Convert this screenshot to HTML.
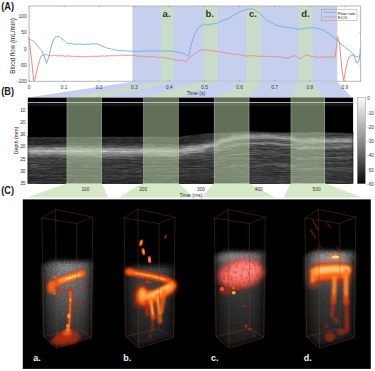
<!DOCTYPE html><html><head><meta charset="utf-8"><style>
html,body{margin:0;padding:0;background:#fff;width:375px;height:371px;overflow:hidden}
svg{display:block}
text{font-family:"Liberation Sans",sans-serif}
</style></head><body>
<svg width="375" height="371" viewBox="0 0 375 371">
<defs>
<filter id="hb" x="0" y="0" width="100%" height="100%"><feGaussianBlur stdDeviation="1.2 0.45"/></filter>
<filter id="b05" filterUnits="userSpaceOnUse" x="0" y="0" width="375" height="371"><feGaussianBlur stdDeviation="0.5"/></filter>
<filter id="b08" filterUnits="userSpaceOnUse" x="0" y="0" width="375" height="371"><feGaussianBlur stdDeviation="0.8"/></filter>
<filter id="b1" filterUnits="userSpaceOnUse" x="0" y="0" width="375" height="371"><feGaussianBlur stdDeviation="1.2"/></filter>
<filter id="b2" filterUnits="userSpaceOnUse" x="0" y="0" width="375" height="371"><feGaussianBlur stdDeviation="2"/></filter>
<filter id="b3" filterUnits="userSpaceOnUse" x="0" y="0" width="375" height="371"><feGaussianBlur stdDeviation="3"/></filter>
<filter id="b5" filterUnits="userSpaceOnUse" x="0" y="0" width="375" height="371"><feGaussianBlur stdDeviation="5"/></filter>
<linearGradient id="cbar" x1="0" y1="0" x2="0" y2="1"><stop offset="0" stop-color="#fafafa"/><stop offset="0.5" stop-color="#909090"/><stop offset="1" stop-color="#050505"/></linearGradient>
</defs>
<rect width="375" height="371" fill="#fff"/>

<rect x="132.4" y="6" width="204.9" height="75.3" fill="#c6d0ee"/>
<rect x="160.5" y="6" width="13.0" height="75.3" fill="#c9dcc9"/>
<rect x="203.5" y="6" width="14.099999999999994" height="75.3" fill="#c9dcc9"/>
<rect x="246.5" y="6" width="14.199999999999989" height="75.3" fill="#c9dcc9"/>
<rect x="298.5" y="6" width="14.300000000000011" height="75.3" fill="#c9dcc9"/>
<rect x="29" y="6" width="331.6" height="75.3" fill="none" stroke="#b8b8b8" stroke-width="1"/>
<line x1="29.0" y1="81.3" x2="29.0" y2="80.0" stroke="#777" stroke-width="0.5"/>
<line x1="29.0" y1="6" x2="29.0" y2="7.3" stroke="#777" stroke-width="0.5"/>
<line x1="64.1" y1="81.3" x2="64.1" y2="80.0" stroke="#777" stroke-width="0.5"/>
<line x1="64.1" y1="6" x2="64.1" y2="7.3" stroke="#777" stroke-width="0.5"/>
<line x1="99.2" y1="81.3" x2="99.2" y2="80.0" stroke="#777" stroke-width="0.5"/>
<line x1="99.2" y1="6" x2="99.2" y2="7.3" stroke="#777" stroke-width="0.5"/>
<line x1="134.3" y1="81.3" x2="134.3" y2="80.0" stroke="#777" stroke-width="0.5"/>
<line x1="134.3" y1="6" x2="134.3" y2="7.3" stroke="#777" stroke-width="0.5"/>
<line x1="169.4" y1="81.3" x2="169.4" y2="80.0" stroke="#777" stroke-width="0.5"/>
<line x1="169.4" y1="6" x2="169.4" y2="7.3" stroke="#777" stroke-width="0.5"/>
<line x1="204.5" y1="81.3" x2="204.5" y2="80.0" stroke="#777" stroke-width="0.5"/>
<line x1="204.5" y1="6" x2="204.5" y2="7.3" stroke="#777" stroke-width="0.5"/>
<line x1="239.6" y1="81.3" x2="239.6" y2="80.0" stroke="#777" stroke-width="0.5"/>
<line x1="239.6" y1="6" x2="239.6" y2="7.3" stroke="#777" stroke-width="0.5"/>
<line x1="274.7" y1="81.3" x2="274.7" y2="80.0" stroke="#777" stroke-width="0.5"/>
<line x1="274.7" y1="6" x2="274.7" y2="7.3" stroke="#777" stroke-width="0.5"/>
<line x1="309.8" y1="81.3" x2="309.8" y2="80.0" stroke="#777" stroke-width="0.5"/>
<line x1="309.8" y1="6" x2="309.8" y2="7.3" stroke="#777" stroke-width="0.5"/>
<line x1="344.9" y1="81.3" x2="344.9" y2="80.0" stroke="#777" stroke-width="0.5"/>
<line x1="344.9" y1="6" x2="344.9" y2="7.3" stroke="#777" stroke-width="0.5"/>
<line x1="29" y1="16" x2="30.3" y2="16" stroke="#777" stroke-width="0.5"/>
<line x1="360.6" y1="16" x2="359.3" y2="16" stroke="#777" stroke-width="0.5"/>
<text x="26.7" y="17.7" font-size="4.8" text-anchor="end" fill="#333">100</text>
<line x1="29" y1="32.4" x2="30.3" y2="32.4" stroke="#777" stroke-width="0.5"/>
<line x1="360.6" y1="32.4" x2="359.3" y2="32.4" stroke="#777" stroke-width="0.5"/>
<text x="26.7" y="34.1" font-size="4.8" text-anchor="end" fill="#333">50</text>
<line x1="29" y1="48.9" x2="30.3" y2="48.9" stroke="#777" stroke-width="0.5"/>
<line x1="360.6" y1="48.9" x2="359.3" y2="48.9" stroke="#777" stroke-width="0.5"/>
<text x="26.7" y="50.6" font-size="4.8" text-anchor="end" fill="#333">0</text>
<line x1="29" y1="65.4" x2="30.3" y2="65.4" stroke="#777" stroke-width="0.5"/>
<line x1="360.6" y1="65.4" x2="359.3" y2="65.4" stroke="#777" stroke-width="0.5"/>
<text x="26.7" y="67.10000000000001" font-size="4.8" text-anchor="end" fill="#333">-50</text>
<line x1="29" y1="81.3" x2="30.3" y2="81.3" stroke="#777" stroke-width="0.5"/>
<line x1="360.6" y1="81.3" x2="359.3" y2="81.3" stroke="#777" stroke-width="0.5"/>
<text x="26.7" y="83.0" font-size="4.8" text-anchor="end" fill="#333">-100</text>
<polyline points="28.9,37.5 29.8,44.6 30.6,52.0 31.5,59.2 32.4,67.5 33.2,76.0 34.1,81.2 35.2,78.2 36.1,73.7 37.1,69.8 38.0,65.7 38.8,63.0 39.6,60.4 40.4,57.9 41.2,55.9 42.3,55.5 43.3,55.3 44.4,54.8 45.2,54.5 46.0,54.6 46.8,54.8 47.6,54.9 48.4,55.4 49.2,55.6 50.0,55.8 50.8,55.4 51.6,55.8 52.4,55.5 53.3,55.6 54.1,55.8 54.9,55.4 55.7,55.4 56.5,56.0 57.3,55.6 58.1,55.7 59.0,55.9 59.8,56.0 60.6,55.5 61.4,55.8 62.2,55.9 63.0,55.9 63.8,55.8 64.7,56.1 65.5,56.3 66.3,56.0 67.1,56.1 67.9,55.8 68.7,56.0 69.5,56.3 70.3,55.9 71.2,56.5 72.0,56.5 72.8,56.0 73.6,56.6 74.4,56.2 75.2,56.6 76.0,56.6 76.9,56.3 77.7,56.6 78.5,56.6 79.3,56.7 80.1,56.4 80.9,56.7 81.7,56.9 82.6,56.7 83.4,56.7 84.2,56.4 85.0,56.7 85.8,56.6 86.6,56.8 87.4,56.7 88.2,56.6 89.1,56.3 89.9,56.6 90.7,56.6 91.5,56.2 92.3,56.7 93.1,56.5 93.9,56.1 94.7,56.7 95.5,56.1 96.4,56.2 97.2,56.4 98.0,56.3 98.8,56.3 99.6,56.3 100.4,56.1 101.2,56.0 102.0,55.9 102.8,55.8 103.7,56.2 104.5,56.2 105.3,56.0 106.1,56.1 106.9,55.8 107.7,55.7 108.5,55.8 109.3,56.1 110.2,55.5 111.0,55.8 111.8,55.6 112.6,55.9 113.4,55.6 114.2,55.6 115.0,55.6 115.8,55.7 116.6,55.8 117.5,55.5 118.3,55.8 119.1,55.2 119.9,55.3 120.7,55.2 121.5,55.2 122.3,55.6 123.1,55.5 123.9,55.1 124.8,55.1 125.6,55.2 126.4,55.4 127.2,55.4 128.0,55.4 128.8,55.3 129.6,55.1 130.4,55.3 131.2,55.2 132.0,55.5 132.8,55.6 133.6,55.4 134.4,55.5 135.2,55.9 136.0,55.4 136.8,56.0 137.7,56.2 138.5,56.2 139.3,55.9 140.1,56.1 140.9,56.2 141.7,56.3 142.5,56.6 143.3,56.4 144.1,56.2 144.9,56.6 145.7,56.4 146.5,56.6 147.3,56.7 148.1,56.3 148.9,56.9 149.7,56.8 150.5,56.8 151.3,56.9 152.1,56.9 152.9,56.7 153.7,57.0 154.5,56.7 155.3,57.1 156.2,57.3 157.0,57.2 157.8,57.3 158.6,57.7 159.4,57.7 160.2,57.2 161.0,57.7 161.8,57.7 162.6,57.3 163.4,57.6 164.2,57.6 165.0,57.5 165.8,58.0 166.6,58.4 167.5,58.1 168.3,58.7 169.1,58.7 169.9,58.4 170.7,59.1 171.6,59.1 172.4,59.4 173.2,59.4 174.0,59.6 174.8,59.5 175.7,59.9 176.5,60.2 177.3,60.3 178.1,60.1 178.9,60.5 179.8,60.5 180.6,60.3 181.4,60.4 182.2,60.6 183.0,60.8 183.9,61.0 184.7,61.3 185.5,61.6 186.3,60.8 187.2,59.9 188.0,59.3 188.8,58.3 189.7,57.6 190.5,57.1 191.3,56.1 192.2,55.1 193.0,54.9 193.9,54.3 194.7,53.5 195.6,53.1 196.4,52.7 197.3,52.3 198.2,51.5 199.0,50.9 199.9,50.6 200.7,50.5 201.6,49.6 202.4,49.9 203.3,49.8 204.1,49.9 205.0,49.9 205.8,50.2 206.6,50.1 207.5,50.1 208.3,50.2 209.1,50.4 210.0,50.7 210.8,50.5 211.7,50.5 212.5,50.9 213.3,51.0 214.2,51.3 215.0,50.9 215.9,51.2 216.7,51.3 217.5,51.2 218.3,52.0 219.1,51.6 219.9,51.6 220.8,52.0 221.6,52.0 222.4,52.4 223.2,52.3 224.0,52.3 224.8,52.4 225.6,53.0 226.4,52.8 227.3,53.3 228.1,53.2 228.9,53.7 229.7,53.4 230.5,53.4 231.3,53.6 232.1,54.1 232.9,54.1 233.7,54.0 234.5,53.9 235.3,54.4 236.1,54.8 236.9,54.6 237.8,54.3 238.6,54.4 239.4,54.6 240.2,54.8 241.0,54.8 241.8,54.9 242.6,55.5 243.4,55.7 244.2,55.4 245.0,56.0 245.8,55.7 246.6,56.0 247.4,56.1 248.2,56.1 249.0,55.5 249.9,55.7 250.7,56.0 251.5,56.2 252.3,55.7 253.1,55.8 253.9,56.2 254.7,55.8 255.5,56.0 256.3,56.0 257.1,56.2 257.9,56.4 258.7,55.9 259.6,56.4 260.4,56.4 261.2,56.5 262.0,56.3 262.8,56.6 263.6,56.2 264.4,56.3 265.2,56.2 266.0,56.6 266.8,56.4 267.6,56.3 268.4,56.3 269.3,56.7 270.1,56.6 270.9,56.7 271.7,56.5 272.5,56.6 273.3,56.4 274.1,56.8 274.9,56.4 275.7,56.7 276.5,57.0 277.3,56.9 278.1,56.6 279.0,56.7 279.8,57.1 280.6,57.0 281.4,57.2 282.2,57.2 283.0,57.0 283.8,57.7 284.6,57.9 285.4,58.0 286.2,58.4 287.0,58.6 287.8,58.3 288.6,58.3 289.4,57.2 290.2,57.0 291.0,56.2 291.9,56.1 292.9,56.4 293.8,56.1 294.8,55.9 295.7,55.9 296.5,56.7 297.3,57.1 298.1,57.2 299.0,57.8 299.8,58.8 300.6,58.7 301.6,58.2 302.5,57.3 303.5,56.8 304.4,55.9 305.4,55.2 306.2,55.2 307.0,55.1 307.8,55.3 308.6,55.4 309.4,56.1 310.2,55.8 311.0,55.9 311.8,56.7 312.6,56.4 313.4,57.0 314.2,56.6 315.0,57.1 315.8,56.9 316.6,57.3 317.4,57.2 318.2,57.2 319.1,57.3 319.9,57.4 320.7,57.0 321.5,57.2 322.3,57.1 323.1,56.8 323.9,57.3 324.7,57.2 325.6,57.3 326.4,56.9 327.2,57.1 328.0,57.1 328.8,57.3 329.6,56.8 330.4,57.0 331.2,57.1 332.1,56.8 332.9,57.1 333.7,57.3 334.5,57.0 335.3,57.2 336.4,46.9 337.5,36.4 338.4,39.2 339.4,42.3 340.2,51.2 341.1,60.6 341.9,69.7 342.8,75.3 343.7,80.8 344.6,75.8 345.5,70.2 346.3,66.9 347.2,63.7 348.0,60.1 349.5,56.8 350.3,56.0 351.2,55.3 352.0,55.1 352.8,55.4 353.6,55.8 354.4,55.7 355.2,56.3 356.0,56.3 356.8,56.7 357.7,56.7 358.5,56.2 359.4,56.6 360.2,56.3" fill="none" stroke="#f28686" stroke-width="1" stroke-linejoin="round"/>
<polyline points="28.9,38.3 29.8,39.1 30.6,39.6 31.5,40.3 32.4,40.9 33.3,41.1 34.1,41.6 35.0,42.7 35.8,43.3 36.6,44.3 37.4,45.8 38.2,46.4 39.1,47.7 39.9,48.4 40.7,49.5 41.5,50.2 42.3,51.5 43.4,54.5 44.5,57.0 45.5,60.3 46.6,63.4 47.5,60.3 48.5,58.2 49.7,53.2 50.9,48.1 52.0,44.0 53.2,40.8 54.4,38.6 55.5,36.9 56.4,36.7 57.2,36.3 58.4,36.7 59.6,36.6 60.5,37.6 61.3,38.1 62.1,39.2 63.0,39.9 63.8,40.0 64.7,40.8 65.5,41.6 66.4,42.8 67.2,43.2 68.2,43.5 69.3,43.4 70.3,43.7 71.2,43.7 72.2,43.8 73.1,44.0 74.1,44.1 75.0,44.4 75.8,44.2 76.7,44.3 77.5,44.2 78.3,44.2 79.2,44.0 80.0,43.6 80.8,44.2 81.7,44.4 82.5,44.4 83.3,44.3 84.2,44.5 85.0,44.3 85.8,44.7 86.6,44.4 87.4,44.2 88.2,44.0 89.0,44.5 89.8,44.5 90.7,43.8 91.5,44.2 92.3,43.9 93.1,43.7 93.9,43.7 94.7,44.0 95.6,44.2 96.5,43.8 97.3,44.4 98.2,44.2 99.1,44.9 100.0,44.8 100.8,45.6 101.7,46.0 102.5,46.1 103.3,46.8 104.1,46.8 104.9,47.0 105.8,47.8 106.6,47.8 107.4,48.1 108.2,48.4 109.1,48.7 109.9,48.5 110.7,48.6 111.5,49.4 112.4,49.2 113.2,49.8 114.0,49.9 114.8,49.7 115.7,49.9 116.5,50.1 117.3,50.4 118.1,50.4 119.0,50.5 119.8,50.6 120.7,50.9 121.5,50.6 122.3,50.6 123.2,50.9 124.0,50.6 124.8,50.7 125.7,51.2 126.5,51.0 127.4,51.1 128.2,50.8 129.0,51.1 129.9,51.3 130.7,50.9 131.6,51.4 132.4,51.5 133.2,51.1 134.1,51.5 134.9,51.3 135.8,51.4 136.6,51.2 137.4,51.4 138.3,51.4 139.1,50.9 139.9,50.9 140.8,51.3 141.6,51.5 142.5,51.0 143.3,51.1 144.1,51.2 145.0,51.0 145.8,51.0 146.6,50.9 147.5,51.0 148.3,51.1 149.2,50.9 150.0,50.9 150.8,51.2 151.7,50.7 152.5,51.0 153.3,51.1 154.2,50.8 155.0,50.8 155.8,51.2 156.7,50.8 157.5,50.7 158.3,50.9 159.2,51.1 160.0,50.7 160.8,50.8 161.7,50.8 162.5,51.2 163.3,50.9 164.2,51.2 165.0,50.7 165.9,50.8 166.7,51.1 167.6,51.3 168.4,51.1 169.3,51.0 170.2,50.9 171.0,51.3 171.9,51.1 172.7,51.6 173.6,51.6 174.5,51.3 175.3,51.5 176.2,52.1 177.0,52.1 177.9,52.4 178.8,52.2 179.6,52.2 180.5,52.5 181.3,53.0 182.2,52.7 183.0,53.2 183.8,53.6 184.6,54.0 185.4,54.4 186.3,55.2 187.1,55.1 187.9,55.4 188.7,56.4 189.5,52.7 190.3,49.2 191.2,45.2 192.0,41.9 193.1,38.7 194.1,35.0 195.0,33.9 195.8,32.4 196.7,30.8 197.5,29.1 198.4,27.5 199.3,26.9 200.2,26.2 201.1,25.5 202.0,25.3 202.9,24.5 203.8,24.2 204.7,23.8 205.5,24.6 206.4,24.6 207.2,24.9 208.1,25.1 209.0,24.9 209.8,24.6 210.7,24.0 211.5,24.4 212.4,23.8 213.3,23.8 214.1,23.9 215.0,23.6 215.8,23.4 216.7,23.6 217.6,23.0 218.4,22.3 219.3,21.9 220.1,21.9 221.0,21.2 221.9,21.1 222.7,20.4 223.6,20.0 224.5,19.9 225.3,19.8 226.2,19.0 227.1,19.1 228.0,18.9 228.8,18.4 229.7,18.1 230.6,17.0 231.4,16.9 232.3,16.5 233.1,15.4 234.0,15.0 234.9,14.5 235.7,14.1 236.6,13.5 237.4,13.0 238.3,12.7 239.1,11.8 240.0,11.6 240.8,11.3 241.7,11.0 242.5,10.6 243.3,11.0 244.2,10.6 245.0,9.7 246.0,9.7 247.0,9.2 248.0,8.9 248.9,8.9 249.9,9.2 250.8,9.2 251.7,9.1 252.7,9.0 253.6,9.2 254.4,9.6 255.2,10.4 256.0,11.1 256.8,11.4 257.6,11.7 258.4,12.3 259.2,13.0 260.0,13.7 260.8,14.6 261.6,15.1 262.5,16.2 263.3,16.9 264.1,17.6 265.0,18.4 265.8,19.3 266.6,20.2 267.4,20.5 268.2,21.1 269.1,21.3 269.9,21.6 270.7,22.2 271.5,22.7 272.4,22.7 273.2,23.4 274.0,23.8 274.8,24.5 275.7,25.0 276.5,25.0 277.3,25.8 278.1,25.9 278.9,25.7 279.8,26.0 280.6,25.9 281.4,26.5 282.2,26.6 283.1,26.9 283.9,27.0 284.7,27.1 285.5,27.3 286.4,27.3 287.2,27.2 288.0,27.7 288.8,27.4 289.7,27.6 290.5,28.1 291.4,27.7 292.2,27.9 293.0,28.0 293.9,28.7 294.7,28.3 295.5,28.3 296.4,29.0 297.2,28.6 298.1,29.2 298.9,29.2 299.7,29.2 300.6,29.2 301.4,28.8 302.2,28.8 303.1,28.2 303.9,28.6 304.7,28.3 305.5,28.3 306.4,27.8 307.2,28.1 308.0,28.1 308.9,27.4 309.7,27.5 310.6,27.7 311.5,27.9 312.4,27.6 313.2,27.6 314.1,27.7 315.0,28.0 315.8,28.3 316.6,28.2 317.4,28.4 318.2,28.7 319.0,28.8 319.9,29.1 320.7,29.1 321.5,29.6 322.3,30.1 323.1,29.9 323.9,30.4 324.7,30.2 325.5,31.1 326.3,31.8 327.1,32.3 328.0,32.8 328.8,33.4 329.6,34.1 330.4,35.0 331.2,35.1 332.1,35.8 332.9,36.9 333.7,37.7 334.5,38.1 335.4,38.8 336.2,39.7 337.0,40.0 337.9,40.9 338.8,41.8 339.7,43.0 340.6,43.5 341.5,44.1 342.3,45.1 343.2,46.0 344.1,46.3 344.9,47.2 345.7,47.6 346.5,48.6 347.3,49.0 348.2,49.5 349.0,50.1 349.8,50.6 350.6,51.5 351.4,52.1 352.4,53.0 353.5,54.2 355.0,58.4 356.5,62.8 357.8,63.0 359.0,60.8 359.8,55.0 360.3,49.5" fill="none" stroke="#70b0e4" stroke-width="1" stroke-linejoin="round"/>
<rect x="337.3" y="9.4" width="19.5" height="11" fill="#fff"/>
<rect x="321.6" y="9.2" width="35.4" height="11.4" fill="none" stroke="#9a9a9a" stroke-width="0.5"/>
<line x1="323.4" y1="12.4" x2="336.8" y2="12.4" stroke="#70b0e4" stroke-width="0.8"/>
<line x1="323.4" y1="17" x2="336.8" y2="17" stroke="#f28686" stroke-width="0.8"/>
<text x="337.8" y="14.6" font-size="4.3" fill="#222">Flow rate</text>
<text x="337.8" y="19.4" font-size="4.3" fill="#222">ECG</text>
<text x="162.6" y="17" font-size="9.5" font-weight="bold" fill="#333">a.</text>
<text x="205.4" y="17" font-size="9.5" font-weight="bold" fill="#333">b.</text>
<text x="248.9" y="17" font-size="9.5" font-weight="bold" fill="#333">c.</text>
<text x="301.3" y="17" font-size="9.5" font-weight="bold" fill="#333">d.</text>
<text transform="translate(15.2,46) rotate(-90)" font-size="6.3" text-anchor="middle" fill="#222">Blood flow (mL/min)</text>
<text x="1.2" y="9.7" font-size="10" font-weight="bold" textLength="12.8" lengthAdjust="spacingAndGlyphs" fill="#1a1a1a">(A)</text>
<polygon points="132.4,81.8 337.3,81.8 352,97.6 27.8,97.6" fill="#c6d0ee"/>
<polygon points="160.5,81.8 173.5,81.8 101.9,97.6 66.7,97.6" fill="#c9dcc9"/>
<polygon points="203.5,81.8 217.6,81.8 178.7,97.6 143.2,97.6" fill="#c9dcc9"/>
<polygon points="246.5,81.8 260.7,81.8 249.3,97.6 213.9,97.6" fill="#c9dcc9"/>
<polygon points="298.5,81.8 312.8,81.8 325.0,97.6 290.7,97.6" fill="#c9dcc9"/>
<text x="29.0" y="88.7" font-size="4.8" text-anchor="middle" fill="#333">0</text>
<text x="64.1" y="88.7" font-size="4.8" text-anchor="middle" fill="#333">0.1</text>
<text x="99.2" y="88.7" font-size="4.8" text-anchor="middle" fill="#333">0.2</text>
<text x="134.3" y="88.7" font-size="4.8" text-anchor="middle" fill="#333">0.3</text>
<text x="169.4" y="88.7" font-size="4.8" text-anchor="middle" fill="#333">0.4</text>
<text x="204.5" y="88.7" font-size="4.8" text-anchor="middle" fill="#333">0.5</text>
<text x="239.6" y="88.7" font-size="4.8" text-anchor="middle" fill="#333">0.6</text>
<text x="274.7" y="88.7" font-size="4.8" text-anchor="middle" fill="#333">0.7</text>
<text x="309.8" y="88.7" font-size="4.8" text-anchor="middle" fill="#333">0.8</text>
<text x="344.9" y="88.7" font-size="4.8" text-anchor="middle" fill="#333">0.9</text>
<text x="196" y="95.2" font-size="5" text-anchor="middle" fill="#333">Time (s)</text>
<text x="1.2" y="95.1" font-size="10" font-weight="bold" textLength="12.8" lengthAdjust="spacingAndGlyphs" fill="#1a1a1a">(B)</text>
<rect x="27.8" y="97.6" width="325.3" height="85.70000000000002" fill="#000"/>
<rect x="27.8" y="102.0" width="325.3" height="1.1" fill="#a8a8a8"/>
<rect x="27.8" y="104.6" width="325.3" height="0.8" fill="#303030"/>
<g filter="url(#hb)">
<path d="M231.7 131h5.1v1h-5.1zM266.2 131h1.5v1h-1.5zM267.8 131h6.5v1h-6.5zM305.4 131h5.2v1h-5.2zM310.6 131h1.5v1h-1.5zM312.1 131h6.6v1h-6.6zM318.7 131h4.6v1h-4.6zM323.3 131h4.8v1h-4.8zM212.5 132h6.5v1h-6.5zM347.4 132h5.3v1h-5.3zM202.0 133h2.3v1h-2.3zM189.1 134h3.4v1h-3.4zM27.8 136h0.7v1h-0.7zM28.5 136h5.1v1h-5.1zM33.7 136h3.4v1h-3.4zM37.1 136h2.7v1h-2.7zM39.8 136h3.9v1h-3.9zM43.7 136h5.7v1h-5.7zM49.4 136h4.3v1h-4.3zM53.7 136h2.7v1h-2.7zM56.4 136h4.8v1h-4.8zM61.2 136h4.9v1h-4.9zM75.8 136h3.9v1h-3.9zM79.7 136h4.7v1h-4.7zM88.8 136h4.0v1h-4.0z" fill="rgb(0,0,0)"/>
<path d="M236.9 131h3.8v1h-3.8zM259.6 131h6.6v1h-6.6zM219.1 132h3.8v1h-3.8zM341.8 132h5.6v1h-5.6zM352.7 132h0.4v1h-0.4zM192.6 134h4.9v1h-4.9zM184.6 135h1.9v1h-1.9zM66.1 136h4.0v1h-4.0zM70.1 136h5.7v1h-5.7zM84.4 136h4.4v1h-4.4zM92.7 136h1.8v1h-1.8zM94.5 136h6.7v1h-6.7zM101.2 136h2.8v1h-2.8zM104.0 136h5.0v1h-5.0zM109.0 136h3.8v1h-3.8zM112.9 136h3.7v1h-3.7zM116.5 136h4.0v1h-4.0zM120.5 136h4.3v1h-4.3zM124.8 136h6.0v1h-6.0zM130.8 136h3.1v1h-3.1zM133.9 136h3.4v1h-3.4zM137.3 136h4.3v1h-4.3zM141.6 136h4.7v1h-4.7zM146.4 136h6.7v1h-6.7zM153.0 136h3.4v1h-3.4zM162.9 136h6.9v1h-6.9zM174.9 136h3.2v1h-3.2z" fill="rgb(8,8,8)"/>
<path d="M240.7 131h4.3v1h-4.3zM255.4 131h4.2v1h-4.2zM222.9 132h3.0v1h-3.0zM335.1 132h6.7v1h-6.7zM156.4 136h6.5v1h-6.5zM169.8 136h5.1v1h-5.1zM178.1 136h4.7v1h-4.7z" fill="rgb(16,16,16)"/>
<path d="M225.9 132h2.6v1h-2.6zM228.5 132h5.2v1h-5.2zM329.7 132h5.4v1h-5.4zM186.5 135h2.9v1h-2.9z" fill="rgb(24,24,24)"/>
<path d="M245.0 131h4.7v1h-4.7zM249.7 131h2.2v1h-2.2zM251.9 131h3.5v1h-3.5zM281.3 132h5.4v1h-5.4zM288.9 132h5.9v1h-5.9zM300.8 132h6.9v1h-6.9zM324.6 132h5.1v1h-5.1zM204.3 133h6.2v1h-6.2zM197.5 134h5.8v1h-5.8zM189.4 135h4.5v1h-4.5zM27.8 137h4.0v1h-4.0zM51.4 137h3.4v1h-3.4zM74.2 137h1.7v1h-1.7zM166.6 137h5.5v1h-5.5zM27.8 139h0.4v1h-0.4zM28.2 139h3.5v1h-3.5zM71.7 139h6.9v1h-6.9zM87.8 139h2.8v1h-2.8zM90.6 139h5.1v1h-5.1zM97.3 139h2.2v1h-2.2zM99.4 139h5.4v1h-5.4zM124.0 139h2.2v1h-2.2zM153.7 139h6.0v1h-6.0zM159.7 139h6.0v1h-6.0zM165.7 139h3.9v1h-3.9zM175.4 139h5.9v1h-5.9zM181.3 139h4.0v1h-4.0zM191.2 139h2.6v1h-2.6zM27.8 140h4.2v1h-4.2zM40.7 140h1.9v1h-1.9zM42.7 140h3.0v1h-3.0zM67.8 140h6.0v1h-6.0zM77.1 140h5.3v1h-5.3zM82.4 140h3.1v1h-3.1zM85.5 140h5.8v1h-5.8zM91.3 140h4.8v1h-4.8zM102.5 140h5.4v1h-5.4zM40.9 141h4.2v1h-4.2zM54.9 141h2.3v1h-2.3zM57.2 141h3.0v1h-3.0zM139.7 141h3.1v1h-3.1zM142.8 141h2.8v1h-2.8zM151.9 141h2.0v1h-2.0zM154.0 141h6.7v1h-6.7zM160.7 141h5.9v1h-5.9zM48.1 142h1.6v1h-1.6zM49.7 142h4.7v1h-4.7zM54.4 142h1.6v1h-1.6zM56.0 142h3.3v1h-3.3zM59.3 142h4.9v1h-4.9zM64.3 142h5.7v1h-5.7zM79.3 142h2.7v1h-2.7zM82.0 142h4.0v1h-4.0zM122.8 142h3.7v1h-3.7zM134.2 142h5.2v1h-5.2zM178.4 142h3.7v1h-3.7zM152.5 143h2.3v1h-2.3zM133.1 174h5.6v1h-5.6zM158.0 174h4.8v1h-4.8zM173.3 174h2.9v1h-2.9zM47.3 177h5.8v1h-5.8zM78.1 177h5.7v1h-5.7zM87.0 177h3.9v1h-3.9zM37.5 178h2.1v1h-2.1zM208.5 179h1.6v1h-1.6zM216.6 179h6.7v1h-6.7zM31.2 180h6.2v1h-6.2zM195.9 180h3.1v1h-3.1zM189.8 181h5.7v1h-5.7zM216.1 181h6.1v1h-6.1zM103.6 182h2.2v1h-2.2zM194.4 182h5.1v1h-5.1zM41.3 183h5.7v1h-5.7zM62.5 183h5.6v1h-5.6zM74.1 183h7.0v1h-7.0zM89.4 183h2.0v1h-2.0zM126.6 183h6.8v1h-6.8zM133.4 183h4.7v1h-4.7zM172.8 183h6.7v1h-6.7zM179.4 183h5.5v1h-5.5zM186.6 183h4.5v1h-4.5z" fill="rgb(32,32,32)"/>
<path d="M233.6 132h3.7v1h-3.7zM271.9 132h3.6v1h-3.6zM275.5 132h1.6v1h-1.6zM277.1 132h4.2v1h-4.2zM286.7 132h2.1v1h-2.1zM210.6 133h2.3v1h-2.3zM193.9 135h3.4v1h-3.4zM197.3 135h2.8v1h-2.8zM203.4 135h3.6v1h-3.6zM213.2 135h2.5v1h-2.5zM189.0 136h5.3v1h-5.3zM196.5 136h3.0v1h-3.0zM37.5 137h4.3v1h-4.3zM67.1 137h5.7v1h-5.7zM78.6 137h4.7v1h-4.7zM83.3 137h6.2v1h-6.2zM89.5 137h5.2v1h-5.2zM134.1 137h4.7v1h-4.7zM153.2 137h6.5v1h-6.5zM159.7 137h6.9v1h-6.9zM172.1 137h6.1v1h-6.1zM190.0 137h4.5v1h-4.5zM194.5 137h6.6v1h-6.6zM215.8 137h3.6v1h-3.6zM68.9 138h3.0v1h-3.0zM71.9 138h3.1v1h-3.1zM78.5 138h6.6v1h-6.6zM108.4 138h4.9v1h-4.9zM113.2 138h1.7v1h-1.7zM121.9 138h5.1v1h-5.1zM149.4 138h5.2v1h-5.2zM173.9 138h3.1v1h-3.1zM186.1 138h3.3v1h-3.3zM203.1 138h2.1v1h-2.1zM35.6 139h6.1v1h-6.1zM45.7 139h4.6v1h-4.6zM62.2 139h1.5v1h-1.5zM69.2 139h2.6v1h-2.6zM78.6 139h1.6v1h-1.6zM80.2 139h5.8v1h-5.8zM95.7 139h1.6v1h-1.6zM104.9 139h5.4v1h-5.4zM110.3 139h6.8v1h-6.8zM117.1 139h6.9v1h-6.9zM126.2 139h6.4v1h-6.4zM132.6 139h3.5v1h-3.5zM136.1 139h5.5v1h-5.5zM147.8 139h2.4v1h-2.4zM150.2 139h3.5v1h-3.5zM188.3 139h3.0v1h-3.0zM193.8 139h2.8v1h-2.8zM196.5 139h5.6v1h-5.6zM32.0 140h4.9v1h-4.9zM36.9 140h3.9v1h-3.9zM45.7 140h2.2v1h-2.2zM47.9 140h2.8v1h-2.8zM57.0 140h4.6v1h-4.6zM63.7 140h4.1v1h-4.1zM73.8 140h3.3v1h-3.3zM96.1 140h3.7v1h-3.7zM99.8 140h2.7v1h-2.7zM126.4 140h3.1v1h-3.1zM135.2 140h3.9v1h-3.9zM179.2 140h4.7v1h-4.7zM27.8 141h1.0v1h-1.0zM33.9 141h3.1v1h-3.1zM37.0 141h1.8v1h-1.8zM48.6 141h2.8v1h-2.8zM63.2 141h6.0v1h-6.0zM77.4 141h3.1v1h-3.1zM83.7 141h5.4v1h-5.4zM94.2 141h6.2v1h-6.2zM100.4 141h4.4v1h-4.4zM104.9 141h4.4v1h-4.4zM111.2 141h4.1v1h-4.1zM121.1 141h6.7v1h-6.7zM133.9 141h1.9v1h-1.9zM135.7 141h4.0v1h-4.0zM145.6 141h6.4v1h-6.4zM175.8 141h5.1v1h-5.1zM180.9 141h2.6v1h-2.6zM187.3 141h6.2v1h-6.2zM197.4 141h2.2v1h-2.2zM32.1 142h3.8v1h-3.8zM42.8 142h5.3v1h-5.3zM70.0 142h3.1v1h-3.1zM73.1 142h6.3v1h-6.3zM86.0 142h3.8v1h-3.8zM89.9 142h6.4v1h-6.4zM102.0 142h4.9v1h-4.9zM126.5 142h2.8v1h-2.8zM143.8 142h5.0v1h-5.0zM152.7 142h4.4v1h-4.4zM161.5 142h4.2v1h-4.2zM165.7 142h6.5v1h-6.5zM172.2 142h6.2v1h-6.2zM182.1 142h6.5v1h-6.5zM34.7 143h6.5v1h-6.5zM41.3 143h5.3v1h-5.3zM53.3 143h5.7v1h-5.7zM120.5 143h2.1v1h-2.1zM141.4 143h4.9v1h-4.9zM154.8 143h5.5v1h-5.5zM160.3 143h3.9v1h-3.9zM166.1 143h6.1v1h-6.1zM175.5 143h6.8v1h-6.8zM182.2 143h4.3v1h-4.3zM28.5 144h3.9v1h-3.9zM36.1 144h6.3v1h-6.3zM45.0 144h4.8v1h-4.8zM88.3 144h4.2v1h-4.2zM103.1 144h2.3v1h-2.3zM233.8 156h5.0v1h-5.0zM244.8 156h2.9v1h-2.9zM280.1 156h1.8v1h-1.8zM281.2 158h2.3v1h-2.3zM126.9 163h4.6v1h-4.6zM134.0 163h4.2v1h-4.2zM190.5 163h6.6v1h-6.6zM67.7 164h4.2v1h-4.2zM71.8 164h6.8v1h-6.8zM139.8 164h5.6v1h-5.6zM158.2 164h3.8v1h-3.8zM171.4 164h6.7v1h-6.7zM126.6 166h2.3v1h-2.3zM60.3 167h4.0v1h-4.0zM154.1 167h2.1v1h-2.1zM156.2 167h5.8v1h-5.8zM176.3 167h2.6v1h-2.6zM185.4 167h1.8v1h-1.8zM191.7 167h5.0v1h-5.0zM75.3 168h1.6v1h-1.6zM76.9 168h2.9v1h-2.9zM79.8 168h6.8v1h-6.8zM88.2 168h3.9v1h-3.9zM92.1 168h5.6v1h-5.6zM119.6 168h4.9v1h-4.9zM208.6 168h5.8v1h-5.8zM27.8 170h3.1v1h-3.1zM37.6 170h3.8v1h-3.8zM27.8 171h3.9v1h-3.9zM110.3 171h2.0v1h-2.0zM78.5 172h2.3v1h-2.3zM114.7 172h1.6v1h-1.6zM175.5 172h1.7v1h-1.7zM275.4 172h5.6v1h-5.6zM285.4 172h5.2v1h-5.2zM290.6 172h3.4v1h-3.4zM27.8 173h2.5v1h-2.5zM41.9 173h6.0v1h-6.0zM60.7 173h4.7v1h-4.7zM68.2 173h1.9v1h-1.9zM92.0 173h4.9v1h-4.9zM96.9 173h4.1v1h-4.1zM127.0 173h3.0v1h-3.0zM150.9 173h6.1v1h-6.1zM191.1 173h2.5v1h-2.5zM53.8 174h6.3v1h-6.3zM60.1 174h4.4v1h-4.4zM71.4 174h5.7v1h-5.7zM116.3 174h6.4v1h-6.4zM146.4 174h4.6v1h-4.6zM162.7 174h3.5v1h-3.5zM166.2 174h3.3v1h-3.3zM169.5 174h1.7v1h-1.7zM268.9 174h6.9v1h-6.9zM294.5 174h3.6v1h-3.6zM217.5 175h6.8v1h-6.8zM33.6 176h1.5v1h-1.5zM62.6 176h3.4v1h-3.4zM334.5 176h2.1v1h-2.1zM30.7 177h4.3v1h-4.3zM41.9 177h5.4v1h-5.4zM62.1 177h6.5v1h-6.5zM71.4 177h4.7v1h-4.7zM83.9 177h3.1v1h-3.1zM106.7 177h3.2v1h-3.2zM132.2 177h3.1v1h-3.1zM141.7 177h4.5v1h-4.5zM153.8 177h3.8v1h-3.8zM157.6 177h5.4v1h-5.4zM173.0 177h4.6v1h-4.6zM183.6 177h1.6v1h-1.6zM27.8 178h5.1v1h-5.1zM32.9 178h4.6v1h-4.6zM39.6 178h7.0v1h-7.0zM124.6 178h6.3v1h-6.3zM130.9 178h3.6v1h-3.6zM134.5 178h4.2v1h-4.2zM138.7 178h5.8v1h-5.8zM144.5 178h4.9v1h-4.9zM210.6 178h3.8v1h-3.8zM69.4 179h5.0v1h-5.0zM120.1 179h6.9v1h-6.9zM129.6 179h3.8v1h-3.8zM144.0 179h5.2v1h-5.2zM149.2 179h2.0v1h-2.0zM159.1 179h3.1v1h-3.1zM171.8 179h6.8v1h-6.8zM178.5 179h5.6v1h-5.6zM203.9 179h1.8v1h-1.8zM205.7 179h2.8v1h-2.8zM210.1 179h6.5v1h-6.5zM329.8 179h6.0v1h-6.0zM350.6 179h2.5v1h-2.5zM27.8 180h3.4v1h-3.4zM45.8 180h3.1v1h-3.1zM48.9 180h6.7v1h-6.7zM55.6 180h5.4v1h-5.4zM61.0 180h5.3v1h-5.3zM69.2 180h4.3v1h-4.3zM73.5 180h3.0v1h-3.0zM80.2 180h6.0v1h-6.0zM86.2 180h5.5v1h-5.5zM107.4 180h5.6v1h-5.6zM112.9 180h6.4v1h-6.4zM119.3 180h6.6v1h-6.6zM125.9 180h1.7v1h-1.7zM147.2 180h3.6v1h-3.6zM162.4 180h3.8v1h-3.8zM166.2 180h5.5v1h-5.5zM173.7 180h4.2v1h-4.2zM177.9 180h4.0v1h-4.0zM184.5 180h6.2v1h-6.2zM190.7 180h5.2v1h-5.2zM344.0 180h1.8v1h-1.8zM345.8 180h2.3v1h-2.3zM69.1 181h5.0v1h-5.0zM111.3 181h6.5v1h-6.5zM121.1 181h2.9v1h-2.9zM130.5 181h1.7v1h-1.7zM134.1 181h5.2v1h-5.2zM148.4 181h5.6v1h-5.6zM160.8 181h5.2v1h-5.2zM166.0 181h5.9v1h-5.9zM177.6 181h5.1v1h-5.1zM182.8 181h7.0v1h-7.0zM205.4 181h6.2v1h-6.2zM211.6 181h4.5v1h-4.5zM222.2 181h5.1v1h-5.1zM242.4 181h4.6v1h-4.6zM68.4 182h3.0v1h-3.0zM85.2 182h4.0v1h-4.0zM99.0 182h4.6v1h-4.6zM105.8 182h5.4v1h-5.4zM116.1 182h6.1v1h-6.1zM129.8 182h6.9v1h-6.9zM147.6 182h5.4v1h-5.4zM156.1 182h3.9v1h-3.9zM163.4 182h5.9v1h-5.9zM199.4 182h2.9v1h-2.9zM202.3 182h6.9v1h-6.9zM219.7 182h2.1v1h-2.1zM224.9 182h2.8v1h-2.8zM227.7 182h2.9v1h-2.9zM230.6 182h3.2v1h-3.2zM59.3 183h3.2v1h-3.2zM68.1 183h6.1v1h-6.1zM81.1 183h1.5v1h-1.5zM82.6 183h6.7v1h-6.7zM91.4 183h4.0v1h-4.0zM95.4 183h6.6v1h-6.6zM102.0 183h3.7v1h-3.7zM120.5 183h6.1v1h-6.1zM141.8 183h4.1v1h-4.1zM151.8 183h6.0v1h-6.0zM163.9 183h3.0v1h-3.0zM166.9 183h5.9v1h-5.9zM185.0 183h1.7v1h-1.7zM198.4 183h5.5v1h-5.5zM204.0 183h4.6v1h-4.6zM208.5 183h6.9v1h-6.9zM246.1 183h5.4v1h-5.4zM251.5 183h1.6v1h-1.6zM256.1 183h4.8v1h-4.8zM337.0 183h3.4v1h-3.4zM340.4 183h4.7v1h-4.7zM351.4 183h1.7v1h-1.7z" fill="rgb(40,40,40)"/>
<path d="M237.3 132h4.8v1h-4.8zM242.1 132h4.7v1h-4.7zM260.2 132h5.7v1h-5.7zM265.9 132h2.4v1h-2.4zM268.3 132h3.6v1h-3.6zM294.7 132h6.1v1h-6.1zM307.7 132h2.1v1h-2.1zM309.8 132h5.6v1h-5.6zM315.4 132h5.2v1h-5.2zM320.6 132h1.9v1h-1.9zM322.6 132h2.0v1h-2.0zM212.9 133h1.8v1h-1.8zM214.7 133h6.6v1h-6.6zM346.3 133h5.1v1h-5.1zM214.8 134h1.6v1h-1.6zM216.4 134h4.0v1h-4.0zM206.9 135h6.3v1h-6.3zM215.7 135h2.2v1h-2.2zM306.5 135h3.9v1h-3.9zM317.5 135h6.4v1h-6.4zM330.2 135h7.0v1h-7.0zM341.8 135h1.9v1h-1.9zM182.8 136h6.2v1h-6.2zM194.3 136h2.2v1h-2.2zM199.5 136h4.1v1h-4.1zM203.6 136h6.3v1h-6.3zM209.9 136h5.6v1h-5.6zM215.4 136h3.1v1h-3.1zM218.6 136h6.0v1h-6.0zM310.4 136h1.7v1h-1.7zM31.8 137h5.7v1h-5.7zM41.8 137h4.8v1h-4.8zM46.6 137h4.9v1h-4.9zM54.9 137h6.6v1h-6.6zM61.5 137h5.6v1h-5.6zM72.7 137h1.5v1h-1.5zM75.9 137h2.6v1h-2.6zM94.7 137h6.7v1h-6.7zM101.4 137h4.2v1h-4.2zM105.6 137h1.9v1h-1.9zM109.6 137h7.0v1h-7.0zM119.3 137h5.9v1h-5.9zM138.7 137h5.1v1h-5.1zM178.1 137h5.9v1h-5.9zM184.0 137h6.0v1h-6.0zM211.5 137h2.4v1h-2.4zM213.9 137h1.9v1h-1.9zM27.8 138h3.5v1h-3.5zM31.3 138h4.6v1h-4.6zM35.9 138h3.0v1h-3.0zM42.9 138h4.5v1h-4.5zM47.5 138h2.5v1h-2.5zM50.0 138h4.4v1h-4.4zM60.6 138h6.5v1h-6.5zM75.0 138h3.5v1h-3.5zM85.1 138h5.5v1h-5.5zM90.6 138h2.6v1h-2.6zM93.2 138h3.4v1h-3.4zM127.0 138h3.9v1h-3.9zM130.9 138h5.2v1h-5.2zM136.1 138h2.4v1h-2.4zM138.6 138h5.2v1h-5.2zM143.7 138h5.7v1h-5.7zM154.6 138h3.6v1h-3.6zM158.1 138h3.2v1h-3.2zM161.3 138h4.0v1h-4.0zM182.6 138h3.5v1h-3.5zM189.4 138h3.2v1h-3.2zM192.7 138h5.9v1h-5.9zM198.5 138h4.6v1h-4.6zM205.2 138h6.2v1h-6.2zM31.7 139h4.0v1h-4.0zM41.7 139h4.0v1h-4.0zM50.3 139h4.9v1h-4.9zM59.3 139h3.0v1h-3.0zM63.8 139h5.4v1h-5.4zM86.0 139h1.8v1h-1.8zM141.6 139h6.2v1h-6.2zM169.7 139h5.7v1h-5.7zM185.2 139h3.0v1h-3.0zM202.1 139h2.9v1h-2.9zM50.7 140h6.3v1h-6.3zM107.9 140h5.4v1h-5.4zM118.0 140h5.2v1h-5.2zM129.5 140h5.7v1h-5.7zM149.4 140h5.9v1h-5.9zM155.4 140h2.7v1h-2.7zM158.1 140h2.5v1h-2.5zM168.5 140h6.3v1h-6.3zM174.7 140h4.5v1h-4.5zM186.0 140h3.5v1h-3.5zM28.8 141h5.1v1h-5.1zM38.8 141h2.1v1h-2.1zM45.1 141h3.6v1h-3.6zM51.5 141h3.4v1h-3.4zM74.2 141h3.2v1h-3.2zM89.1 141h5.1v1h-5.1zM109.2 141h2.0v1h-2.0zM115.3 141h5.8v1h-5.8zM127.8 141h3.4v1h-3.4zM131.1 141h2.7v1h-2.7zM166.5 141h2.9v1h-2.9zM169.5 141h6.4v1h-6.4zM183.5 141h3.7v1h-3.7zM193.5 141h3.9v1h-3.9zM27.8 142h4.3v1h-4.3zM96.2 142h5.7v1h-5.7zM106.9 142h4.7v1h-4.7zM111.5 142h1.9v1h-1.9zM113.4 142h5.9v1h-5.9zM119.3 142h3.5v1h-3.5zM129.3 142h4.9v1h-4.9zM139.4 142h4.4v1h-4.4zM148.8 142h3.9v1h-3.9zM157.1 142h4.4v1h-4.4zM190.5 142h6.6v1h-6.6zM197.1 142h1.8v1h-1.8zM27.8 143h3.4v1h-3.4zM31.2 143h3.5v1h-3.5zM46.6 143h6.8v1h-6.8zM61.5 143h4.2v1h-4.2zM90.4 143h5.9v1h-5.9zM114.6 143h5.9v1h-5.9zM128.4 143h5.4v1h-5.4zM133.9 143h3.1v1h-3.1zM136.9 143h4.5v1h-4.5zM146.3 143h1.6v1h-1.6zM147.9 143h4.7v1h-4.7zM164.2 143h1.9v1h-1.9zM172.2 143h3.3v1h-3.3zM186.5 143h3.4v1h-3.4zM27.8 144h0.7v1h-0.7zM32.3 144h3.8v1h-3.8zM78.7 144h5.7v1h-5.7zM92.4 144h6.6v1h-6.6zM99.0 144h4.1v1h-4.1zM116.2 144h2.0v1h-2.0zM118.2 144h1.6v1h-1.6zM130.2 144h2.1v1h-2.1zM173.3 144h7.0v1h-7.0zM258.5 149h5.9v1h-5.9zM267.9 149h5.2v1h-5.2zM247.9 151h2.0v1h-2.0zM299.0 151h2.5v1h-2.5zM314.7 151h1.9v1h-1.9zM325.8 151h2.7v1h-2.7zM337.5 151h2.9v1h-2.9zM344.9 151h1.6v1h-1.6zM312.2 154h6.2v1h-6.2zM215.0 155h6.8v1h-6.8zM330.5 155h5.2v1h-5.2zM254.4 156h5.2v1h-5.2zM296.2 156h6.7v1h-6.7zM304.7 156h6.6v1h-6.6zM326.6 156h3.3v1h-3.3zM256.1 158h6.0v1h-6.0zM268.1 158h2.5v1h-2.5zM283.5 158h6.6v1h-6.6zM63.0 159h3.8v1h-3.8zM349.1 159h4.0v1h-4.0zM110.7 160h3.5v1h-3.5zM125.4 160h5.7v1h-5.7zM131.1 160h2.0v1h-2.0zM135.3 160h6.4v1h-6.4zM160.6 160h3.4v1h-3.4zM170.2 160h2.1v1h-2.1zM179.4 160h5.4v1h-5.4zM184.8 160h3.3v1h-3.3zM188.1 160h4.6v1h-4.6zM207.1 160h3.3v1h-3.3zM218.8 160h2.1v1h-2.1zM226.8 160h5.9v1h-5.9zM236.3 160h5.5v1h-5.5zM241.8 160h2.5v1h-2.5zM251.0 160h4.5v1h-4.5zM260.6 160h2.5v1h-2.5zM273.3 160h4.0v1h-4.0zM324.9 160h3.0v1h-3.0zM341.9 160h4.3v1h-4.3zM350.4 160h2.7v1h-2.7zM182.9 161h4.0v1h-4.0zM186.9 161h5.3v1h-5.3zM192.2 161h4.8v1h-4.8zM234.1 161h3.4v1h-3.4zM243.7 161h6.5v1h-6.5zM261.4 161h5.2v1h-5.2zM266.6 161h2.7v1h-2.7zM272.0 161h4.2v1h-4.2zM300.7 161h7.0v1h-7.0zM311.3 161h1.9v1h-1.9zM322.8 161h3.7v1h-3.7zM330.4 161h5.6v1h-5.6zM343.7 161h5.2v1h-5.2zM78.1 162h5.6v1h-5.6zM83.7 162h3.4v1h-3.4zM97.1 162h7.0v1h-7.0zM110.7 162h3.2v1h-3.2zM113.9 162h1.5v1h-1.5zM124.9 162h6.5v1h-6.5zM139.2 162h2.7v1h-2.7zM144.6 162h5.3v1h-5.3zM174.4 162h2.8v1h-2.8zM192.6 162h3.7v1h-3.7zM198.4 162h5.5v1h-5.5zM203.9 162h3.4v1h-3.4zM216.0 162h6.0v1h-6.0zM224.1 162h5.7v1h-5.7zM234.0 162h6.5v1h-6.5zM282.7 162h2.8v1h-2.8zM285.5 162h6.9v1h-6.9zM292.4 162h4.8v1h-4.8zM29.6 163h6.7v1h-6.7zM101.3 163h5.6v1h-5.6zM110.7 163h3.6v1h-3.6zM119.2 163h3.7v1h-3.7zM131.5 163h2.5v1h-2.5zM173.0 163h3.5v1h-3.5zM176.5 163h3.0v1h-3.0zM185.6 163h3.0v1h-3.0zM188.6 163h1.9v1h-1.9zM197.1 163h5.0v1h-5.0zM230.3 163h1.7v1h-1.7zM241.2 163h5.8v1h-5.8zM56.0 164h4.8v1h-4.8zM102.3 164h5.9v1h-5.9zM108.2 164h5.2v1h-5.2zM145.4 164h7.0v1h-7.0zM162.0 164h5.7v1h-5.7zM167.7 164h3.7v1h-3.7zM178.1 164h5.0v1h-5.0zM183.1 164h3.7v1h-3.7zM190.7 164h6.6v1h-6.6zM208.6 164h6.8v1h-6.8zM226.8 164h2.7v1h-2.7zM320.9 164h6.9v1h-6.9zM327.8 164h3.9v1h-3.9zM335.7 164h5.5v1h-5.5zM350.1 164h2.1v1h-2.1zM73.6 165h6.6v1h-6.6zM97.4 165h2.1v1h-2.1zM99.6 165h6.6v1h-6.6zM106.1 165h2.9v1h-2.9zM147.6 165h4.3v1h-4.3zM161.5 165h2.1v1h-2.1zM180.7 165h1.5v1h-1.5zM188.9 165h2.1v1h-2.1zM191.0 165h6.0v1h-6.0zM217.8 165h3.2v1h-3.2zM348.7 165h4.4v1h-4.4zM131.9 166h4.6v1h-4.6zM136.5 166h1.9v1h-1.9zM205.5 166h5.5v1h-5.5zM214.7 166h5.9v1h-5.9zM271.7 166h5.1v1h-5.1zM334.6 166h7.0v1h-7.0zM41.9 167h2.2v1h-2.2zM52.6 167h6.1v1h-6.1zM64.3 167h5.7v1h-5.7zM70.0 167h5.9v1h-5.9zM75.9 167h3.1v1h-3.1zM80.7 167h2.1v1h-2.1zM134.8 167h3.9v1h-3.9zM144.9 167h5.0v1h-5.0zM168.3 167h1.7v1h-1.7zM182.4 167h3.1v1h-3.1zM187.2 167h4.5v1h-4.5zM198.5 167h4.3v1h-4.3zM202.8 167h4.9v1h-4.9zM207.7 167h2.0v1h-2.0zM209.7 167h4.1v1h-4.1zM213.8 167h2.9v1h-2.9zM236.9 167h5.9v1h-5.9zM50.7 168h2.5v1h-2.5zM53.2 168h5.1v1h-5.1zM58.2 168h5.1v1h-5.1zM63.3 168h5.9v1h-5.9zM69.2 168h6.1v1h-6.1zM111.7 168h3.5v1h-3.5zM115.2 168h4.4v1h-4.4zM124.4 168h2.2v1h-2.2zM126.7 168h1.8v1h-1.8zM143.5 168h6.8v1h-6.8zM150.3 168h6.3v1h-6.3zM160.1 168h5.0v1h-5.0zM214.4 168h5.5v1h-5.5zM219.9 168h1.7v1h-1.7zM230.0 168h1.8v1h-1.8zM240.1 168h4.5v1h-4.5zM250.1 168h1.6v1h-1.6zM251.7 168h4.0v1h-4.0zM278.0 168h2.8v1h-2.8zM280.8 168h4.2v1h-4.2zM45.0 169h6.9v1h-6.9zM51.9 169h5.4v1h-5.4zM86.8 169h3.5v1h-3.5zM126.0 169h2.5v1h-2.5zM164.7 169h6.6v1h-6.6zM194.4 169h2.6v1h-2.6zM202.9 169h4.1v1h-4.1zM47.5 170h4.1v1h-4.1zM51.6 170h5.1v1h-5.1zM58.5 170h4.7v1h-4.7zM96.4 170h6.1v1h-6.1zM115.2 170h6.1v1h-6.1zM147.7 170h4.2v1h-4.2zM186.2 170h3.2v1h-3.2zM189.4 170h3.2v1h-3.2zM199.3 170h1.8v1h-1.8zM201.2 170h4.9v1h-4.9zM224.8 170h5.8v1h-5.8zM268.2 170h6.3v1h-6.3zM287.1 170h3.2v1h-3.2zM292.1 170h4.8v1h-4.8zM34.2 171h6.3v1h-6.3zM40.5 171h2.8v1h-2.8zM50.1 171h2.1v1h-2.1zM67.0 171h2.6v1h-2.6zM69.6 171h6.7v1h-6.7zM83.1 171h2.9v1h-2.9zM86.0 171h5.8v1h-5.8zM98.5 171h5.8v1h-5.8zM128.5 171h6.9v1h-6.9zM142.3 171h3.6v1h-3.6zM189.3 171h1.5v1h-1.5zM190.8 171h6.0v1h-6.0zM208.4 171h1.7v1h-1.7zM210.1 171h6.9v1h-6.9zM40.4 172h3.6v1h-3.6zM43.9 172h5.3v1h-5.3zM63.5 172h1.9v1h-1.9zM68.3 172h3.0v1h-3.0zM71.3 172h2.8v1h-2.8zM80.8 172h2.0v1h-2.0zM116.3 172h6.2v1h-6.2zM146.4 172h1.7v1h-1.7zM148.1 172h5.5v1h-5.5zM153.6 172h5.1v1h-5.1zM162.5 172h2.9v1h-2.9zM165.3 172h3.3v1h-3.3zM180.6 172h5.0v1h-5.0zM185.7 172h6.7v1h-6.7zM201.5 172h4.2v1h-4.2zM219.8 172h3.6v1h-3.6zM223.4 172h6.7v1h-6.7zM250.6 172h6.4v1h-6.4zM257.0 172h5.6v1h-5.6zM272.0 172h3.4v1h-3.4zM281.1 172h4.3v1h-4.3zM294.1 172h2.3v1h-2.3zM296.4 172h3.4v1h-3.4zM299.9 172h5.2v1h-5.2zM308.4 172h6.6v1h-6.6zM314.9 172h6.1v1h-6.1zM327.6 172h4.0v1h-4.0zM331.6 172h6.7v1h-6.7zM338.3 172h2.8v1h-2.8zM30.3 173h6.2v1h-6.2zM36.5 173h5.4v1h-5.4zM47.9 173h5.7v1h-5.7zM53.6 173h4.9v1h-4.9zM65.5 173h2.7v1h-2.7zM70.0 173h2.1v1h-2.1zM72.1 173h6.5v1h-6.5zM78.6 173h4.4v1h-4.4zM83.0 173h3.1v1h-3.1zM86.1 173h5.9v1h-5.9zM105.2 173h2.2v1h-2.2zM107.4 173h2.4v1h-2.4zM109.8 173h6.8v1h-6.8zM116.6 173h1.7v1h-1.7zM129.9 173h3.6v1h-3.6zM136.2 173h5.5v1h-5.5zM145.3 173h5.6v1h-5.6zM157.0 173h6.1v1h-6.1zM167.7 173h2.6v1h-2.6zM174.2 173h2.9v1h-2.9zM177.1 173h3.9v1h-3.9zM181.0 173h3.9v1h-3.9zM193.6 173h6.4v1h-6.4zM228.7 173h3.0v1h-3.0zM255.1 173h1.6v1h-1.6zM256.7 173h2.5v1h-2.5zM273.7 173h5.2v1h-5.2zM349.1 173h2.8v1h-2.8zM43.9 174h2.3v1h-2.3zM77.1 174h3.2v1h-3.2zM84.2 174h2.8v1h-2.8zM89.2 174h4.7v1h-4.7zM111.8 174h4.5v1h-4.5zM128.4 174h4.7v1h-4.7zM138.7 174h2.4v1h-2.4zM141.1 174h5.3v1h-5.3zM151.1 174h6.9v1h-6.9zM171.2 174h2.1v1h-2.1zM176.2 174h6.7v1h-6.7zM213.9 174h3.6v1h-3.6zM217.5 174h2.7v1h-2.7zM220.2 174h3.7v1h-3.7zM223.8 174h2.9v1h-2.9zM234.6 174h6.4v1h-6.4zM260.7 174h4.3v1h-4.3zM265.0 174h1.9v1h-1.9zM275.8 174h3.3v1h-3.3zM279.1 174h7.0v1h-7.0zM292.9 174h1.6v1h-1.6zM298.1 174h4.4v1h-4.4zM311.1 174h3.7v1h-3.7zM314.7 174h2.9v1h-2.9zM317.6 174h6.6v1h-6.6zM333.1 174h5.7v1h-5.7zM344.7 174h5.4v1h-5.4zM350.1 174h3.0v1h-3.0zM48.4 175h2.2v1h-2.2zM97.1 175h6.0v1h-6.0zM142.3 175h4.7v1h-4.7zM150.4 175h4.7v1h-4.7zM195.0 175h2.6v1h-2.6zM204.1 175h2.8v1h-2.8zM208.8 175h5.3v1h-5.3zM239.7 175h4.6v1h-4.6zM251.5 175h6.5v1h-6.5zM264.3 175h7.0v1h-7.0zM273.9 175h3.5v1h-3.5zM292.9 175h3.7v1h-3.7zM299.4 175h6.6v1h-6.6zM317.5 175h1.9v1h-1.9zM321.7 175h4.5v1h-4.5zM339.7 175h3.1v1h-3.1zM347.2 175h3.5v1h-3.5zM350.6 175h2.5v1h-2.5zM27.8 176h5.8v1h-5.8zM35.1 176h5.0v1h-5.0zM44.2 176h5.9v1h-5.9zM53.0 176h4.2v1h-4.2zM75.3 176h3.4v1h-3.4zM107.0 176h3.2v1h-3.2zM110.2 176h3.0v1h-3.0zM182.7 176h1.9v1h-1.9zM184.5 176h6.2v1h-6.2zM190.7 176h6.0v1h-6.0zM207.3 176h3.5v1h-3.5zM217.0 176h5.6v1h-5.6zM351.3 176h1.8v1h-1.8zM27.8 177h2.9v1h-2.9zM35.0 177h1.7v1h-1.7zM53.2 177h4.0v1h-4.0zM68.6 177h2.8v1h-2.8zM90.9 177h3.1v1h-3.1zM98.6 177h6.2v1h-6.2zM104.8 177h1.9v1h-1.9zM110.0 177h5.2v1h-5.2zM115.1 177h5.8v1h-5.8zM126.9 177h5.3v1h-5.3zM146.2 177h6.0v1h-6.0zM177.6 177h4.0v1h-4.0zM190.4 177h1.6v1h-1.6zM191.9 177h1.5v1h-1.5zM197.8 177h2.2v1h-2.2zM200.1 177h3.9v1h-3.9zM204.0 177h2.5v1h-2.5zM206.5 177h6.4v1h-6.4zM217.6 177h6.5v1h-6.5zM224.2 177h1.9v1h-1.9zM226.1 177h1.8v1h-1.8zM227.9 177h5.3v1h-5.3zM233.2 177h2.9v1h-2.9zM248.2 177h1.6v1h-1.6zM257.1 177h3.4v1h-3.4zM283.6 177h4.9v1h-4.9zM334.5 177h5.2v1h-5.2zM339.6 177h5.4v1h-5.4zM55.3 178h4.9v1h-4.9zM87.1 178h5.9v1h-5.9zM114.5 178h4.0v1h-4.0zM153.8 178h2.0v1h-2.0zM155.8 178h3.6v1h-3.6zM174.5 178h4.7v1h-4.7zM179.2 178h6.4v1h-6.4zM185.6 178h2.4v1h-2.4zM191.1 178h6.4v1h-6.4zM341.6 178h2.6v1h-2.6zM344.2 178h4.1v1h-4.1zM30.3 179h6.3v1h-6.3zM42.7 179h5.9v1h-5.9zM50.5 179h3.3v1h-3.3zM53.8 179h3.3v1h-3.3zM57.1 179h6.3v1h-6.3zM85.4 179h5.2v1h-5.2zM101.7 179h4.2v1h-4.2zM105.9 179h6.3v1h-6.3zM112.2 179h2.1v1h-2.1zM136.4 179h2.9v1h-2.9zM139.3 179h1.7v1h-1.7zM155.2 179h3.9v1h-3.9zM162.1 179h2.3v1h-2.3zM164.4 179h4.0v1h-4.0zM188.8 179h6.5v1h-6.5zM195.3 179h4.4v1h-4.4zM199.7 179h4.2v1h-4.2zM223.3 179h5.5v1h-5.5zM230.5 179h4.7v1h-4.7zM235.3 179h5.4v1h-5.4zM262.6 179h5.5v1h-5.5zM277.7 179h4.5v1h-4.5zM299.0 179h3.4v1h-3.4zM327.0 179h2.8v1h-2.8zM335.8 179h4.2v1h-4.2zM340.0 179h6.9v1h-6.9zM37.4 180h5.5v1h-5.5zM42.9 180h2.9v1h-2.9zM66.3 180h2.9v1h-2.9zM76.4 180h3.8v1h-3.8zM91.7 180h3.1v1h-3.1zM94.8 180h4.3v1h-4.3zM99.1 180h4.4v1h-4.4zM103.5 180h3.9v1h-3.9zM127.6 180h6.5v1h-6.5zM134.1 180h4.2v1h-4.2zM150.8 180h3.5v1h-3.5zM182.0 180h2.6v1h-2.6zM199.0 180h6.8v1h-6.8zM205.8 180h1.9v1h-1.9zM207.7 180h4.1v1h-4.1zM211.8 180h3.4v1h-3.4zM226.5 180h3.7v1h-3.7zM240.8 180h4.2v1h-4.2zM292.2 180h5.9v1h-5.9zM320.6 180h2.7v1h-2.7zM342.5 180h1.5v1h-1.5zM38.8 181h2.6v1h-2.6zM41.4 181h5.6v1h-5.6zM88.1 181h6.8v1h-6.8zM106.5 181h4.7v1h-4.7zM117.8 181h3.4v1h-3.4zM127.4 181h3.1v1h-3.1zM172.0 181h5.7v1h-5.7zM195.4 181h4.2v1h-4.2zM199.6 181h5.8v1h-5.8zM230.2 181h6.6v1h-6.6zM236.8 181h5.5v1h-5.5zM303.2 181h1.6v1h-1.6zM35.5 182h2.3v1h-2.3zM44.3 182h6.5v1h-6.5zM50.8 182h2.6v1h-2.6zM53.4 182h5.4v1h-5.4zM64.2 182h4.2v1h-4.2zM79.3 182h6.0v1h-6.0zM89.2 182h5.1v1h-5.1zM111.2 182h4.9v1h-4.9zM122.2 182h4.3v1h-4.3zM126.6 182h3.2v1h-3.2zM136.6 182h4.8v1h-4.8zM141.5 182h3.0v1h-3.0zM144.4 182h3.2v1h-3.2zM153.0 182h3.1v1h-3.1zM176.2 182h3.9v1h-3.9zM180.1 182h6.1v1h-6.1zM186.2 182h2.0v1h-2.0zM188.2 182h6.2v1h-6.2zM209.3 182h6.3v1h-6.3zM215.5 182h4.2v1h-4.2zM233.8 182h6.3v1h-6.3zM325.1 182h5.4v1h-5.4zM347.0 182h6.1v1h-6.1zM36.1 183h1.6v1h-1.6zM37.7 183h3.6v1h-3.6zM47.1 183h3.3v1h-3.3zM50.3 183h4.8v1h-4.8zM55.1 183h4.2v1h-4.2zM105.7 183h5.2v1h-5.2zM110.8 183h4.7v1h-4.7zM115.5 183h4.9v1h-4.9zM138.1 183h3.7v1h-3.7zM145.9 183h5.8v1h-5.8zM157.8 183h6.1v1h-6.1zM191.1 183h2.8v1h-2.8zM194.0 183h4.4v1h-4.4zM215.5 183h3.9v1h-3.9zM219.3 183h2.6v1h-2.6zM221.9 183h4.8v1h-4.8zM226.7 183h2.3v1h-2.3zM229.0 183h6.1v1h-6.1zM241.3 183h4.8v1h-4.8zM261.0 183h6.9v1h-6.9zM267.8 183h7.0v1h-7.0zM274.8 183h4.6v1h-4.6zM302.6 183h4.9v1h-4.9zM307.5 183h3.1v1h-3.1zM323.7 183h4.6v1h-4.6zM331.6 183h5.5v1h-5.5zM345.1 183h6.3v1h-6.3z" fill="rgb(48,48,48)"/>
<path d="M246.8 132h3.4v1h-3.4zM250.1 132h2.1v1h-2.1zM252.3 132h3.7v1h-3.7zM221.3 133h6.9v1h-6.9zM228.2 133h2.2v1h-2.2zM306.2 133h3.5v1h-3.5zM309.6 133h5.1v1h-5.1zM321.7 133h5.7v1h-5.7zM344.2 133h2.1v1h-2.1zM351.4 133h1.7v1h-1.7zM203.3 134h6.1v1h-6.1zM209.4 134h5.3v1h-5.3zM299.5 134h2.4v1h-2.4zM314.9 134h5.3v1h-5.3zM333.6 134h6.7v1h-6.7zM200.1 135h3.2v1h-3.2zM217.9 135h4.4v1h-4.4zM224.8 135h4.6v1h-4.6zM293.9 135h3.4v1h-3.4zM297.3 135h6.1v1h-6.1zM310.5 135h4.4v1h-4.4zM314.8 135h2.7v1h-2.7zM324.0 135h6.2v1h-6.2zM337.2 135h1.6v1h-1.6zM338.8 135h3.1v1h-3.1zM297.7 136h7.0v1h-7.0zM312.0 136h4.7v1h-4.7zM316.8 136h2.0v1h-2.0zM107.5 137h2.0v1h-2.0zM116.6 137h2.7v1h-2.7zM125.2 137h5.8v1h-5.8zM131.0 137h3.1v1h-3.1zM143.8 137h5.0v1h-5.0zM148.8 137h4.4v1h-4.4zM201.2 137h6.3v1h-6.3zM207.5 137h4.1v1h-4.1zM38.9 138h4.0v1h-4.0zM54.4 138h6.2v1h-6.2zM67.2 138h1.7v1h-1.7zM96.6 138h6.4v1h-6.4zM103.1 138h5.3v1h-5.3zM114.9 138h4.7v1h-4.7zM119.6 138h2.3v1h-2.3zM165.3 138h1.8v1h-1.8zM167.1 138h6.8v1h-6.8zM177.0 138h5.7v1h-5.7zM211.3 138h6.6v1h-6.6zM55.2 139h4.1v1h-4.1zM205.1 139h6.5v1h-6.5zM113.3 140h4.7v1h-4.7zM123.2 140h3.3v1h-3.3zM139.1 140h4.3v1h-4.3zM143.4 140h6.0v1h-6.0zM160.5 140h6.0v1h-6.0zM166.6 140h1.9v1h-1.9zM183.9 140h2.0v1h-2.0zM189.5 140h6.4v1h-6.4zM195.9 140h3.9v1h-3.9zM199.7 140h5.0v1h-5.0zM60.2 141h3.0v1h-3.0zM69.2 141h4.9v1h-4.9zM80.5 141h3.2v1h-3.2zM199.7 141h2.6v1h-2.6zM35.9 142h6.9v1h-6.9zM188.6 142h2.0v1h-2.0zM199.0 142h3.6v1h-3.6zM59.0 143h2.5v1h-2.5zM81.0 143h3.2v1h-3.2zM84.2 143h1.8v1h-1.8zM96.3 143h2.0v1h-2.0zM101.9 143h7.0v1h-7.0zM108.8 143h2.4v1h-2.4zM122.7 143h5.8v1h-5.8zM42.5 144h2.6v1h-2.6zM49.8 144h2.7v1h-2.7zM52.5 144h6.4v1h-6.4zM59.0 144h2.5v1h-2.5zM61.4 144h6.0v1h-6.0zM67.4 144h1.7v1h-1.7zM69.1 144h5.2v1h-5.2zM74.3 144h4.4v1h-4.4zM84.4 144h3.8v1h-3.8zM105.4 144h2.4v1h-2.4zM122.7 144h1.8v1h-1.8zM124.5 144h5.7v1h-5.7zM132.3 144h3.6v1h-3.6zM153.1 144h6.5v1h-6.5zM159.7 144h6.4v1h-6.4zM120.3 145h5.2v1h-5.2zM125.5 145h4.1v1h-4.1zM157.4 145h5.7v1h-5.7zM163.0 145h6.3v1h-6.3zM169.3 145h6.1v1h-6.1zM243.6 146h3.4v1h-3.4zM258.7 146h1.6v1h-1.6zM263.9 146h3.3v1h-3.3zM271.3 146h1.6v1h-1.6zM273.0 146h6.3v1h-6.3zM244.0 148h4.5v1h-4.5zM248.6 148h3.6v1h-3.6zM248.4 149h4.1v1h-4.1zM264.4 149h3.5v1h-3.5zM280.1 149h6.5v1h-6.5zM290.8 149h1.6v1h-1.6zM315.2 150h3.2v1h-3.2zM223.6 151h6.0v1h-6.0zM321.1 151h4.8v1h-4.8zM328.5 151h2.2v1h-2.2zM330.7 151h6.8v1h-6.8zM348.4 151h4.7v1h-4.7zM284.6 152h4.8v1h-4.8zM302.7 152h2.1v1h-2.1zM215.8 153h1.8v1h-1.8zM220.6 153h3.0v1h-3.0zM223.6 153h2.4v1h-2.4zM226.0 153h6.1v1h-6.1zM232.1 153h5.4v1h-5.4zM283.5 153h3.8v1h-3.8zM306.6 153h6.9v1h-6.9zM220.0 154h3.4v1h-3.4zM223.4 154h6.7v1h-6.7zM291.3 154h5.1v1h-5.1zM303.1 154h6.4v1h-6.4zM309.5 154h2.7v1h-2.7zM331.2 154h6.5v1h-6.5zM348.8 154h3.5v1h-3.5zM238.3 155h6.2v1h-6.2zM244.6 155h6.5v1h-6.5zM251.0 155h4.6v1h-4.6zM255.6 155h5.8v1h-5.8zM261.4 155h7.0v1h-7.0zM292.4 155h5.7v1h-5.7zM298.1 155h3.7v1h-3.7zM308.5 155h5.9v1h-5.9zM314.4 155h6.8v1h-6.8zM339.8 155h6.5v1h-6.5zM230.2 156h3.7v1h-3.7zM238.8 156h5.9v1h-5.9zM259.6 156h3.8v1h-3.8zM269.3 156h2.5v1h-2.5zM281.8 156h6.6v1h-6.6zM318.2 156h3.5v1h-3.5zM333.4 156h2.8v1h-2.8zM138.8 157h5.4v1h-5.4zM161.2 157h5.2v1h-5.2zM229.3 157h3.5v1h-3.5zM248.8 157h2.4v1h-2.4zM254.2 157h5.9v1h-5.9zM260.1 157h4.3v1h-4.3zM275.9 157h2.4v1h-2.4zM278.3 157h5.8v1h-5.8zM34.2 158h6.4v1h-6.4zM49.0 158h6.5v1h-6.5zM146.8 158h2.7v1h-2.7zM152.7 158h4.9v1h-4.9zM206.4 158h3.9v1h-3.9zM262.1 158h4.4v1h-4.4zM266.4 158h1.7v1h-1.7zM270.6 158h4.7v1h-4.7zM275.3 158h5.9v1h-5.9zM290.1 158h5.0v1h-5.0zM27.8 159h2.7v1h-2.7zM30.5 159h2.8v1h-2.8zM66.7 159h6.0v1h-6.0zM78.6 159h6.1v1h-6.1zM105.8 159h6.4v1h-6.4zM121.1 159h2.2v1h-2.2zM123.4 159h6.0v1h-6.0zM187.6 159h1.8v1h-1.8zM189.4 159h3.9v1h-3.9zM193.3 159h1.6v1h-1.6zM198.7 159h4.8v1h-4.8zM272.7 159h5.8v1h-5.8zM290.3 159h3.4v1h-3.4zM332.9 159h5.7v1h-5.7zM46.8 160h3.3v1h-3.3zM68.8 160h4.3v1h-4.3zM154.1 160h6.5v1h-6.5zM164.0 160h6.3v1h-6.3zM175.2 160h4.2v1h-4.2zM192.8 160h2.2v1h-2.2zM194.9 160h6.6v1h-6.6zM210.4 160h5.7v1h-5.7zM232.7 160h3.6v1h-3.6zM263.1 160h2.3v1h-2.3zM280.4 160h3.6v1h-3.6zM283.9 160h4.2v1h-4.2zM288.1 160h5.6v1h-5.6zM293.8 160h6.4v1h-6.4zM309.9 160h6.9v1h-6.9zM316.9 160h1.7v1h-1.7zM327.9 160h2.9v1h-2.9zM330.8 160h1.9v1h-1.9zM35.1 161h2.7v1h-2.7zM44.6 161h1.8v1h-1.8zM52.0 161h2.1v1h-2.1zM114.0 161h3.1v1h-3.1zM126.8 161h5.1v1h-5.1zM131.8 161h5.1v1h-5.1zM162.7 161h6.0v1h-6.0zM173.1 161h2.9v1h-2.9zM200.7 161h1.6v1h-1.6zM202.3 161h4.0v1h-4.0zM226.4 161h2.8v1h-2.8zM229.2 161h5.0v1h-5.0zM276.2 161h6.8v1h-6.8zM283.0 161h6.6v1h-6.6zM317.8 161h4.9v1h-4.9zM336.0 161h2.3v1h-2.3zM338.4 161h5.3v1h-5.3zM348.8 161h3.8v1h-3.8zM49.7 162h4.7v1h-4.7zM73.6 162h2.6v1h-2.6zM76.2 162h1.9v1h-1.9zM87.1 162h6.6v1h-6.6zM115.4 162h2.5v1h-2.5zM121.3 162h3.5v1h-3.5zM137.0 162h2.1v1h-2.1zM156.1 162h2.0v1h-2.0zM165.9 162h4.7v1h-4.7zM180.6 162h3.3v1h-3.3zM183.9 162h3.4v1h-3.4zM207.3 162h3.7v1h-3.7zM229.8 162h4.2v1h-4.2zM257.1 162h3.2v1h-3.2zM260.3 162h5.0v1h-5.0zM265.3 162h4.7v1h-4.7zM278.9 162h3.8v1h-3.8zM297.2 162h2.0v1h-2.0zM36.3 163h5.1v1h-5.1zM41.4 163h3.2v1h-3.2zM52.0 163h1.8v1h-1.8zM59.6 163h5.3v1h-5.3zM73.2 163h1.9v1h-1.9zM82.1 163h3.4v1h-3.4zM97.3 163h4.1v1h-4.1zM107.0 163h3.7v1h-3.7zM114.3 163h1.9v1h-1.9zM116.3 163h2.9v1h-2.9zM122.9 163h4.1v1h-4.1zM138.2 163h2.3v1h-2.3zM145.1 163h3.2v1h-3.2zM148.3 163h6.4v1h-6.4zM154.7 163h6.6v1h-6.6zM209.1 163h5.5v1h-5.5zM220.4 163h3.5v1h-3.5zM223.9 163h6.5v1h-6.5zM237.0 163h4.2v1h-4.2zM246.9 163h3.8v1h-3.8zM289.8 163h6.9v1h-6.9zM319.6 163h5.5v1h-5.5zM344.4 163h6.3v1h-6.3zM27.8 164h1.4v1h-1.4zM38.6 164h4.4v1h-4.4zM43.0 164h6.3v1h-6.3zM49.3 164h6.7v1h-6.7zM60.8 164h6.9v1h-6.9zM78.6 164h2.6v1h-2.6zM81.2 164h4.4v1h-4.4zM85.6 164h5.5v1h-5.5zM91.2 164h5.1v1h-5.1zM96.3 164h6.0v1h-6.0zM113.4 164h4.9v1h-4.9zM118.3 164h5.6v1h-5.6zM134.2 164h5.6v1h-5.6zM152.4 164h5.7v1h-5.7zM186.8 164h3.9v1h-3.9zM197.3 164h5.3v1h-5.3zM202.6 164h4.4v1h-4.4zM207.0 164h1.6v1h-1.6zM215.4 164h6.7v1h-6.7zM222.1 164h4.7v1h-4.7zM229.5 164h5.9v1h-5.9zM235.4 164h6.6v1h-6.6zM249.2 164h5.4v1h-5.4zM304.0 164h6.3v1h-6.3zM310.2 164h5.9v1h-5.9zM333.4 164h2.3v1h-2.3zM348.0 164h2.2v1h-2.2zM37.1 165h6.4v1h-6.4zM49.8 165h3.9v1h-3.9zM53.7 165h6.5v1h-6.5zM60.2 165h6.4v1h-6.4zM70.5 165h3.1v1h-3.1zM87.1 165h7.0v1h-7.0zM109.0 165h3.1v1h-3.1zM112.1 165h2.4v1h-2.4zM128.6 165h3.4v1h-3.4zM137.4 165h2.1v1h-2.1zM139.5 165h5.4v1h-5.4zM151.9 165h1.5v1h-1.5zM153.4 165h5.4v1h-5.4zM158.8 165h2.7v1h-2.7zM176.1 165h4.7v1h-4.7zM197.0 165h4.8v1h-4.8zM209.9 165h2.2v1h-2.2zM223.2 165h3.6v1h-3.6zM226.8 165h3.7v1h-3.7zM311.6 165h1.5v1h-1.5zM318.3 165h4.7v1h-4.7zM323.0 165h3.5v1h-3.5zM333.1 165h6.3v1h-6.3zM342.9 165h5.8v1h-5.8zM45.1 166h5.1v1h-5.1zM55.3 166h3.5v1h-3.5zM72.4 166h6.6v1h-6.6zM92.6 166h2.8v1h-2.8zM101.4 166h5.8v1h-5.8zM107.2 166h4.3v1h-4.3zM122.2 166h4.4v1h-4.4zM162.8 166h5.5v1h-5.5zM177.3 166h5.5v1h-5.5zM187.1 166h5.0v1h-5.0zM220.6 166h4.8v1h-4.8zM267.1 166h4.6v1h-4.6zM302.7 166h6.0v1h-6.0zM323.5 166h5.2v1h-5.2zM328.7 166h6.0v1h-6.0zM341.6 166h3.8v1h-3.8zM345.4 166h3.4v1h-3.4zM27.8 167h4.2v1h-4.2zM36.7 167h5.2v1h-5.2zM44.0 167h3.8v1h-3.8zM47.9 167h4.7v1h-4.7zM79.0 167h1.7v1h-1.7zM89.9 167h4.6v1h-4.6zM94.5 167h5.2v1h-5.2zM127.4 167h4.5v1h-4.5zM131.9 167h2.9v1h-2.9zM138.8 167h3.5v1h-3.5zM142.3 167h2.6v1h-2.6zM149.9 167h4.2v1h-4.2zM162.1 167h6.2v1h-6.2zM170.0 167h6.4v1h-6.4zM179.0 167h3.4v1h-3.4zM196.7 167h1.8v1h-1.8zM216.8 167h5.3v1h-5.3zM256.1 167h6.9v1h-6.9zM263.0 167h5.8v1h-5.8zM273.6 167h5.1v1h-5.1zM278.7 167h1.8v1h-1.8zM297.3 167h6.6v1h-6.6zM33.4 168h2.8v1h-2.8zM86.6 168h1.5v1h-1.5zM97.7 168h5.4v1h-5.4zM103.1 168h4.4v1h-4.4zM107.5 168h4.2v1h-4.2zM128.5 168h1.9v1h-1.9zM130.4 168h3.9v1h-3.9zM141.4 168h2.1v1h-2.1zM168.3 168h5.5v1h-5.5zM184.1 168h3.8v1h-3.8zM225.4 168h4.7v1h-4.7zM234.0 168h3.6v1h-3.6zM237.6 168h2.4v1h-2.4zM262.5 168h5.5v1h-5.5zM270.6 168h3.1v1h-3.1zM273.7 168h4.4v1h-4.4zM27.8 169h3.1v1h-3.1zM30.9 169h4.9v1h-4.9zM60.3 169h2.8v1h-2.8zM68.0 169h2.9v1h-2.9zM70.9 169h4.5v1h-4.5zM92.6 169h2.3v1h-2.3zM96.7 169h4.7v1h-4.7zM101.4 169h4.3v1h-4.3zM119.4 169h6.6v1h-6.6zM128.5 169h5.1v1h-5.1zM133.6 169h4.4v1h-4.4zM152.8 169h5.2v1h-5.2zM177.7 169h6.5v1h-6.5zM189.5 169h4.9v1h-4.9zM201.3 169h1.7v1h-1.7zM208.5 169h1.5v1h-1.5zM210.0 169h4.9v1h-4.9zM220.8 169h5.9v1h-5.9zM226.7 169h5.9v1h-5.9zM250.7 169h4.4v1h-4.4zM261.6 169h5.0v1h-5.0zM266.6 169h6.4v1h-6.4zM279.5 169h4.3v1h-4.3zM345.2 169h3.1v1h-3.1zM30.9 170h6.7v1h-6.7zM41.4 170h6.1v1h-6.1zM56.7 170h1.8v1h-1.8zM63.2 170h4.9v1h-4.9zM68.1 170h4.2v1h-4.2zM72.3 170h5.5v1h-5.5zM77.8 170h5.4v1h-5.4zM102.5 170h1.7v1h-1.7zM106.9 170h3.9v1h-3.9zM110.7 170h2.1v1h-2.1zM141.1 170h6.7v1h-6.7zM156.9 170h3.3v1h-3.3zM160.2 170h6.9v1h-6.9zM169.5 170h4.7v1h-4.7zM174.2 170h6.7v1h-6.7zM192.6 170h6.8v1h-6.8zM206.1 170h5.6v1h-5.6zM211.7 170h2.1v1h-2.1zM213.8 170h4.6v1h-4.6zM236.1 170h5.2v1h-5.2zM243.5 170h3.9v1h-3.9zM247.5 170h4.5v1h-4.5zM264.4 170h1.9v1h-1.9zM277.1 170h5.2v1h-5.2zM290.3 170h1.8v1h-1.8zM314.5 170h4.4v1h-4.4zM353.0 170h0.1v1h-0.1zM43.4 171h6.7v1h-6.7zM52.2 171h4.6v1h-4.6zM63.3 171h2.1v1h-2.1zM76.3 171h6.8v1h-6.8zM91.8 171h6.7v1h-6.7zM104.2 171h6.0v1h-6.0zM151.7 171h3.3v1h-3.3zM155.0 171h1.8v1h-1.8zM156.8 171h6.9v1h-6.9zM203.4 171h5.0v1h-5.0zM244.1 171h5.5v1h-5.5zM256.8 171h1.6v1h-1.6zM267.0 171h4.3v1h-4.3zM271.3 171h2.8v1h-2.8zM307.9 171h3.3v1h-3.3zM311.2 171h5.4v1h-5.4zM316.6 171h1.6v1h-1.6zM318.2 171h5.1v1h-5.1zM329.6 171h5.4v1h-5.4zM335.0 171h2.5v1h-2.5zM342.1 171h6.4v1h-6.4zM27.8 172h2.8v1h-2.8zM33.4 172h6.9v1h-6.9zM57.4 172h6.2v1h-6.2zM74.1 172h4.4v1h-4.4zM82.8 172h2.6v1h-2.6zM85.4 172h5.0v1h-5.0zM90.3 172h5.2v1h-5.2zM95.6 172h3.7v1h-3.7zM99.2 172h5.4v1h-5.4zM104.6 172h4.0v1h-4.0zM108.7 172h2.0v1h-2.0zM110.7 172h4.0v1h-4.0zM122.5 172h3.1v1h-3.1zM125.6 172h1.6v1h-1.6zM127.2 172h4.8v1h-4.8zM132.0 172h2.3v1h-2.3zM140.1 172h6.3v1h-6.3zM168.6 172h5.0v1h-5.0zM173.6 172h1.8v1h-1.8zM177.1 172h3.5v1h-3.5zM192.3 172h6.5v1h-6.5zM198.9 172h2.6v1h-2.6zM205.7 172h4.9v1h-4.9zM216.5 172h3.3v1h-3.3zM233.2 172h4.5v1h-4.5zM247.4 172h3.1v1h-3.1zM267.3 172h4.8v1h-4.8zM305.1 172h3.3v1h-3.3zM341.1 172h6.0v1h-6.0zM58.6 173h2.2v1h-2.2zM101.0 173h4.2v1h-4.2zM118.2 173h2.3v1h-2.3zM120.5 173h6.5v1h-6.5zM133.6 173h2.7v1h-2.7zM163.1 173h4.6v1h-4.6zM204.5 173h3.4v1h-3.4zM211.2 173h6.9v1h-6.9zM218.1 173h2.5v1h-2.5zM231.7 173h3.8v1h-3.8zM241.9 173h6.1v1h-6.1zM259.2 173h3.0v1h-3.0zM262.2 173h5.7v1h-5.7zM278.9 173h5.5v1h-5.5zM289.0 173h2.6v1h-2.6zM291.6 173h4.2v1h-4.2zM295.8 173h4.9v1h-4.9zM303.9 173h5.2v1h-5.2zM336.6 173h6.4v1h-6.4zM343.0 173h6.1v1h-6.1zM351.9 173h1.2v1h-1.2zM38.7 174h5.2v1h-5.2zM46.1 174h6.0v1h-6.0zM52.1 174h1.7v1h-1.7zM64.5 174h6.9v1h-6.9zM80.2 174h4.0v1h-4.0zM87.0 174h2.2v1h-2.2zM93.8 174h2.0v1h-2.0zM95.8 174h6.7v1h-6.7zM102.5 174h6.7v1h-6.7zM109.2 174h2.6v1h-2.6zM122.7 174h5.7v1h-5.7zM188.6 174h4.6v1h-4.6zM193.3 174h3.5v1h-3.5zM196.8 174h3.7v1h-3.7zM229.4 174h5.2v1h-5.2zM251.5 174h3.6v1h-3.6zM266.9 174h2.0v1h-2.0zM286.1 174h6.8v1h-6.8zM302.5 174h4.1v1h-4.1zM306.6 174h4.4v1h-4.4zM338.8 174h6.0v1h-6.0zM34.5 175h4.5v1h-4.5zM62.7 175h2.9v1h-2.9zM80.2 175h5.6v1h-5.6zM103.0 175h5.9v1h-5.9zM108.9 175h3.1v1h-3.1zM118.2 175h6.3v1h-6.3zM128.9 175h3.3v1h-3.3zM132.2 175h4.6v1h-4.6zM190.9 175h4.1v1h-4.1zM197.5 175h6.5v1h-6.5zM214.1 175h3.4v1h-3.4zM226.3 175h4.6v1h-4.6zM230.9 175h4.0v1h-4.0zM234.9 175h4.8v1h-4.8zM244.3 175h4.9v1h-4.9zM249.2 175h2.3v1h-2.3zM258.0 175h6.3v1h-6.3zM281.4 175h6.2v1h-6.2zM306.0 175h4.6v1h-4.6zM310.5 175h5.1v1h-5.1zM315.7 175h1.8v1h-1.8zM319.4 175h2.4v1h-2.4zM332.9 175h6.8v1h-6.8zM50.1 176h2.9v1h-2.9zM57.3 176h5.4v1h-5.4zM66.0 176h2.4v1h-2.4zM68.4 176h7.0v1h-7.0zM86.6 176h5.5v1h-5.5zM95.2 176h4.2v1h-4.2zM126.1 176h4.6v1h-4.6zM135.2 176h3.4v1h-3.4zM147.2 176h4.2v1h-4.2zM151.4 176h4.3v1h-4.3zM155.7 176h5.9v1h-5.9zM165.7 176h3.1v1h-3.1zM168.8 176h1.9v1h-1.9zM170.7 176h6.4v1h-6.4zM177.1 176h5.6v1h-5.6zM196.7 176h6.2v1h-6.2zM203.0 176h4.4v1h-4.4zM222.6 176h2.6v1h-2.6zM225.1 176h3.6v1h-3.6zM267.8 176h2.2v1h-2.2zM270.0 176h3.1v1h-3.1zM273.2 176h6.5v1h-6.5zM299.7 176h3.9v1h-3.9zM310.5 176h5.3v1h-5.3zM324.9 176h3.4v1h-3.4zM331.3 176h3.2v1h-3.2zM336.6 176h4.4v1h-4.4zM341.0 176h2.7v1h-2.7zM347.9 176h3.4v1h-3.4zM36.7 177h5.2v1h-5.2zM57.2 177h4.9v1h-4.9zM76.0 177h2.1v1h-2.1zM94.0 177h4.7v1h-4.7zM121.0 177h6.0v1h-6.0zM135.3 177h4.4v1h-4.4zM139.7 177h2.1v1h-2.1zM152.2 177h1.7v1h-1.7zM163.0 177h6.4v1h-6.4zM169.4 177h3.5v1h-3.5zM181.6 177h2.0v1h-2.0zM185.2 177h5.1v1h-5.1zM193.4 177h4.4v1h-4.4zM213.0 177h2.3v1h-2.3zM215.2 177h2.4v1h-2.4zM236.1 177h6.9v1h-6.9zM249.8 177h5.0v1h-5.0zM260.5 177h2.9v1h-2.9zM273.5 177h6.9v1h-6.9zM280.4 177h3.2v1h-3.2zM305.1 177h6.6v1h-6.6zM311.7 177h4.3v1h-4.3zM321.4 177h2.8v1h-2.8zM328.7 177h5.8v1h-5.8zM351.3 177h1.8v1h-1.8zM67.0 178h5.9v1h-5.9zM75.5 178h6.2v1h-6.2zM149.4 178h4.4v1h-4.4zM159.3 178h4.4v1h-4.4zM163.8 178h4.1v1h-4.1zM167.9 178h4.6v1h-4.6zM172.5 178h2.0v1h-2.0zM188.1 178h3.1v1h-3.1zM197.5 178h6.2v1h-6.2zM203.8 178h6.8v1h-6.8zM233.5 178h5.5v1h-5.5zM244.0 178h6.2v1h-6.2zM265.6 178h2.2v1h-2.2zM273.4 178h6.5v1h-6.5zM291.7 178h5.2v1h-5.2zM296.9 178h1.7v1h-1.7zM307.2 178h1.6v1h-1.6zM322.9 178h5.0v1h-5.0zM327.9 178h6.0v1h-6.0zM335.6 178h6.0v1h-6.0zM348.4 178h3.0v1h-3.0zM27.8 179h2.5v1h-2.5zM36.7 179h6.1v1h-6.1zM48.6 179h1.9v1h-1.9zM74.3 179h4.5v1h-4.5zM80.3 179h5.1v1h-5.1zM90.7 179h4.3v1h-4.3zM98.3 179h3.5v1h-3.5zM114.3 179h5.8v1h-5.8zM127.0 179h2.6v1h-2.6zM133.4 179h3.0v1h-3.0zM141.0 179h3.0v1h-3.0zM151.3 179h3.9v1h-3.9zM168.5 179h3.3v1h-3.3zM184.1 179h4.7v1h-4.7zM228.8 179h1.7v1h-1.7zM240.7 179h6.0v1h-6.0zM246.7 179h6.2v1h-6.2zM256.2 179h6.4v1h-6.4zM274.0 179h3.6v1h-3.6zM286.1 179h5.0v1h-5.0zM296.8 179h2.2v1h-2.2zM317.6 179h2.6v1h-2.6zM346.9 179h3.7v1h-3.7zM138.3 180h6.7v1h-6.7zM145.0 180h2.1v1h-2.1zM154.3 180h3.5v1h-3.5zM157.9 180h4.5v1h-4.5zM171.7 180h2.0v1h-2.0zM215.2 180h5.9v1h-5.9zM222.6 180h2.2v1h-2.2zM245.0 180h4.0v1h-4.0zM251.5 180h5.3v1h-5.3zM271.3 180h5.6v1h-5.6zM283.6 180h5.5v1h-5.5zM289.1 180h3.1v1h-3.1zM298.1 180h5.3v1h-5.3zM303.4 180h4.3v1h-4.3zM334.0 180h4.1v1h-4.1zM348.1 180h5.0v1h-5.0zM27.8 181h6.0v1h-6.0zM47.0 181h4.4v1h-4.4zM51.3 181h6.4v1h-6.4zM57.7 181h6.0v1h-6.0zM63.7 181h5.3v1h-5.3zM74.1 181h2.1v1h-2.1zM76.2 181h3.9v1h-3.9zM80.1 181h2.6v1h-2.6zM82.7 181h2.9v1h-2.9zM85.6 181h2.6v1h-2.6zM94.9 181h6.4v1h-6.4zM101.3 181h5.2v1h-5.2zM124.0 181h3.4v1h-3.4zM132.2 181h1.9v1h-1.9zM139.3 181h5.3v1h-5.3zM144.6 181h3.8v1h-3.8zM154.0 181h6.8v1h-6.8zM227.3 181h2.8v1h-2.8zM259.4 181h6.3v1h-6.3zM265.7 181h4.2v1h-4.2zM272.8 181h1.8v1h-1.8zM295.3 181h3.6v1h-3.6zM311.3 181h6.0v1h-6.0zM330.2 181h2.4v1h-2.4zM348.8 181h4.3v1h-4.3zM27.8 182h2.8v1h-2.8zM37.9 182h6.4v1h-6.4zM73.4 182h5.9v1h-5.9zM94.3 182h4.7v1h-4.7zM160.1 182h3.4v1h-3.4zM169.4 182h6.9v1h-6.9zM221.8 182h3.1v1h-3.1zM280.9 182h2.2v1h-2.2zM283.1 182h4.3v1h-4.3zM287.5 182h6.8v1h-6.8zM299.8 182h4.8v1h-4.8zM304.6 182h6.1v1h-6.1zM317.3 182h6.2v1h-6.2zM330.5 182h3.2v1h-3.2zM344.1 182h2.8v1h-2.8zM27.8 183h4.3v1h-4.3zM235.1 183h2.2v1h-2.2zM237.3 183h4.1v1h-4.1zM253.1 183h3.0v1h-3.0zM281.5 183h2.1v1h-2.1zM288.3 183h5.2v1h-5.2zM300.5 183h2.1v1h-2.1zM310.6 183h6.1v1h-6.1zM328.3 183h3.3v1h-3.3z" fill="rgb(56,56,56)"/>
<path d="M256.0 132h4.2v1h-4.2zM238.7 133h6.1v1h-6.1zM290.9 133h6.9v1h-6.9zM297.9 133h2.6v1h-2.6zM300.5 133h5.7v1h-5.7zM314.8 133h3.9v1h-3.9zM332.9 133h2.7v1h-2.7zM335.6 133h3.6v1h-3.6zM339.1 133h5.1v1h-5.1zM227.9 134h3.0v1h-3.0zM294.8 134h4.7v1h-4.7zM308.2 134h6.7v1h-6.7zM320.1 134h4.7v1h-4.7zM340.3 134h6.9v1h-6.9zM347.1 134h4.8v1h-4.8zM222.3 135h2.6v1h-2.6zM303.4 135h3.2v1h-3.2zM343.7 135h2.0v1h-2.0zM345.7 135h4.8v1h-4.8zM350.5 135h2.6v1h-2.6zM304.7 136h5.7v1h-5.7zM325.5 136h5.1v1h-5.1zM211.6 139h6.4v1h-6.4zM61.6 140h2.2v1h-2.2zM209.5 140h5.9v1h-5.9zM202.2 141h5.0v1h-5.0zM207.2 141h1.6v1h-1.6zM65.6 143h5.0v1h-5.0zM70.6 143h6.9v1h-6.9zM77.6 143h3.5v1h-3.5zM86.0 143h4.4v1h-4.4zM98.3 143h3.6v1h-3.6zM111.2 143h3.4v1h-3.4zM195.3 143h6.8v1h-6.8zM107.8 144h6.3v1h-6.3zM114.1 144h2.1v1h-2.1zM119.8 144h2.9v1h-2.9zM135.9 144h7.0v1h-7.0zM180.3 144h5.2v1h-5.2zM185.5 144h4.1v1h-4.1zM69.9 145h2.2v1h-2.2zM129.6 145h3.5v1h-3.5zM137.5 145h4.2v1h-4.2zM141.7 145h5.0v1h-5.0zM175.4 145h3.4v1h-3.4zM178.8 145h1.8v1h-1.8zM253.8 145h5.6v1h-5.6zM259.4 145h2.9v1h-2.9zM240.6 146h3.0v1h-3.0zM247.0 146h1.7v1h-1.7zM260.3 146h3.6v1h-3.6zM267.2 146h4.1v1h-4.1zM240.6 147h2.3v1h-2.3zM230.9 148h6.3v1h-6.3zM237.2 148h6.8v1h-6.8zM261.0 148h2.2v1h-2.2zM263.2 148h4.2v1h-4.2zM244.5 149h3.9v1h-3.9zM286.6 149h4.1v1h-4.1zM292.4 149h5.8v1h-5.8zM334.2 149h2.2v1h-2.2zM339.3 149h4.4v1h-4.4zM231.6 150h1.9v1h-1.9zM233.6 150h6.3v1h-6.3zM239.9 150h3.3v1h-3.3zM262.7 150h4.4v1h-4.4zM271.9 150h5.7v1h-5.7zM280.3 150h6.1v1h-6.1zM286.5 150h4.3v1h-4.3zM306.5 150h2.9v1h-2.9zM318.4 150h4.5v1h-4.5zM322.9 150h3.8v1h-3.8zM326.7 150h3.8v1h-3.8zM330.5 150h2.6v1h-2.6zM333.1 150h3.2v1h-3.2zM339.9 150h5.9v1h-5.9zM345.9 150h3.1v1h-3.1zM218.8 151h4.8v1h-4.8zM236.0 151h3.8v1h-3.8zM239.7 151h3.0v1h-3.0zM242.7 151h5.2v1h-5.2zM276.0 151h5.6v1h-5.6zM287.6 151h3.1v1h-3.1zM290.7 151h5.3v1h-5.3zM296.0 151h3.0v1h-3.0zM301.6 151h5.0v1h-5.0zM316.6 151h4.5v1h-4.5zM340.4 151h4.4v1h-4.4zM346.5 151h1.9v1h-1.9zM218.2 152h4.1v1h-4.1zM231.5 152h3.9v1h-3.9zM237.3 152h6.1v1h-6.1zM256.8 152h4.2v1h-4.2zM289.4 152h5.6v1h-5.6zM308.9 152h4.8v1h-4.8zM313.7 152h4.4v1h-4.4zM319.7 152h6.4v1h-6.4zM338.7 152h2.1v1h-2.1zM345.8 152h1.8v1h-1.8zM214.0 153h1.8v1h-1.8zM217.6 153h2.9v1h-2.9zM252.7 153h3.5v1h-3.5zM260.2 153h2.9v1h-2.9zM269.8 153h4.8v1h-4.8zM274.7 153h3.9v1h-3.9zM278.6 153h4.9v1h-4.9zM287.3 153h6.2v1h-6.2zM293.5 153h6.9v1h-6.9zM318.7 153h5.2v1h-5.2zM348.4 153h1.7v1h-1.7zM208.2 154h2.4v1h-2.4zM215.0 154h5.0v1h-5.0zM261.1 154h6.0v1h-6.0zM341.3 154h3.2v1h-3.2zM352.4 154h0.7v1h-0.7zM208.1 155h4.8v1h-4.8zM212.9 155h2.1v1h-2.1zM236.4 155h1.9v1h-1.9zM268.3 155h2.1v1h-2.1zM270.5 155h5.6v1h-5.6zM321.2 155h3.1v1h-3.1zM335.6 155h4.2v1h-4.2zM196.5 156h2.6v1h-2.6zM211.2 156h5.9v1h-5.9zM223.8 156h6.3v1h-6.3zM247.7 156h6.7v1h-6.7zM288.5 156h3.6v1h-3.6zM311.3 156h3.2v1h-3.2zM329.9 156h3.5v1h-3.5zM342.0 156h2.9v1h-2.9zM36.1 157h2.5v1h-2.5zM48.9 157h3.4v1h-3.4zM131.9 157h6.9v1h-6.9zM156.6 157h4.5v1h-4.5zM166.4 157h2.5v1h-2.5zM212.2 157h5.6v1h-5.6zM251.2 157h3.1v1h-3.1zM272.4 157h3.5v1h-3.5zM284.2 157h6.8v1h-6.8zM27.8 158h3.0v1h-3.0zM30.8 158h3.4v1h-3.4zM43.1 158h5.9v1h-5.9zM55.5 158h3.0v1h-3.0zM89.2 158h6.6v1h-6.6zM143.3 158h2.0v1h-2.0zM149.4 158h3.3v1h-3.3zM162.9 158h3.3v1h-3.3zM198.8 158h4.5v1h-4.5zM212.7 158h4.8v1h-4.8zM226.4 158h4.6v1h-4.6zM317.8 158h6.2v1h-6.2zM39.7 159h4.5v1h-4.5zM44.2 159h6.7v1h-6.7zM50.9 159h5.7v1h-5.7zM101.2 159h4.7v1h-4.7zM112.2 159h5.3v1h-5.3zM117.5 159h3.6v1h-3.6zM135.7 159h4.1v1h-4.1zM139.9 159h6.9v1h-6.9zM159.7 159h1.7v1h-1.7zM174.3 159h2.3v1h-2.3zM176.6 159h5.3v1h-5.3zM184.6 159h3.1v1h-3.1zM194.9 159h3.8v1h-3.8zM222.3 159h1.9v1h-1.9zM224.2 159h3.3v1h-3.3zM236.8 159h2.4v1h-2.4zM241.7 159h1.7v1h-1.7zM245.1 159h2.7v1h-2.7zM264.3 159h3.7v1h-3.7zM268.0 159h2.1v1h-2.1zM270.1 159h2.6v1h-2.6zM278.5 159h1.6v1h-1.6zM280.1 159h4.8v1h-4.8zM284.8 159h5.5v1h-5.5zM293.6 159h2.8v1h-2.8zM31.2 160h5.5v1h-5.5zM36.8 160h3.3v1h-3.3zM57.5 160h3.2v1h-3.2zM73.1 160h4.6v1h-4.6zM77.7 160h1.6v1h-1.6zM85.3 160h6.6v1h-6.6zM98.0 160h5.1v1h-5.1zM103.1 160h4.0v1h-4.0zM114.2 160h5.0v1h-5.0zM119.3 160h6.2v1h-6.2zM133.1 160h2.2v1h-2.2zM141.7 160h6.1v1h-6.1zM147.8 160h6.3v1h-6.3zM172.3 160h2.9v1h-2.9zM201.5 160h5.6v1h-5.6zM216.1 160h2.7v1h-2.7zM220.9 160h5.9v1h-5.9zM244.4 160h6.6v1h-6.6zM255.5 160h5.0v1h-5.0zM265.4 160h3.5v1h-3.5zM268.9 160h2.2v1h-2.2zM271.0 160h2.3v1h-2.3zM277.3 160h3.0v1h-3.0zM300.2 160h5.4v1h-5.4zM305.6 160h4.4v1h-4.4zM318.5 160h2.7v1h-2.7zM321.3 160h3.7v1h-3.7zM332.7 160h6.1v1h-6.1zM338.8 160h3.1v1h-3.1zM346.2 160h4.2v1h-4.2zM37.8 161h6.8v1h-6.8zM46.4 161h2.6v1h-2.6zM54.1 161h5.4v1h-5.4zM59.5 161h6.8v1h-6.8zM77.0 161h2.3v1h-2.3zM79.3 161h5.8v1h-5.8zM100.6 161h6.7v1h-6.7zM121.3 161h5.4v1h-5.4zM142.7 161h5.0v1h-5.0zM147.8 161h3.6v1h-3.6zM154.4 161h2.8v1h-2.8zM157.2 161h5.5v1h-5.5zM168.7 161h4.4v1h-4.4zM176.0 161h7.0v1h-7.0zM197.0 161h3.8v1h-3.8zM206.3 161h6.8v1h-6.8zM237.5 161h1.7v1h-1.7zM239.2 161h4.5v1h-4.5zM269.3 161h2.7v1h-2.7zM289.6 161h4.5v1h-4.5zM294.0 161h6.6v1h-6.6zM307.7 161h3.6v1h-3.6zM313.2 161h4.7v1h-4.7zM326.4 161h4.0v1h-4.0zM54.4 162h1.8v1h-1.8zM56.2 162h4.0v1h-4.0zM60.2 162h5.2v1h-5.2zM65.5 162h2.5v1h-2.5zM68.0 162h5.6v1h-5.6zM93.7 162h3.4v1h-3.4zM104.0 162h6.7v1h-6.7zM117.9 162h3.4v1h-3.4zM149.9 162h6.2v1h-6.2zM158.1 162h5.6v1h-5.6zM163.7 162h2.1v1h-2.1zM170.5 162h3.9v1h-3.9zM187.3 162h5.3v1h-5.3zM196.3 162h2.1v1h-2.1zM222.0 162h2.1v1h-2.1zM240.5 162h2.2v1h-2.2zM242.7 162h5.3v1h-5.3zM248.0 162h5.4v1h-5.4zM275.0 162h3.9v1h-3.9zM299.2 162h5.4v1h-5.4zM304.6 162h5.5v1h-5.5zM310.1 162h3.5v1h-3.5zM322.6 162h3.0v1h-3.0zM333.3 162h6.4v1h-6.4zM339.6 162h6.5v1h-6.5zM351.2 162h1.9v1h-1.9zM27.8 163h1.8v1h-1.8zM44.6 163h3.0v1h-3.0zM47.6 163h4.4v1h-4.4zM53.8 163h5.7v1h-5.7zM64.9 163h2.2v1h-2.2zM75.0 163h2.8v1h-2.8zM77.9 163h4.3v1h-4.3zM85.5 163h4.9v1h-4.9zM90.5 163h6.8v1h-6.8zM140.5 163h4.6v1h-4.6zM161.3 163h6.1v1h-6.1zM167.4 163h5.6v1h-5.6zM179.5 163h6.1v1h-6.1zM202.2 163h1.7v1h-1.7zM203.9 163h5.2v1h-5.2zM214.5 163h5.8v1h-5.8zM232.0 163h5.0v1h-5.0zM250.8 163h5.3v1h-5.3zM256.0 163h2.5v1h-2.5zM268.7 163h6.1v1h-6.1zM315.4 163h4.2v1h-4.2zM331.0 163h5.3v1h-5.3zM350.7 163h2.4v1h-2.4zM123.9 164h3.5v1h-3.5zM242.0 164h5.1v1h-5.1zM254.6 164h4.9v1h-4.9zM299.7 164h4.3v1h-4.3zM318.4 164h2.5v1h-2.5zM341.3 164h6.7v1h-6.7zM352.2 164h0.9v1h-0.9zM43.5 165h6.3v1h-6.3zM94.0 165h3.4v1h-3.4zM114.5 165h6.5v1h-6.5zM120.9 165h1.6v1h-1.6zM132.0 165h2.4v1h-2.4zM169.5 165h2.3v1h-2.3zM182.2 165h6.6v1h-6.6zM201.8 165h4.9v1h-4.9zM262.3 165h6.2v1h-6.2zM296.6 165h3.6v1h-3.6zM326.5 165h6.6v1h-6.6zM339.3 165h3.6v1h-3.6zM65.6 166h3.4v1h-3.4zM79.0 166h5.5v1h-5.5zM115.1 166h1.7v1h-1.7zM128.9 166h3.0v1h-3.0zM138.4 166h3.2v1h-3.2zM147.4 166h2.7v1h-2.7zM168.3 166h3.2v1h-3.2zM182.9 166h4.3v1h-4.3zM211.0 166h3.8v1h-3.8zM233.9 166h6.7v1h-6.7zM243.3 166h5.6v1h-5.6zM248.9 166h4.4v1h-4.4zM264.2 166h2.9v1h-2.9zM297.0 166h5.8v1h-5.8zM308.8 166h3.2v1h-3.2zM318.2 166h5.3v1h-5.3zM348.9 166h4.2v1h-4.2zM58.7 167h1.5v1h-1.5zM103.5 167h4.1v1h-4.1zM109.9 167h5.8v1h-5.8zM115.7 167h5.8v1h-5.8zM227.6 167h7.0v1h-7.0zM234.6 167h2.4v1h-2.4zM242.8 167h6.4v1h-6.4zM268.8 167h4.8v1h-4.8zM285.0 167h2.3v1h-2.3zM287.3 167h4.5v1h-4.5zM309.2 167h3.9v1h-3.9zM319.5 167h1.7v1h-1.7zM321.2 167h5.5v1h-5.5zM345.0 167h5.7v1h-5.7zM350.7 167h2.4v1h-2.4zM29.7 168h3.7v1h-3.7zM134.3 168h1.6v1h-1.6zM135.9 168h5.5v1h-5.5zM173.8 168h4.0v1h-4.0zM177.8 168h6.3v1h-6.3zM221.5 168h3.8v1h-3.8zM231.8 168h2.2v1h-2.2zM244.5 168h5.6v1h-5.6zM255.8 168h4.2v1h-4.2zM259.9 168h2.6v1h-2.6zM268.1 168h2.5v1h-2.5zM285.0 168h5.0v1h-5.0zM290.0 168h5.8v1h-5.8zM35.7 169h6.1v1h-6.1zM41.8 169h3.1v1h-3.1zM57.2 169h3.1v1h-3.1zM63.1 169h4.8v1h-4.8zM75.3 169h5.8v1h-5.8zM85.3 169h1.5v1h-1.5zM90.3 169h2.3v1h-2.3zM95.0 169h1.8v1h-1.8zM105.7 169h3.2v1h-3.2zM108.9 169h6.6v1h-6.6zM138.0 169h1.5v1h-1.5zM139.6 169h3.0v1h-3.0zM142.6 169h4.0v1h-4.0zM171.3 169h2.4v1h-2.4zM173.8 169h3.9v1h-3.9zM184.2 169h5.3v1h-5.3zM197.0 169h4.2v1h-4.2zM207.0 169h1.5v1h-1.5zM214.9 169h5.9v1h-5.9zM239.4 169h2.2v1h-2.2zM241.6 169h3.2v1h-3.2zM255.0 169h6.6v1h-6.6zM283.8 169h2.9v1h-2.9zM297.7 169h1.8v1h-1.8zM312.8 169h5.0v1h-5.0zM348.3 169h3.6v1h-3.6zM83.2 170h6.9v1h-6.9zM90.2 170h6.3v1h-6.3zM104.2 170h2.6v1h-2.6zM121.3 170h1.8v1h-1.8zM131.7 170h6.8v1h-6.8zM152.0 170h5.0v1h-5.0zM167.1 170h2.5v1h-2.5zM180.9 170h5.3v1h-5.3zM218.3 170h6.4v1h-6.4zM230.5 170h5.6v1h-5.6zM241.3 170h2.2v1h-2.2zM252.0 170h4.7v1h-4.7zM256.7 170h5.3v1h-5.3zM262.0 170h2.4v1h-2.4zM266.3 170h1.8v1h-1.8zM274.5 170h2.6v1h-2.6zM282.2 170h4.9v1h-4.9zM324.4 170h5.1v1h-5.1zM31.7 171h2.5v1h-2.5zM56.8 171h6.5v1h-6.5zM65.4 171h1.6v1h-1.6zM112.3 171h2.5v1h-2.5zM114.8 171h2.4v1h-2.4zM163.7 171h4.8v1h-4.8zM178.4 171h4.6v1h-4.6zM196.8 171h6.6v1h-6.6zM217.0 171h2.2v1h-2.2zM222.6 171h5.4v1h-5.4zM230.3 171h4.1v1h-4.1zM234.4 171h3.4v1h-3.4zM249.5 171h3.2v1h-3.2zM262.3 171h4.7v1h-4.7zM274.1 171h6.0v1h-6.0zM287.6 171h2.5v1h-2.5zM298.4 171h3.2v1h-3.2zM301.7 171h6.3v1h-6.3zM323.3 171h6.3v1h-6.3zM30.6 172h2.8v1h-2.8zM49.2 172h3.7v1h-3.7zM52.9 172h4.4v1h-4.4zM65.4 172h2.9v1h-2.9zM134.3 172h5.8v1h-5.8zM158.7 172h3.8v1h-3.8zM210.6 172h4.3v1h-4.3zM230.1 172h3.1v1h-3.1zM237.7 172h6.2v1h-6.2zM243.9 172h3.5v1h-3.5zM262.6 172h4.7v1h-4.7zM321.0 172h2.6v1h-2.6zM323.6 172h3.9v1h-3.9zM347.1 172h6.0v1h-6.0zM141.7 173h3.6v1h-3.6zM170.2 173h4.0v1h-4.0zM184.8 173h6.2v1h-6.2zM200.0 173h4.5v1h-4.5zM207.8 173h3.4v1h-3.4zM220.6 173h5.5v1h-5.5zM235.5 173h6.4v1h-6.4zM250.8 173h4.2v1h-4.2zM267.8 173h5.9v1h-5.9zM312.1 173h5.8v1h-5.8zM317.9 173h6.1v1h-6.1zM330.1 173h3.2v1h-3.2zM27.8 174h4.8v1h-4.8zM183.0 174h2.6v1h-2.6zM185.6 174h3.0v1h-3.0zM200.5 174h2.4v1h-2.4zM206.8 174h1.9v1h-1.9zM208.6 174h5.2v1h-5.2zM226.8 174h2.6v1h-2.6zM240.9 174h6.8v1h-6.8zM247.7 174h3.8v1h-3.8zM255.1 174h5.6v1h-5.6zM324.2 174h6.3v1h-6.3zM330.5 174h2.6v1h-2.6zM27.8 175h1.5v1h-1.5zM29.3 175h5.3v1h-5.3zM44.3 175h1.6v1h-1.6zM50.5 175h3.3v1h-3.3zM53.8 175h5.2v1h-5.2zM65.6 175h2.3v1h-2.3zM74.7 175h2.6v1h-2.6zM91.7 175h5.4v1h-5.4zM136.8 175h5.5v1h-5.5zM176.9 175h3.6v1h-3.6zM185.4 175h5.4v1h-5.4zM206.9 175h1.9v1h-1.9zM224.3 175h2.0v1h-2.0zM271.3 175h2.7v1h-2.7zM277.4 175h3.9v1h-3.9zM287.6 175h5.3v1h-5.3zM296.6 175h2.9v1h-2.9zM326.3 175h4.0v1h-4.0zM330.3 175h2.6v1h-2.6zM342.8 175h4.3v1h-4.3zM40.1 176h4.1v1h-4.1zM78.7 176h3.2v1h-3.2zM81.9 176h4.7v1h-4.7zM92.1 176h3.1v1h-3.1zM99.4 176h3.8v1h-3.8zM103.2 176h3.8v1h-3.8zM113.2 176h4.8v1h-4.8zM118.1 176h5.1v1h-5.1zM123.2 176h3.0v1h-3.0zM130.7 176h4.5v1h-4.5zM138.7 176h3.0v1h-3.0zM141.6 176h5.6v1h-5.6zM161.6 176h4.1v1h-4.1zM228.7 176h3.6v1h-3.6zM238.6 176h3.5v1h-3.5zM249.5 176h6.8v1h-6.8zM262.5 176h5.3v1h-5.3zM287.5 176h1.9v1h-1.9zM289.4 176h4.9v1h-4.9zM328.3 176h3.0v1h-3.0zM343.7 176h4.2v1h-4.2zM254.8 177h2.3v1h-2.3zM263.3 177h6.7v1h-6.7zM270.1 177h3.4v1h-3.4zM288.5 177h2.9v1h-2.9zM291.4 177h6.1v1h-6.1zM297.5 177h2.7v1h-2.7zM300.2 177h4.9v1h-4.9zM316.0 177h5.4v1h-5.4zM324.2 177h4.5v1h-4.5zM345.0 177h6.3v1h-6.3zM46.6 178h4.7v1h-4.7zM51.2 178h4.1v1h-4.1zM60.2 178h6.8v1h-6.8zM72.9 178h2.6v1h-2.6zM81.7 178h5.4v1h-5.4zM92.9 178h5.3v1h-5.3zM98.2 178h3.6v1h-3.6zM101.8 178h3.5v1h-3.5zM105.4 178h3.1v1h-3.1zM108.4 178h6.1v1h-6.1zM214.4 178h5.8v1h-5.8zM220.2 178h6.5v1h-6.5zM226.7 178h3.7v1h-3.7zM230.4 178h3.1v1h-3.1zM239.0 178h5.0v1h-5.0zM267.9 178h5.6v1h-5.6zM283.2 178h4.8v1h-4.8zM288.0 178h3.7v1h-3.7zM300.3 178h4.2v1h-4.2zM311.1 178h2.3v1h-2.3zM313.3 178h5.6v1h-5.6zM333.9 178h1.8v1h-1.8zM63.4 179h5.9v1h-5.9zM78.8 179h1.5v1h-1.5zM95.0 179h3.3v1h-3.3zM268.1 179h5.9v1h-5.9zM282.1 179h4.0v1h-4.0zM291.1 179h5.8v1h-5.8zM302.4 179h5.4v1h-5.4zM307.8 179h3.2v1h-3.2zM311.0 179h6.6v1h-6.6zM320.2 179h6.8v1h-6.8zM221.0 180h1.6v1h-1.6zM224.8 180h1.7v1h-1.7zM230.2 180h4.5v1h-4.5zM238.1 180h2.8v1h-2.8zM256.8 180h4.9v1h-4.9zM261.7 180h5.5v1h-5.5zM267.2 180h4.1v1h-4.1zM309.3 180h4.2v1h-4.2zM313.5 180h4.7v1h-4.7zM318.2 180h2.4v1h-2.4zM323.4 180h1.9v1h-1.9zM325.2 180h3.4v1h-3.4zM338.2 180h4.3v1h-4.3zM247.0 181h5.9v1h-5.9zM252.9 181h6.5v1h-6.5zM269.9 181h2.9v1h-2.9zM288.2 181h3.7v1h-3.7zM291.8 181h3.5v1h-3.5zM298.9 181h4.3v1h-4.3zM304.8 181h6.5v1h-6.5zM319.9 181h5.6v1h-5.6zM325.5 181h4.7v1h-4.7zM332.6 181h4.9v1h-4.9zM337.5 181h6.6v1h-6.6zM345.6 181h3.1v1h-3.1zM30.6 182h5.0v1h-5.0zM58.8 182h3.6v1h-3.6zM62.4 182h1.8v1h-1.8zM71.4 182h2.0v1h-2.0zM247.1 182h2.6v1h-2.6zM262.3 182h3.8v1h-3.8zM266.1 182h1.7v1h-1.7zM267.8 182h3.7v1h-3.7zM271.5 182h2.9v1h-2.9zM274.4 182h4.7v1h-4.7zM279.1 182h1.8v1h-1.8zM310.7 182h6.6v1h-6.6zM333.7 182h6.2v1h-6.2zM32.1 183h4.0v1h-4.0zM279.4 183h2.1v1h-2.1zM283.6 183h4.8v1h-4.8zM293.5 183h2.0v1h-2.0zM316.8 183h6.9v1h-6.9z" fill="rgb(64,64,64)"/>
<path d="M230.4 133h2.0v1h-2.0zM232.4 133h6.3v1h-6.3zM269.1 133h6.4v1h-6.4zM275.5 133h4.2v1h-4.2zM283.8 133h4.7v1h-4.7zM288.5 133h2.4v1h-2.4zM318.7 133h3.1v1h-3.1zM327.4 133h5.5v1h-5.5zM220.4 134h4.7v1h-4.7zM225.1 134h2.7v1h-2.7zM289.3 134h2.9v1h-2.9zM292.2 134h2.6v1h-2.6zM301.9 134h2.7v1h-2.7zM324.8 134h6.5v1h-6.5zM331.3 134h2.3v1h-2.3zM229.4 135h2.6v1h-2.6zM224.6 136h6.2v1h-6.2zM294.1 136h3.6v1h-3.6zM318.8 136h4.8v1h-4.8zM323.6 136h1.9v1h-1.9zM333.9 136h5.6v1h-5.6zM342.4 136h2.4v1h-2.4zM219.4 137h2.3v1h-2.3zM316.5 137h3.5v1h-3.5zM218.0 138h2.7v1h-2.7zM204.7 140h4.8v1h-4.8zM243.3 141h4.3v1h-4.3zM259.7 141h5.3v1h-5.3zM271.8 141h3.8v1h-3.8zM202.6 142h6.2v1h-6.2zM189.9 143h5.5v1h-5.5zM142.8 144h6.3v1h-6.3zM149.1 144h4.0v1h-4.0zM166.1 144h3.6v1h-3.6zM169.7 144h3.6v1h-3.6zM36.7 145h3.7v1h-3.7zM44.2 145h3.4v1h-3.4zM47.6 145h6.3v1h-6.3zM53.9 145h6.5v1h-6.5zM60.4 145h3.2v1h-3.2zM72.2 145h5.6v1h-5.6zM83.4 145h6.5v1h-6.5zM90.0 145h4.9v1h-4.9zM104.0 145h6.3v1h-6.3zM110.3 145h1.8v1h-1.8zM116.6 145h3.7v1h-3.7zM133.0 145h4.5v1h-4.5zM146.8 145h5.4v1h-5.4zM152.1 145h5.3v1h-5.3zM262.3 145h6.6v1h-6.6zM269.0 145h1.9v1h-1.9zM95.6 146h6.1v1h-6.1zM113.4 146h2.7v1h-2.7zM237.3 146h3.3v1h-3.3zM248.6 146h3.8v1h-3.8zM252.4 146h6.3v1h-6.3zM279.3 146h5.8v1h-5.8zM230.6 147h3.3v1h-3.3zM233.9 147h2.2v1h-2.2zM236.1 147h4.6v1h-4.6zM258.4 147h4.0v1h-4.0zM269.0 147h5.5v1h-5.5zM274.5 147h6.7v1h-6.7zM257.5 148h3.5v1h-3.5zM267.4 148h4.3v1h-4.3zM281.6 148h6.1v1h-6.1zM287.7 148h5.7v1h-5.7zM241.3 149h3.2v1h-3.2zM252.5 149h5.9v1h-5.9zM273.1 149h1.8v1h-1.8zM274.9 149h5.2v1h-5.2zM345.4 149h5.5v1h-5.5zM221.6 150h4.3v1h-4.3zM225.9 150h5.7v1h-5.7zM243.2 150h5.3v1h-5.3zM277.5 150h2.8v1h-2.8zM290.8 150h5.6v1h-5.6zM296.4 150h5.1v1h-5.1zM303.7 150h2.8v1h-2.8zM336.3 150h3.6v1h-3.6zM348.9 150h4.2v1h-4.2zM229.6 151h6.4v1h-6.4zM249.8 151h5.6v1h-5.6zM255.5 151h5.8v1h-5.8zM261.2 151h6.6v1h-6.6zM267.8 151h1.5v1h-1.5zM281.6 151h6.0v1h-6.0zM306.5 151h3.2v1h-3.2zM222.3 152h5.3v1h-5.3zM227.6 152h3.9v1h-3.9zM280.9 152h3.7v1h-3.7zM295.0 152h5.7v1h-5.7zM300.7 152h2.0v1h-2.0zM304.9 152h4.0v1h-4.0zM318.0 152h1.7v1h-1.7zM326.1 152h2.0v1h-2.0zM328.1 152h2.3v1h-2.3zM330.4 152h4.3v1h-4.3zM334.7 152h4.0v1h-4.0zM347.6 152h4.3v1h-4.3zM246.4 153h6.2v1h-6.2zM263.1 153h6.7v1h-6.7zM300.4 153h6.2v1h-6.2zM323.9 153h2.0v1h-2.0zM325.8 153h2.4v1h-2.4zM343.6 153h4.9v1h-4.9zM296.4 154h6.7v1h-6.7zM318.4 154h6.7v1h-6.7zM325.1 154h6.1v1h-6.1zM337.7 154h3.6v1h-3.6zM202.7 155h5.5v1h-5.5zM221.8 155h6.7v1h-6.7zM232.4 155h4.0v1h-4.0zM276.1 155h2.4v1h-2.4zM281.1 155h5.2v1h-5.2zM286.3 155h2.2v1h-2.2zM301.8 155h6.7v1h-6.7zM324.3 155h6.1v1h-6.1zM346.3 155h5.1v1h-5.1zM351.4 155h1.7v1h-1.7zM188.9 156h3.0v1h-3.0zM267.1 156h2.2v1h-2.2zM271.8 156h5.8v1h-5.8zM277.5 156h2.5v1h-2.5zM302.9 156h1.8v1h-1.8zM314.5 156h3.7v1h-3.7zM321.8 156h4.8v1h-4.8zM52.3 157h2.7v1h-2.7zM55.0 157h4.7v1h-4.7zM66.8 157h6.7v1h-6.7zM144.2 157h5.6v1h-5.6zM149.8 157h6.8v1h-6.8zM172.9 157h2.9v1h-2.9zM180.0 157h5.6v1h-5.6zM191.5 157h4.4v1h-4.4zM205.6 157h6.6v1h-6.6zM217.8 157h6.7v1h-6.7zM232.9 157h6.6v1h-6.6zM244.2 157h4.6v1h-4.6zM264.4 157h2.3v1h-2.3zM266.7 157h3.8v1h-3.8zM270.6 157h1.9v1h-1.9zM303.1 157h4.7v1h-4.7zM40.6 158h2.5v1h-2.5zM63.7 158h4.1v1h-4.1zM67.7 158h2.0v1h-2.0zM82.5 158h4.8v1h-4.8zM95.8 158h1.9v1h-1.9zM97.7 158h3.8v1h-3.8zM134.9 158h3.4v1h-3.4zM138.3 158h2.2v1h-2.2zM157.6 158h2.7v1h-2.7zM160.4 158h2.6v1h-2.6zM166.2 158h7.0v1h-7.0zM185.8 158h3.5v1h-3.5zM210.3 158h2.3v1h-2.3zM217.5 158h2.7v1h-2.7zM220.1 158h6.2v1h-6.2zM231.0 158h5.6v1h-5.6zM236.6 158h6.5v1h-6.5zM247.6 158h2.5v1h-2.5zM302.0 158h4.4v1h-4.4zM306.5 158h4.4v1h-4.4zM324.0 158h5.8v1h-5.8zM329.8 158h5.7v1h-5.7zM341.7 158h4.2v1h-4.2zM345.9 158h6.2v1h-6.2zM352.1 158h1.0v1h-1.0zM33.3 159h6.4v1h-6.4zM56.6 159h4.0v1h-4.0zM60.5 159h2.4v1h-2.4zM72.7 159h5.9v1h-5.9zM84.7 159h3.2v1h-3.2zM91.5 159h3.3v1h-3.3zM94.8 159h6.4v1h-6.4zM146.7 159h6.0v1h-6.0zM154.5 159h5.3v1h-5.3zM161.4 159h4.6v1h-4.6zM166.1 159h4.6v1h-4.6zM181.9 159h2.6v1h-2.6zM212.8 159h5.4v1h-5.4zM218.3 159h4.1v1h-4.1zM227.5 159h6.1v1h-6.1zM233.5 159h3.2v1h-3.2zM254.4 159h3.9v1h-3.9zM310.4 159h4.8v1h-4.8zM320.4 159h1.9v1h-1.9zM322.2 159h5.2v1h-5.2zM330.0 159h2.9v1h-2.9zM27.8 160h3.4v1h-3.4zM53.6 160h3.9v1h-3.9zM60.7 160h5.3v1h-5.3zM79.3 160h6.0v1h-6.0zM91.9 160h6.1v1h-6.1zM107.1 160h3.6v1h-3.6zM32.2 161h2.9v1h-2.9zM49.0 161h3.0v1h-3.0zM66.4 161h6.8v1h-6.8zM73.2 161h3.8v1h-3.8zM95.6 161h2.1v1h-2.1zM97.7 161h3.0v1h-3.0zM107.3 161h4.8v1h-4.8zM112.1 161h1.9v1h-1.9zM118.7 161h2.6v1h-2.6zM213.2 161h3.3v1h-3.3zM216.5 161h3.9v1h-3.9zM220.3 161h6.1v1h-6.1zM250.2 161h6.9v1h-6.9zM257.1 161h4.2v1h-4.2zM352.7 161h0.4v1h-0.4zM31.2 162h6.6v1h-6.6zM37.8 162h5.8v1h-5.8zM131.4 162h5.6v1h-5.6zM141.9 162h2.7v1h-2.7zM177.3 162h3.4v1h-3.4zM253.4 162h3.6v1h-3.6zM270.0 162h4.9v1h-4.9zM313.6 162h6.8v1h-6.8zM325.6 162h2.3v1h-2.3zM258.5 163h3.1v1h-3.1zM261.7 163h2.4v1h-2.4zM264.1 163h4.6v1h-4.6zM308.2 163h3.5v1h-3.5zM339.1 163h2.7v1h-2.7zM29.2 164h2.7v1h-2.7zM127.4 164h6.9v1h-6.9zM247.1 164h2.1v1h-2.1zM276.0 164h6.8v1h-6.8zM289.2 164h3.6v1h-3.6zM292.8 164h6.9v1h-6.9zM316.1 164h2.3v1h-2.3zM331.6 164h1.8v1h-1.8zM27.8 165h0.8v1h-0.8zM66.6 165h3.9v1h-3.9zM80.2 165h6.9v1h-6.9zM122.5 165h6.1v1h-6.1zM134.4 165h3.0v1h-3.0zM144.8 165h2.7v1h-2.7zM163.6 165h5.9v1h-5.9zM171.8 165h4.3v1h-4.3zM206.7 165h3.1v1h-3.1zM212.1 165h5.7v1h-5.7zM221.0 165h2.2v1h-2.2zM247.0 165h6.8v1h-6.8zM270.1 165h1.6v1h-1.6zM273.4 165h2.6v1h-2.6zM309.8 165h1.9v1h-1.9zM27.8 166h4.3v1h-4.3zM41.9 166h3.2v1h-3.2zM50.2 166h2.9v1h-2.9zM58.8 166h4.2v1h-4.2zM63.0 166h2.6v1h-2.6zM69.0 166h3.3v1h-3.3zM87.3 166h5.3v1h-5.3zM95.5 166h2.6v1h-2.6zM98.0 166h3.4v1h-3.4zM116.7 166h5.5v1h-5.5zM150.1 166h6.9v1h-6.9zM171.5 166h5.8v1h-5.8zM192.2 166h1.8v1h-1.8zM199.7 166h5.8v1h-5.8zM253.2 166h4.7v1h-4.7zM257.9 166h6.3v1h-6.3zM295.0 166h1.9v1h-1.9zM312.0 166h6.2v1h-6.2zM88.3 167h1.6v1h-1.6zM99.7 167h3.8v1h-3.8zM121.4 167h6.0v1h-6.0zM222.0 167h5.6v1h-5.6zM280.5 167h4.5v1h-4.5zM304.0 167h5.3v1h-5.3zM313.1 167h6.4v1h-6.4zM326.7 167h5.9v1h-5.9zM332.6 167h3.1v1h-3.1zM27.8 168h1.9v1h-1.9zM36.2 168h5.6v1h-5.6zM41.9 168h4.8v1h-4.8zM46.7 168h4.0v1h-4.0zM156.5 168h3.6v1h-3.6zM165.1 168h3.2v1h-3.2zM193.8 168h1.9v1h-1.9zM195.6 168h4.9v1h-4.9zM200.6 168h2.6v1h-2.6zM338.1 168h5.7v1h-5.7zM81.1 169h4.2v1h-4.2zM115.5 169h3.9v1h-3.9zM146.6 169h6.3v1h-6.3zM158.1 169h6.6v1h-6.6zM232.6 169h6.8v1h-6.8zM244.9 169h4.2v1h-4.2zM273.0 169h2.8v1h-2.8zM275.8 169h3.7v1h-3.7zM291.4 169h6.3v1h-6.3zM317.8 169h3.3v1h-3.3zM321.0 169h5.9v1h-5.9zM326.9 169h1.7v1h-1.7zM333.8 169h7.0v1h-7.0zM340.8 169h4.5v1h-4.5zM352.0 169h1.1v1h-1.1zM123.1 170h3.2v1h-3.2zM126.2 170h5.5v1h-5.5zM138.5 170h2.6v1h-2.6zM296.8 170h6.8v1h-6.8zM329.5 170h4.9v1h-4.9zM342.3 170h2.9v1h-2.9zM345.2 170h5.2v1h-5.2zM350.4 170h2.7v1h-2.7zM117.2 171h4.5v1h-4.5zM145.9 171h5.8v1h-5.8zM168.5 171h3.0v1h-3.0zM183.0 171h6.3v1h-6.3zM219.3 171h3.4v1h-3.4zM237.9 171h6.2v1h-6.2zM252.7 171h4.1v1h-4.1zM258.4 171h3.9v1h-3.9zM290.0 171h2.9v1h-2.9zM337.5 171h4.7v1h-4.7zM214.9 172h1.6v1h-1.6zM226.2 173h2.5v1h-2.5zM248.0 173h2.8v1h-2.8zM284.5 173h4.5v1h-4.5zM300.7 173h3.3v1h-3.3zM309.2 173h3.0v1h-3.0zM324.0 173h4.4v1h-4.4zM328.4 173h1.8v1h-1.8zM333.4 173h3.2v1h-3.2zM32.6 174h6.1v1h-6.1zM202.9 174h3.9v1h-3.9zM39.0 175h5.2v1h-5.2zM45.9 175h2.5v1h-2.5zM59.0 175h3.6v1h-3.6zM67.9 175h6.8v1h-6.8zM77.4 175h2.8v1h-2.8zM85.8 175h5.9v1h-5.9zM112.0 175h6.2v1h-6.2zM124.5 175h4.5v1h-4.5zM147.0 175h3.4v1h-3.4zM155.1 175h6.6v1h-6.6zM161.6 175h5.6v1h-5.6zM167.2 175h3.9v1h-3.9zM171.1 175h2.2v1h-2.2zM173.3 175h3.6v1h-3.6zM180.5 175h4.9v1h-4.9zM210.8 176h6.2v1h-6.2zM232.3 176h6.3v1h-6.3zM242.1 176h4.6v1h-4.6zM246.7 176h2.8v1h-2.8zM285.7 176h1.9v1h-1.9zM294.3 176h5.4v1h-5.4zM303.6 176h6.9v1h-6.9zM319.7 176h3.3v1h-3.3zM243.0 177h5.1v1h-5.1zM118.5 178h6.1v1h-6.1zM250.2 178h6.3v1h-6.3zM256.6 178h3.8v1h-3.8zM260.3 178h5.3v1h-5.3zM298.6 178h1.7v1h-1.7zM304.5 178h2.7v1h-2.7zM308.8 178h2.2v1h-2.2zM318.9 178h4.0v1h-4.0zM351.4 178h1.7v1h-1.7zM252.9 179h3.3v1h-3.3zM234.7 180h3.4v1h-3.4zM249.1 180h2.4v1h-2.4zM276.9 180h3.1v1h-3.1zM280.1 180h3.6v1h-3.6zM328.7 180h5.3v1h-5.3zM33.8 181h5.0v1h-5.0zM274.6 181h2.3v1h-2.3zM276.9 181h4.5v1h-4.5zM281.3 181h6.9v1h-6.9zM317.3 181h2.6v1h-2.6zM344.1 181h1.5v1h-1.5zM240.1 182h7.0v1h-7.0zM249.7 182h6.6v1h-6.6zM256.3 182h6.0v1h-6.0zM294.2 182h5.6v1h-5.6zM323.5 182h1.5v1h-1.5zM339.9 182h4.3v1h-4.3zM295.5 183h5.0v1h-5.0z" fill="rgb(72,72,72)"/>
<path d="M244.9 133h3.5v1h-3.5zM254.7 133h5.3v1h-5.3zM279.7 133h4.1v1h-4.1zM304.5 134h3.6v1h-3.6zM351.9 134h1.2v1h-1.2zM330.6 136h3.3v1h-3.3zM339.5 136h2.9v1h-2.9zM344.7 136h3.5v1h-3.5zM294.9 137h2.0v1h-2.0zM296.9 137h4.3v1h-4.3zM314.0 137h2.5v1h-2.5zM339.5 137h6.4v1h-6.4zM345.8 137h2.2v1h-2.2zM257.9 140h4.9v1h-4.9zM266.1 140h3.4v1h-3.4zM239.8 141h1.5v1h-1.5zM241.3 141h2.0v1h-2.0zM247.6 141h5.2v1h-5.2zM252.8 141h6.8v1h-6.8zM278.7 141h6.8v1h-6.8zM285.6 141h6.5v1h-6.5zM277.8 142h3.8v1h-3.8zM225.2 143h5.5v1h-5.5zM289.6 143h5.1v1h-5.1zM192.4 144h6.3v1h-6.3zM30.8 145h5.9v1h-5.9zM40.4 145h3.8v1h-3.8zM63.6 145h6.4v1h-6.4zM94.9 145h3.2v1h-3.2zM98.1 145h5.9v1h-5.9zM184.4 145h4.3v1h-4.3zM307.5 145h2.9v1h-2.9zM310.4 145h5.2v1h-5.2zM315.7 145h2.8v1h-2.8zM318.4 145h6.7v1h-6.7zM334.4 145h2.7v1h-2.7zM28.8 146h6.2v1h-6.2zM43.0 146h4.4v1h-4.4zM47.3 146h3.7v1h-3.7zM51.1 146h5.4v1h-5.4zM58.4 146h5.9v1h-5.9zM64.3 146h2.3v1h-2.3zM82.7 146h5.9v1h-5.9zM101.7 146h4.8v1h-4.8zM116.1 146h3.0v1h-3.0zM119.1 146h6.4v1h-6.4zM144.1 146h6.1v1h-6.1zM156.6 146h1.8v1h-1.8zM158.4 146h6.5v1h-6.5zM169.9 146h2.0v1h-2.0zM285.1 146h2.3v1h-2.3zM290.6 146h2.1v1h-2.1zM244.4 147h1.6v1h-1.6zM246.0 147h2.2v1h-2.2zM248.2 147h1.9v1h-1.9zM250.1 147h3.4v1h-3.4zM253.5 147h4.8v1h-4.8zM223.7 148h3.9v1h-3.9zM252.1 148h5.3v1h-5.3zM271.6 148h4.1v1h-4.1zM275.8 148h5.8v1h-5.8zM351.9 148h1.2v1h-1.2zM236.7 149h2.7v1h-2.7zM239.3 149h1.9v1h-1.9zM330.9 149h3.3v1h-3.3zM343.7 149h1.6v1h-1.6zM350.8 149h2.3v1h-2.3zM248.4 150h4.4v1h-4.4zM301.4 150h2.3v1h-2.3zM309.4 150h5.8v1h-5.8zM212.2 151h6.6v1h-6.6zM309.7 151h5.0v1h-5.0zM235.4 152h2.0v1h-2.0zM243.5 152h1.7v1h-1.7zM261.0 152h5.9v1h-5.9zM266.9 152h5.3v1h-5.3zM275.3 152h5.6v1h-5.6zM340.8 152h5.0v1h-5.0zM194.5 153h6.6v1h-6.6zM201.2 153h2.1v1h-2.1zM203.3 153h6.4v1h-6.4zM209.7 153h4.3v1h-4.3zM237.5 153h4.2v1h-4.2zM241.7 153h4.7v1h-4.7zM328.2 153h2.3v1h-2.3zM332.9 153h1.5v1h-1.5zM350.2 153h2.0v1h-2.0zM352.2 153h0.9v1h-0.9zM193.4 154h6.1v1h-6.1zM205.4 154h2.8v1h-2.8zM210.6 154h1.8v1h-1.8zM212.4 154h2.6v1h-2.6zM254.2 154h6.9v1h-6.9zM267.1 154h5.9v1h-5.9zM273.0 154h3.5v1h-3.5zM276.5 154h3.1v1h-3.1zM344.5 154h4.3v1h-4.3zM278.5 155h2.7v1h-2.7zM288.5 155h3.9v1h-3.9zM191.9 156h4.6v1h-4.6zM205.3 156h5.9v1h-5.9zM217.1 156h3.1v1h-3.1zM292.1 156h4.1v1h-4.1zM336.2 156h5.8v1h-5.8zM344.9 156h4.5v1h-4.5zM27.8 157h3.4v1h-3.4zM38.6 157h5.4v1h-5.4zM47.1 157h1.8v1h-1.8zM59.7 157h3.9v1h-3.9zM73.5 157h6.9v1h-6.9zM85.5 157h5.4v1h-5.4zM90.8 157h6.5v1h-6.5zM122.3 157h3.5v1h-3.5zM125.8 157h6.1v1h-6.1zM168.9 157h2.1v1h-2.1zM171.0 157h2.0v1h-2.0zM185.6 157h5.9v1h-5.9zM195.9 157h6.1v1h-6.1zM201.9 157h3.7v1h-3.7zM239.5 157h4.7v1h-4.7zM290.9 157h3.3v1h-3.3zM76.0 158h6.5v1h-6.5zM101.5 158h5.8v1h-5.8zM118.9 158h6.3v1h-6.3zM140.5 158h2.8v1h-2.8zM145.2 158h1.5v1h-1.5zM180.9 158h4.9v1h-4.9zM189.3 158h4.2v1h-4.2zM193.5 158h5.3v1h-5.3zM203.3 158h3.1v1h-3.1zM243.1 158h4.5v1h-4.5zM250.0 158h6.1v1h-6.1zM310.9 158h6.9v1h-6.9zM87.9 159h3.6v1h-3.6zM129.4 159h6.4v1h-6.4zM152.7 159h1.8v1h-1.8zM170.6 159h3.7v1h-3.7zM203.6 159h6.7v1h-6.7zM210.3 159h2.5v1h-2.5zM239.2 159h2.6v1h-2.6zM243.5 159h1.6v1h-1.6zM247.8 159h4.8v1h-4.8zM252.6 159h1.8v1h-1.8zM258.4 159h5.9v1h-5.9zM315.2 159h5.1v1h-5.1zM327.4 159h2.5v1h-2.5zM338.5 159h6.9v1h-6.9zM345.5 159h3.7v1h-3.7zM40.1 160h6.7v1h-6.7zM50.1 160h3.4v1h-3.4zM66.0 160h2.9v1h-2.9zM27.8 161h4.4v1h-4.4zM85.1 161h6.0v1h-6.0zM91.1 161h4.4v1h-4.4zM117.1 161h1.6v1h-1.6zM137.0 161h5.7v1h-5.7zM151.4 161h3.0v1h-3.0zM27.8 162h3.4v1h-3.4zM43.6 162h6.1v1h-6.1zM211.1 162h5.0v1h-5.0zM320.4 162h2.2v1h-2.2zM327.9 162h3.1v1h-3.1zM330.9 162h2.3v1h-2.3zM346.1 162h2.6v1h-2.6zM348.7 162h2.5v1h-2.5zM284.7 163h5.1v1h-5.1zM296.7 163h5.1v1h-5.1zM301.8 163h6.4v1h-6.4zM311.6 163h3.7v1h-3.7zM341.8 163h2.6v1h-2.6zM259.5 164h6.4v1h-6.4zM28.6 165h4.9v1h-4.9zM33.6 165h3.5v1h-3.5zM243.7 165h3.3v1h-3.3zM268.5 165h1.6v1h-1.6zM271.7 165h1.8v1h-1.8zM285.7 165h4.8v1h-4.8zM303.8 165h5.9v1h-5.9zM313.1 165h5.2v1h-5.2zM32.1 166h4.5v1h-4.5zM36.6 166h5.3v1h-5.3zM53.1 166h2.2v1h-2.2zM84.4 166h2.9v1h-2.9zM111.5 166h3.5v1h-3.5zM141.6 166h5.8v1h-5.8zM156.9 166h5.9v1h-5.9zM225.5 166h3.5v1h-3.5zM240.6 166h2.7v1h-2.7zM276.8 166h5.7v1h-5.7zM32.0 167h4.7v1h-4.7zM82.7 167h5.6v1h-5.6zM107.6 167h2.3v1h-2.3zM249.1 167h6.9v1h-6.9zM291.7 167h1.6v1h-1.6zM335.7 167h3.7v1h-3.7zM339.4 167h5.6v1h-5.6zM187.8 168h5.9v1h-5.9zM203.2 168h5.4v1h-5.4zM295.8 168h3.3v1h-3.3zM325.5 168h2.0v1h-2.0zM330.1 168h6.0v1h-6.0zM336.0 168h2.1v1h-2.1zM343.8 168h6.6v1h-6.6zM249.0 169h1.6v1h-1.6zM286.7 169h4.6v1h-4.6zM303.6 169h4.2v1h-4.2zM328.6 169h5.2v1h-5.2zM112.9 170h2.3v1h-2.3zM303.6 170h5.1v1h-5.1zM308.7 170h2.1v1h-2.1zM310.8 170h3.7v1h-3.7zM318.9 170h5.5v1h-5.5zM334.4 170h6.0v1h-6.0zM121.6 171h6.9v1h-6.9zM135.4 171h6.8v1h-6.8zM171.5 171h7.0v1h-7.0zM228.1 171h2.2v1h-2.2zM280.1 171h1.8v1h-1.8zM281.9 171h5.7v1h-5.7zM292.9 171h5.5v1h-5.5zM348.6 171h4.5v1h-4.5zM256.3 176h6.2v1h-6.2zM279.7 176h5.9v1h-5.9zM315.8 176h3.9v1h-3.9zM323.0 176h1.8v1h-1.8zM279.9 178h3.3v1h-3.3zM307.7 180h1.7v1h-1.7z" fill="rgb(80,80,80)"/>
<path d="M248.4 133h6.3v1h-6.3zM265.7 133h3.5v1h-3.5zM237.2 134h4.8v1h-4.8zM283.3 134h6.0v1h-6.0zM287.0 135h6.9v1h-6.9zM348.3 136h4.8v1h-4.8zM221.7 137h6.1v1h-6.1zM301.1 137h6.4v1h-6.4zM307.5 137h6.5v1h-6.5zM326.2 137h4.0v1h-4.0zM330.2 137h3.2v1h-3.2zM333.3 137h6.1v1h-6.1zM348.1 137h2.1v1h-2.1zM301.4 138h6.7v1h-6.7zM217.9 139h2.4v1h-2.4zM259.8 139h4.1v1h-4.1zM269.7 139h3.8v1h-3.8zM237.9 140h6.1v1h-6.1zM248.5 140h3.7v1h-3.7zM252.2 140h3.9v1h-3.9zM269.6 140h5.8v1h-5.8zM208.7 141h4.2v1h-4.2zM212.9 141h3.6v1h-3.6zM233.1 141h6.7v1h-6.7zM265.0 141h1.7v1h-1.7zM266.7 141h5.1v1h-5.1zM275.5 141h3.2v1h-3.2zM292.0 141h2.0v1h-2.0zM211.9 142h2.0v1h-2.0zM226.6 142h3.6v1h-3.6zM240.4 142h6.1v1h-6.1zM202.1 143h5.7v1h-5.7zM230.7 143h4.9v1h-4.9zM281.7 143h6.0v1h-6.0zM333.4 143h2.0v1h-2.0zM345.7 143h6.3v1h-6.3zM265.6 144h2.9v1h-2.9zM271.4 144h3.0v1h-3.0zM302.7 144h2.4v1h-2.4zM310.8 144h1.9v1h-1.9zM316.3 144h1.6v1h-1.6zM77.7 145h5.7v1h-5.7zM112.1 145h4.5v1h-4.5zM180.6 145h3.8v1h-3.8zM217.8 145h6.6v1h-6.6zM325.1 145h6.8v1h-6.8zM27.8 146h1.0v1h-1.0zM35.1 146h3.0v1h-3.0zM56.4 146h2.0v1h-2.0zM77.7 146h5.0v1h-5.0zM111.6 146h1.7v1h-1.7zM138.9 146h5.2v1h-5.2zM154.1 146h2.5v1h-2.5zM164.9 146h5.0v1h-5.0zM218.1 146h4.3v1h-4.3zM287.4 146h3.2v1h-3.2zM296.3 146h5.3v1h-5.3zM104.4 147h4.9v1h-4.9zM127.9 147h6.4v1h-6.4zM139.5 147h2.8v1h-2.8zM155.7 147h7.0v1h-7.0zM171.1 147h5.0v1h-5.0zM176.1 147h3.5v1h-3.5zM218.9 147h5.5v1h-5.5zM242.9 147h1.5v1h-1.5zM262.4 147h6.6v1h-6.6zM281.2 147h7.0v1h-7.0zM227.6 148h3.3v1h-3.3zM293.4 148h2.4v1h-2.4zM343.8 148h3.9v1h-3.9zM347.7 148h4.2v1h-4.2zM219.6 149h6.2v1h-6.2zM225.9 149h6.8v1h-6.8zM232.7 149h4.0v1h-4.0zM314.6 149h7.0v1h-7.0zM321.5 149h6.0v1h-6.0zM252.8 150h5.3v1h-5.3zM258.1 150h4.6v1h-4.6zM267.1 150h4.7v1h-4.7zM204.9 151h4.4v1h-4.4zM269.4 151h6.7v1h-6.7zM206.7 152h6.4v1h-6.4zM245.2 152h3.5v1h-3.5zM248.7 152h1.8v1h-1.8zM352.0 152h1.1v1h-1.1zM313.5 153h5.2v1h-5.2zM330.6 153h2.3v1h-2.3zM334.4 153h4.6v1h-4.6zM339.0 153h4.6v1h-4.6zM189.2 154h4.2v1h-4.2zM199.5 154h5.9v1h-5.9zM230.1 154h3.9v1h-3.9zM239.2 154h2.4v1h-2.4zM241.6 154h5.7v1h-5.7zM279.6 154h6.0v1h-6.0zM185.6 155h3.6v1h-3.6zM189.2 155h4.6v1h-4.6zM196.7 155h5.9v1h-5.9zM49.8 156h6.4v1h-6.4zM69.3 156h5.6v1h-5.6zM86.0 156h6.0v1h-6.0zM141.9 156h6.1v1h-6.1zM180.4 156h5.2v1h-5.2zM199.1 156h2.7v1h-2.7zM201.8 156h3.5v1h-3.5zM220.2 156h3.7v1h-3.7zM263.4 156h3.6v1h-3.6zM349.4 156h3.1v1h-3.1zM352.4 156h0.7v1h-0.7zM31.2 157h5.0v1h-5.0zM44.1 157h3.0v1h-3.0zM107.8 157h6.9v1h-6.9zM175.8 157h4.2v1h-4.2zM224.5 157h4.9v1h-4.9zM294.2 157h4.4v1h-4.4zM307.8 157h4.2v1h-4.2zM335.8 157h3.3v1h-3.3zM343.3 157h4.2v1h-4.2zM347.6 157h5.5v1h-5.5zM58.5 158h5.2v1h-5.2zM69.7 158h6.3v1h-6.3zM113.3 158h5.5v1h-5.5zM125.2 158h4.3v1h-4.3zM129.5 158h5.4v1h-5.4zM173.2 158h4.5v1h-4.5zM295.1 158h6.9v1h-6.9zM302.4 159h1.6v1h-1.6zM304.0 159h6.4v1h-6.4zM67.1 163h6.0v1h-6.0zM280.3 163h4.4v1h-4.4zM325.2 163h5.9v1h-5.9zM336.4 163h2.7v1h-2.7zM31.9 164h6.7v1h-6.7zM269.4 164h6.7v1h-6.7zM282.8 164h6.4v1h-6.4zM230.5 165h6.7v1h-6.7zM237.3 165h4.5v1h-4.5zM253.8 165h3.6v1h-3.6zM257.3 165h5.0v1h-5.0zM276.0 165h2.9v1h-2.9zM300.2 165h3.6v1h-3.6zM194.0 166h5.7v1h-5.7zM228.9 166h5.0v1h-5.0zM282.4 166h6.2v1h-6.2zM288.6 166h6.4v1h-6.4zM293.3 167h4.0v1h-4.0zM299.1 168h3.2v1h-3.2zM310.0 168h5.2v1h-5.2zM320.9 168h2.4v1h-2.4zM307.7 169h5.1v1h-5.1zM340.4 170h1.9v1h-1.9z" fill="rgb(88,88,88)"/>
<path d="M260.1 133h5.6v1h-5.6zM230.8 134h6.4v1h-6.4zM276.4 134h6.9v1h-6.9zM280.5 135h6.5v1h-6.5zM320.0 137h6.2v1h-6.2zM350.1 137h3.0v1h-3.0zM318.5 138h3.9v1h-3.9zM327.7 138h5.9v1h-5.9zM245.7 139h3.0v1h-3.0zM248.7 139h4.2v1h-4.2zM252.9 139h2.3v1h-2.3zM255.2 139h4.6v1h-4.6zM263.9 139h5.8v1h-5.8zM273.5 139h3.5v1h-3.5zM231.9 140h6.0v1h-6.0zM244.0 140h4.5v1h-4.5zM262.8 140h3.4v1h-3.4zM231.2 141h1.9v1h-1.9zM208.8 142h3.1v1h-3.1zM230.3 142h2.1v1h-2.1zM232.4 142h3.1v1h-3.1zM235.5 142h4.9v1h-4.9zM246.4 142h4.4v1h-4.4zM281.7 142h4.5v1h-4.5zM286.1 142h6.4v1h-6.4zM220.4 143h4.8v1h-4.8zM287.7 143h1.9v1h-1.9zM316.2 143h2.9v1h-2.9zM319.1 143h3.3v1h-3.3zM322.4 143h3.0v1h-3.0zM339.8 143h5.9v1h-5.9zM189.5 144h2.9v1h-2.9zM219.5 144h5.3v1h-5.3zM224.8 144h3.5v1h-3.5zM228.4 144h5.7v1h-5.7zM240.9 144h7.0v1h-7.0zM247.8 144h2.8v1h-2.8zM250.7 144h5.9v1h-5.9zM256.6 144h3.9v1h-3.9zM268.5 144h2.8v1h-2.8zM305.1 144h2.5v1h-2.5zM307.6 144h3.2v1h-3.2zM317.9 144h1.8v1h-1.8zM319.7 144h5.0v1h-5.0zM324.7 144h2.7v1h-2.7zM344.6 144h5.7v1h-5.7zM350.3 144h2.8v1h-2.8zM27.8 145h3.0v1h-3.0zM224.4 145h5.1v1h-5.1zM237.5 145h3.7v1h-3.7zM249.3 145h4.5v1h-4.5zM273.2 145h3.1v1h-3.1zM293.3 145h6.3v1h-6.3zM299.7 145h4.7v1h-4.7zM304.4 145h3.1v1h-3.1zM331.9 145h2.5v1h-2.5zM337.1 145h3.4v1h-3.4zM38.1 146h4.9v1h-4.9zM66.6 146h5.0v1h-5.0zM71.6 146h6.0v1h-6.0zM88.6 146h7.0v1h-7.0zM106.4 146h5.2v1h-5.2zM125.5 146h5.1v1h-5.1zM130.6 146h2.7v1h-2.7zM133.3 146h5.5v1h-5.5zM171.9 146h6.5v1h-6.5zM292.7 146h3.6v1h-3.6zM114.1 147h3.8v1h-3.8zM149.1 147h6.5v1h-6.5zM310.7 147h2.4v1h-2.4zM327.2 148h6.5v1h-6.5zM341.5 148h2.3v1h-2.3zM308.7 149h2.0v1h-2.0zM310.7 149h3.9v1h-3.9zM327.5 149h3.4v1h-3.4zM336.4 149h2.9v1h-2.9zM213.1 152h5.1v1h-5.1zM250.6 152h6.2v1h-6.2zM272.2 152h3.1v1h-3.1zM256.2 153h4.1v1h-4.1zM247.2 154h6.9v1h-6.9zM285.6 154h5.7v1h-5.7zM35.4 155h5.6v1h-5.6zM52.6 155h5.6v1h-5.6zM64.0 155h4.0v1h-4.0zM73.6 155h1.6v1h-1.6zM182.5 155h3.2v1h-3.2zM193.8 155h2.9v1h-2.9zM228.5 155h3.9v1h-3.9zM42.4 156h2.7v1h-2.7zM45.1 156h4.7v1h-4.7zM66.3 156h3.0v1h-3.0zM81.0 156h5.0v1h-5.0zM115.1 156h5.3v1h-5.3zM124.8 156h2.9v1h-2.9zM135.9 156h5.9v1h-5.9zM153.7 156h3.0v1h-3.0zM177.6 156h2.8v1h-2.8zM63.6 157h3.2v1h-3.2zM80.4 157h5.0v1h-5.0zM101.8 157h6.0v1h-6.0zM119.3 157h3.0v1h-3.0zM322.5 157h1.5v1h-1.5zM324.0 157h4.8v1h-4.8zM87.3 158h1.9v1h-1.9zM107.4 158h6.0v1h-6.0zM177.6 158h3.3v1h-3.3zM335.6 158h6.1v1h-6.1zM296.5 159h5.9v1h-5.9zM274.8 163h5.5v1h-5.5zM265.9 164h3.4v1h-3.4zM290.5 165h6.1v1h-6.1zM302.3 168h3.3v1h-3.3zM315.3 168h5.6v1h-5.6zM299.4 169h4.1v1h-4.1z" fill="rgb(96,96,96)"/>
<path d="M245.8 134h6.6v1h-6.6zM271.5 134h3.2v1h-3.2zM274.7 134h1.7v1h-1.7zM232.0 135h6.1v1h-6.1zM220.7 138h4.8v1h-4.8zM322.4 138h5.3v1h-5.3zM277.0 139h3.5v1h-3.5zM215.4 140h2.8v1h-2.8zM256.1 140h1.8v1h-1.8zM275.3 140h4.3v1h-4.3zM279.7 140h4.5v1h-4.5zM292.5 142h6.7v1h-6.7zM294.7 143h3.7v1h-3.7zM335.4 143h4.4v1h-4.4zM352.0 143h1.1v1h-1.1zM234.1 144h3.1v1h-3.1zM290.9 144h5.9v1h-5.9zM312.7 144h3.6v1h-3.6zM327.4 144h4.4v1h-4.4zM241.1 145h1.6v1h-1.6zM270.8 145h2.4v1h-2.4zM276.3 145h4.0v1h-4.0zM150.2 146h3.9v1h-3.9zM178.4 146h2.0v1h-2.0zM224.9 146h4.0v1h-4.0zM228.9 146h2.0v1h-2.0zM231.0 146h2.4v1h-2.4zM233.4 146h3.9v1h-3.9zM329.7 146h4.1v1h-4.1zM81.9 147h4.8v1h-4.8zM95.2 147h6.6v1h-6.6zM109.2 147h4.9v1h-4.9zM117.9 147h6.3v1h-6.3zM134.3 147h5.2v1h-5.2zM145.0 147h4.1v1h-4.1zM162.6 147h5.8v1h-5.8zM168.4 147h2.7v1h-2.7zM288.2 147h6.2v1h-6.2zM348.7 147h4.4v1h-4.4zM207.8 148h6.7v1h-6.7zM214.5 148h4.9v1h-4.9zM219.4 148h4.3v1h-4.3zM339.7 148h1.8v1h-1.8zM204.9 149h6.7v1h-6.7zM304.6 149h4.2v1h-4.2zM213.0 150h2.8v1h-2.8zM204.2 152h2.5v1h-2.5zM188.4 153h6.1v1h-6.1zM27.8 155h5.3v1h-5.3zM33.1 155h2.2v1h-2.2zM40.9 155h6.5v1h-6.5zM47.4 155h2.5v1h-2.5zM50.0 155h2.6v1h-2.6zM58.2 155h5.7v1h-5.7zM75.2 155h3.3v1h-3.3zM136.6 155h5.7v1h-5.7zM32.0 156h6.8v1h-6.8zM59.4 156h6.9v1h-6.9zM105.7 156h2.4v1h-2.4zM108.1 156h7.0v1h-7.0zM120.4 156h4.4v1h-4.4zM133.4 156h2.5v1h-2.5zM185.6 156h3.3v1h-3.3zM97.3 157h4.5v1h-4.5zM114.7 157h4.6v1h-4.6zM298.6 157h4.5v1h-4.5zM312.0 157h5.1v1h-5.1zM328.8 157h7.0v1h-7.0zM339.1 157h4.2v1h-4.2zM305.6 168h4.5v1h-4.5zM323.3 168h2.2v1h-2.2zM327.5 168h2.6v1h-2.6zM350.4 168h2.7v1h-2.7z" fill="rgb(104,104,104)"/>
<path d="M242.0 134h3.8v1h-3.8zM255.3 134h6.7v1h-6.7zM238.1 135h6.9v1h-6.9zM275.9 135h4.6v1h-4.6zM287.7 136h6.4v1h-6.4zM292.2 137h2.7v1h-2.7zM296.8 138h4.6v1h-4.6zM308.1 138h2.8v1h-2.8zM311.0 138h5.5v1h-5.5zM316.4 138h2.1v1h-2.1zM241.8 139h4.0v1h-4.0zM280.6 139h1.5v1h-1.5zM284.2 140h4.1v1h-4.1zM288.3 140h3.1v1h-3.1zM250.8 142h6.7v1h-6.7zM276.0 142h1.8v1h-1.8zM340.2 142h4.6v1h-4.6zM237.2 143h5.3v1h-5.3zM298.4 143h6.2v1h-6.2zM306.6 143h2.7v1h-2.7zM325.3 143h3.2v1h-3.2zM328.5 143h4.9v1h-4.9zM296.8 144h5.9v1h-5.9zM335.5 144h2.9v1h-2.9zM338.4 144h4.4v1h-4.4zM342.8 144h1.8v1h-1.8zM188.7 145h4.1v1h-4.1zM242.8 145h2.3v1h-2.3zM245.0 145h4.3v1h-4.3zM283.2 145h6.8v1h-6.8zM315.1 146h4.1v1h-4.1zM352.1 146h1.0v1h-1.0zM27.8 147h4.0v1h-4.0zM31.8 147h4.1v1h-4.1zM43.1 147h2.4v1h-2.4zM47.7 147h4.2v1h-4.2zM73.2 147h2.8v1h-2.8zM86.7 147h4.6v1h-4.6zM91.2 147h4.0v1h-4.0zM101.9 147h2.5v1h-2.5zM124.2 147h3.8v1h-3.8zM142.3 147h2.7v1h-2.7zM179.7 147h6.7v1h-6.7zM213.3 147h5.6v1h-5.6zM227.2 147h3.4v1h-3.4zM308.6 147h2.1v1h-2.1zM315.5 147h3.4v1h-3.4zM326.6 147h6.8v1h-6.8zM338.9 147h4.0v1h-4.0zM344.7 147h4.0v1h-4.0zM295.8 148h3.9v1h-3.9zM298.2 149h6.3v1h-6.3zM207.4 150h5.5v1h-5.5zM209.3 151h3.0v1h-3.0zM180.3 153h2.2v1h-2.2zM122.2 154h1.9v1h-1.9zM234.0 154h5.2v1h-5.2zM78.5 155h6.4v1h-6.4zM99.5 155h1.6v1h-1.6zM131.3 155h5.3v1h-5.3zM142.3 155h6.9v1h-6.9zM149.2 155h6.4v1h-6.4zM27.8 156h4.2v1h-4.2zM38.8 156h3.6v1h-3.6zM56.3 156h3.2v1h-3.2zM74.9 156h6.1v1h-6.1zM91.9 156h6.0v1h-6.0zM127.8 156h5.7v1h-5.7zM147.9 156h5.7v1h-5.7zM159.0 156h3.5v1h-3.5zM175.1 156h2.5v1h-2.5zM317.1 157h5.4v1h-5.4zM241.7 165h2.0v1h-2.0zM278.9 165h6.8v1h-6.8z" fill="rgb(112,112,112)"/>
<path d="M252.4 134h2.8v1h-2.8zM265.1 134h6.4v1h-6.4zM235.5 136h5.7v1h-5.7zM340.5 138h3.9v1h-3.9zM350.3 138h1.8v1h-1.8zM352.1 138h1.0v1h-1.0zM238.8 139h3.0v1h-3.0zM330.5 139h4.4v1h-4.4zM213.9 142h4.1v1h-4.1zM257.6 142h4.3v1h-4.3zM264.5 142h5.8v1h-5.8zM273.6 142h2.4v1h-2.4zM327.3 142h6.9v1h-6.9zM334.2 142h5.9v1h-5.9zM207.8 143h3.8v1h-3.8zM245.5 143h4.8v1h-4.8zM265.4 143h2.7v1h-2.7zM304.6 143h1.9v1h-1.9zM309.3 143h7.0v1h-7.0zM198.7 144h2.6v1h-2.6zM331.8 144h3.6v1h-3.6zM192.8 145h2.9v1h-2.9zM195.8 145h5.8v1h-5.8zM233.6 145h3.9v1h-3.9zM280.3 145h2.9v1h-2.9zM290.0 145h3.3v1h-3.3zM340.5 145h2.9v1h-2.9zM343.4 145h6.9v1h-6.9zM350.2 145h2.9v1h-2.9zM180.4 146h6.3v1h-6.3zM222.4 146h2.5v1h-2.5zM301.7 146h6.6v1h-6.6zM308.3 146h6.8v1h-6.8zM319.2 146h2.4v1h-2.4zM321.5 146h3.0v1h-3.0zM324.5 146h5.2v1h-5.2zM335.8 146h3.4v1h-3.4zM339.2 146h4.5v1h-4.5zM348.4 146h3.7v1h-3.7zM51.9 147h2.0v1h-2.0zM318.9 147h3.0v1h-3.0zM321.9 147h4.7v1h-4.7zM342.9 147h1.8v1h-1.8zM126.7 148h4.6v1h-4.6zM167.0 148h6.4v1h-6.4zM175.6 148h5.0v1h-5.0zM306.5 148h3.1v1h-3.1zM321.3 148h3.9v1h-3.9zM333.7 148h6.0v1h-6.0zM211.6 149h4.9v1h-4.9zM192.5 151h5.5v1h-5.5zM198.5 152h5.7v1h-5.7zM27.8 154h1.6v1h-1.6zM29.4 154h6.9v1h-6.9zM54.3 154h2.5v1h-2.5zM65.4 154h4.3v1h-4.3zM103.1 154h1.6v1h-1.6zM108.0 154h4.6v1h-4.6zM128.5 154h3.0v1h-3.0zM135.6 154h5.6v1h-5.6zM143.7 154h1.6v1h-1.6zM182.2 154h3.2v1h-3.2zM185.4 154h3.8v1h-3.8zM68.0 155h4.0v1h-4.0zM71.9 155h1.6v1h-1.6zM84.8 155h6.9v1h-6.9zM91.7 155h5.2v1h-5.2zM101.1 155h5.5v1h-5.5zM112.7 155h4.8v1h-4.8zM117.5 155h3.2v1h-3.2zM97.9 156h2.7v1h-2.7zM100.6 156h5.2v1h-5.2zM156.7 156h2.3v1h-2.3zM162.6 156h6.3v1h-6.3z" fill="rgb(120,120,120)"/>
<path d="M262.0 134h3.1v1h-3.1zM257.2 135h3.3v1h-3.3zM230.8 136h4.7v1h-4.7zM279.4 136h5.4v1h-5.4zM284.7 136h2.9v1h-2.9zM227.8 137h6.1v1h-6.1zM225.5 138h5.5v1h-5.5zM266.3 138h5.1v1h-5.1zM271.4 138h4.8v1h-4.8zM333.6 138h6.9v1h-6.9zM344.4 138h5.9v1h-5.9zM282.1 139h6.0v1h-6.0zM299.7 139h6.4v1h-6.4zM291.4 140h3.6v1h-3.6zM227.1 141h4.1v1h-4.1zM294.1 141h5.4v1h-5.4zM224.4 142h2.2v1h-2.2zM261.8 142h2.7v1h-2.7zM270.3 142h3.3v1h-3.3zM344.8 142h3.7v1h-3.7zM211.6 143h5.5v1h-5.5zM257.6 143h4.2v1h-4.2zM261.8 143h3.5v1h-3.5zM268.1 143h6.0v1h-6.0zM237.2 144h3.7v1h-3.7zM260.4 144h5.2v1h-5.2zM274.4 144h6.7v1h-6.7zM343.7 146h4.7v1h-4.7zM59.4 147h4.1v1h-4.1zM63.4 147h1.9v1h-1.9zM65.3 147h4.3v1h-4.3zM69.6 147h3.6v1h-3.6zM76.0 147h6.0v1h-6.0zM210.3 147h3.0v1h-3.0zM294.3 147h2.9v1h-2.9zM297.2 147h5.5v1h-5.5zM333.4 147h5.5v1h-5.5zM29.9 148h5.1v1h-5.1zM46.4 148h6.2v1h-6.2zM76.1 148h1.7v1h-1.7zM77.8 148h1.6v1h-1.6zM92.6 148h5.4v1h-5.4zM131.3 148h2.2v1h-2.2zM133.6 148h2.8v1h-2.8zM136.3 148h2.6v1h-2.6zM139.0 148h4.9v1h-4.9zM143.9 148h1.8v1h-1.8zM145.7 148h4.8v1h-4.8zM150.5 148h5.8v1h-5.8zM317.5 148h3.8v1h-3.8zM325.2 148h2.0v1h-2.0zM204.9 150h2.5v1h-2.5zM215.7 150h5.9v1h-5.9zM165.1 153h5.8v1h-5.8zM178.4 153h1.9v1h-1.9zM42.4 154h4.9v1h-4.9zM47.3 154h6.9v1h-6.9zM56.7 154h3.2v1h-3.2zM60.0 154h2.7v1h-2.7zM69.7 154h2.2v1h-2.2zM98.7 154h4.5v1h-4.5zM131.5 154h4.1v1h-4.1zM141.1 154h2.6v1h-2.6zM170.9 154h3.1v1h-3.1zM176.1 154h6.1v1h-6.1zM97.0 155h2.5v1h-2.5zM124.7 155h2.7v1h-2.7zM127.4 155h3.9v1h-3.9zM155.6 155h6.2v1h-6.2zM164.8 155h3.5v1h-3.5zM168.3 155h2.7v1h-2.7zM171.0 155h5.7v1h-5.7zM176.7 155h5.8v1h-5.8zM168.9 156h6.2v1h-6.2z" fill="rgb(128,128,128)"/>
<path d="M245.0 135h6.9v1h-6.9zM255.4 135h1.8v1h-1.8zM270.6 135h5.3v1h-5.3zM275.3 136h4.1v1h-4.1zM256.3 137h5.3v1h-5.3zM261.6 137h5.0v1h-5.0zM241.4 138h4.2v1h-4.2zM245.6 138h2.7v1h-2.7zM252.8 138h5.5v1h-5.5zM263.4 138h2.9v1h-2.9zM293.7 138h3.1v1h-3.1zM296.6 139h3.1v1h-3.1zM306.1 139h3.0v1h-3.0zM317.3 139h6.6v1h-6.6zM351.7 139h1.4v1h-1.4zM218.2 140h3.1v1h-3.1zM299.7 140h4.3v1h-4.3zM304.1 140h6.8v1h-6.8zM317.4 140h1.8v1h-1.8zM216.5 141h3.9v1h-3.9zM223.2 141h3.9v1h-3.9zM303.6 141h2.5v1h-2.5zM306.1 141h6.9v1h-6.9zM318.1 141h1.8v1h-1.8zM299.2 142h4.6v1h-4.6zM303.8 142h2.1v1h-2.1zM311.3 142h6.1v1h-6.1zM322.7 142h4.6v1h-4.6zM348.5 142h4.6v1h-4.6zM235.6 143h1.6v1h-1.6zM277.2 143h4.4v1h-4.4zM201.2 144h5.1v1h-5.1zM281.1 144h4.6v1h-4.6zM285.7 144h5.1v1h-5.1zM190.9 146h6.1v1h-6.1zM333.8 146h2.0v1h-2.0zM35.9 147h4.3v1h-4.3zM40.2 147h2.8v1h-2.8zM45.5 147h2.2v1h-2.2zM53.9 147h5.5v1h-5.5zM208.0 147h2.3v1h-2.3zM224.4 147h2.8v1h-2.8zM313.1 147h2.3v1h-2.3zM39.5 148h1.6v1h-1.6zM41.1 148h5.3v1h-5.3zM52.6 148h1.9v1h-1.9zM74.2 148h1.9v1h-1.9zM86.3 148h4.4v1h-4.4zM102.0 148h3.1v1h-3.1zM105.1 148h4.4v1h-4.4zM121.1 148h3.8v1h-3.8zM124.9 148h1.9v1h-1.9zM162.0 148h5.0v1h-5.0zM173.4 148h2.2v1h-2.2zM180.6 148h1.8v1h-1.8zM299.6 148h6.9v1h-6.9zM309.6 148h3.4v1h-3.4zM313.1 148h4.4v1h-4.4zM216.5 149h3.1v1h-3.1zM201.7 150h3.2v1h-3.2zM27.8 153h2.0v1h-2.0zM51.3 153h5.2v1h-5.2zM70.1 153h2.7v1h-2.7zM78.2 153h5.5v1h-5.5zM83.7 153h3.1v1h-3.1zM113.6 153h5.1v1h-5.1zM135.0 153h6.7v1h-6.7zM155.5 153h3.3v1h-3.3zM170.9 153h4.0v1h-4.0zM186.8 153h1.7v1h-1.7zM62.7 154h2.8v1h-2.8zM71.9 154h5.3v1h-5.3zM96.4 154h2.3v1h-2.3zM104.8 154h3.2v1h-3.2zM118.3 154h4.0v1h-4.0zM124.1 154h4.3v1h-4.3zM147.5 154h6.3v1h-6.3zM106.6 155h6.1v1h-6.1zM120.7 155h4.0v1h-4.0zM161.8 155h3.0v1h-3.0z" fill="rgb(136,136,136)"/>
<path d="M251.9 135h1.9v1h-1.9zM253.8 135h1.6v1h-1.6zM264.4 135h6.2v1h-6.2zM241.2 136h3.2v1h-3.2zM244.4 136h5.6v1h-5.6zM255.9 136h2.8v1h-2.8zM258.7 136h6.8v1h-6.8zM265.5 136h6.6v1h-6.6zM238.9 137h1.8v1h-1.8zM240.7 137h6.2v1h-6.2zM249.9 137h6.4v1h-6.4zM271.5 137h2.5v1h-2.5zM282.4 137h4.0v1h-4.0zM231.0 138h5.6v1h-5.6zM248.3 138h4.5v1h-4.5zM258.3 138h5.1v1h-5.1zM220.3 139h6.0v1h-6.0zM234.1 139h4.6v1h-4.6zM309.1 139h2.8v1h-2.8zM324.0 139h6.6v1h-6.6zM338.3 139h2.5v1h-2.5zM347.3 139h4.4v1h-4.4zM226.4 140h5.5v1h-5.5zM295.0 140h1.9v1h-1.9zM319.2 140h5.3v1h-5.3zM324.5 140h3.0v1h-3.0zM327.5 140h4.9v1h-4.9zM337.6 140h2.8v1h-2.8zM340.4 140h2.3v1h-2.3zM299.4 141h4.2v1h-4.2zM349.0 141h4.1v1h-4.1zM218.0 142h6.4v1h-6.4zM308.7 142h2.6v1h-2.6zM317.4 142h5.4v1h-5.4zM217.1 143h3.3v1h-3.3zM242.5 143h2.9v1h-2.9zM254.0 143h3.7v1h-3.7zM274.1 143h3.1v1h-3.1zM206.3 144h4.7v1h-4.7zM229.5 145h4.1v1h-4.1zM186.7 146h4.2v1h-4.2zM197.0 146h6.3v1h-6.3zM214.7 146h3.5v1h-3.5zM65.0 148h2.9v1h-2.9zM67.9 148h6.3v1h-6.3zM79.4 148h2.5v1h-2.5zM81.9 148h4.4v1h-4.4zM90.7 148h1.9v1h-1.9zM98.0 148h4.0v1h-4.0zM116.5 148h4.6v1h-4.6zM156.3 148h5.7v1h-5.7zM204.8 148h3.0v1h-3.0zM39.7 149h6.6v1h-6.6zM61.4 149h5.9v1h-5.9zM93.5 149h4.5v1h-4.5zM125.7 149h4.3v1h-4.3zM133.4 149h4.2v1h-4.2zM137.6 149h2.3v1h-2.3zM144.6 149h4.8v1h-4.8zM164.2 149h3.2v1h-3.2zM176.7 149h3.9v1h-3.9zM188.7 151h3.8v1h-3.8zM198.0 151h6.9v1h-6.9zM105.0 152h3.2v1h-3.2zM180.3 152h3.6v1h-3.6zM192.1 152h6.4v1h-6.4zM29.8 153h2.4v1h-2.4zM32.2 153h6.5v1h-6.5zM72.8 153h1.6v1h-1.6zM96.6 153h4.6v1h-4.6zM105.1 153h4.8v1h-4.8zM123.8 153h6.8v1h-6.8zM130.6 153h4.4v1h-4.4zM148.5 153h1.6v1h-1.6zM158.7 153h2.9v1h-2.9zM161.6 153h3.5v1h-3.5zM174.9 153h3.6v1h-3.6zM182.5 153h4.2v1h-4.2zM36.3 154h1.7v1h-1.7zM77.2 154h6.7v1h-6.7zM83.9 154h4.5v1h-4.5zM88.5 154h1.9v1h-1.9zM112.6 154h5.6v1h-5.6zM174.0 154h2.1v1h-2.1z" fill="rgb(144,144,144)"/>
<path d="M260.5 135h3.9v1h-3.9zM250.1 136h3.3v1h-3.3zM253.3 136h2.6v1h-2.6zM272.1 136h3.1v1h-3.1zM246.9 137h3.0v1h-3.0zM266.6 137h5.0v1h-5.0zM278.2 137h4.3v1h-4.3zM286.4 137h5.8v1h-5.8zM276.2 138h5.9v1h-5.9zM284.8 138h4.6v1h-4.6zM290.9 138h2.8v1h-2.8zM288.1 139h1.6v1h-1.6zM311.9 139h5.4v1h-5.4zM340.8 139h6.5v1h-6.5zM296.9 140h2.9v1h-2.9zM310.9 140h6.6v1h-6.6zM332.4 140h2.7v1h-2.7zM342.7 140h6.0v1h-6.0zM348.7 140h4.4v1h-4.4zM353.1 140h0.0v1h-0.0zM313.0 141h5.1v1h-5.1zM319.9 141h5.1v1h-5.1zM305.9 142h2.8v1h-2.8zM250.2 143h3.7v1h-3.7zM211.0 144h1.9v1h-1.9zM213.0 144h6.6v1h-6.6zM201.6 145h3.4v1h-3.4zM209.0 145h4.1v1h-4.1zM186.4 147h6.5v1h-6.5zM192.9 147h3.3v1h-3.3zM35.0 148h4.6v1h-4.6zM109.5 148h7.0v1h-7.0zM27.8 149h6.1v1h-6.1zM33.9 149h5.8v1h-5.8zM46.2 149h3.2v1h-3.2zM49.4 149h5.3v1h-5.3zM67.3 149h4.0v1h-4.0zM74.8 149h2.9v1h-2.9zM98.0 149h3.6v1h-3.6zM101.6 149h2.6v1h-2.6zM104.2 149h2.4v1h-2.4zM112.6 149h5.0v1h-5.0zM121.2 149h2.8v1h-2.8zM158.3 149h5.9v1h-5.9zM167.4 149h7.0v1h-7.0zM182.1 149h3.5v1h-3.5zM201.9 149h3.0v1h-3.0zM79.6 150h3.2v1h-3.2zM108.5 150h6.1v1h-6.1zM119.9 150h3.6v1h-3.6zM126.3 150h3.8v1h-3.8zM130.1 150h5.1v1h-5.1zM198.2 150h3.5v1h-3.5zM27.8 152h1.0v1h-1.0zM41.6 152h3.8v1h-3.8zM52.0 152h6.2v1h-6.2zM58.2 152h1.8v1h-1.8zM60.0 152h2.5v1h-2.5zM65.1 152h2.4v1h-2.4zM67.6 152h2.0v1h-2.0zM75.2 152h4.4v1h-4.4zM79.6 152h5.8v1h-5.8zM87.6 152h3.7v1h-3.7zM91.3 152h4.8v1h-4.8zM96.2 152h5.2v1h-5.2zM108.1 152h2.0v1h-2.0zM110.2 152h5.0v1h-5.0zM115.2 152h3.5v1h-3.5zM132.2 152h4.7v1h-4.7zM149.4 152h5.0v1h-5.0zM160.7 152h3.1v1h-3.1zM166.8 152h6.1v1h-6.1zM172.9 152h2.4v1h-2.4zM175.3 152h3.2v1h-3.2zM178.6 152h1.8v1h-1.8zM183.9 152h3.4v1h-3.4zM187.3 152h4.8v1h-4.8zM38.7 153h6.2v1h-6.2zM44.9 153h6.3v1h-6.3zM56.5 153h5.6v1h-5.6zM62.1 153h1.6v1h-1.6zM63.7 153h6.4v1h-6.4zM92.7 153h4.0v1h-4.0zM101.2 153h3.9v1h-3.9zM109.9 153h3.7v1h-3.7zM141.8 153h2.4v1h-2.4zM150.1 153h5.4v1h-5.4zM38.0 154h4.4v1h-4.4zM145.3 154h2.2v1h-2.2zM153.8 154h5.4v1h-5.4z" fill="rgb(152,152,152)"/>
<path d="M233.9 137h5.0v1h-5.0zM274.0 137h4.2v1h-4.2zM236.6 138h4.9v1h-4.9zM289.4 138h1.5v1h-1.5zM228.8 139h5.3v1h-5.3zM289.7 139h6.9v1h-6.9zM335.0 139h3.3v1h-3.3zM221.3 140h5.1v1h-5.1zM335.1 140h2.5v1h-2.5zM328.6 141h3.5v1h-3.5zM338.4 141h5.5v1h-5.5zM213.1 145h4.6v1h-4.6zM209.3 146h5.4v1h-5.4zM196.2 147h5.5v1h-5.5zM302.7 147h5.9v1h-5.9zM27.8 148h2.1v1h-2.1zM54.4 148h5.9v1h-5.9zM60.3 148h4.6v1h-4.6zM182.4 148h1.6v1h-1.6zM199.7 148h5.1v1h-5.1zM54.7 149h6.7v1h-6.7zM77.8 149h2.1v1h-2.1zM79.9 149h2.2v1h-2.2zM82.1 149h4.9v1h-4.9zM87.0 149h6.5v1h-6.5zM117.6 149h3.6v1h-3.6zM130.0 149h3.4v1h-3.4zM139.9 149h1.6v1h-1.6zM141.5 149h3.1v1h-3.1zM156.0 149h2.3v1h-2.3zM91.8 150h4.6v1h-4.6zM96.4 150h5.3v1h-5.3zM114.6 150h3.6v1h-3.6zM154.8 150h5.6v1h-5.6zM160.4 150h4.4v1h-4.4zM164.8 150h6.9v1h-6.9zM171.7 150h6.7v1h-6.7zM176.8 151h6.4v1h-6.4zM183.3 151h5.4v1h-5.4zM28.8 152h6.6v1h-6.6zM35.4 152h4.0v1h-4.0zM39.4 152h2.2v1h-2.2zM49.2 152h2.8v1h-2.8zM101.3 152h3.6v1h-3.6zM136.9 152h2.5v1h-2.5zM139.4 152h5.3v1h-5.3zM144.6 152h4.8v1h-4.8zM156.1 152h4.7v1h-4.7zM163.9 152h2.9v1h-2.9zM118.7 153h5.2v1h-5.2zM144.1 153h4.3v1h-4.3zM90.4 154h2.1v1h-2.1zM92.4 154h4.0v1h-4.0zM159.2 154h6.5v1h-6.5zM165.8 154h5.2v1h-5.2z" fill="rgb(160,160,160)"/>
<path d="M226.3 139h2.6v1h-2.6zM220.4 141h2.8v1h-2.8zM324.9 141h3.7v1h-3.7zM332.1 141h6.3v1h-6.3zM343.9 141h5.1v1h-5.1zM201.7 147h6.3v1h-6.3zM184.0 148h6.8v1h-6.8zM190.8 148h2.8v1h-2.8zM193.6 148h6.1v1h-6.1zM71.2 149h3.6v1h-3.6zM106.6 149h6.0v1h-6.0zM124.0 149h1.7v1h-1.7zM149.4 149h6.6v1h-6.6zM174.3 149h2.4v1h-2.4zM180.6 149h1.5v1h-1.5zM191.9 149h2.5v1h-2.5zM198.5 149h3.4v1h-3.4zM29.1 150h3.5v1h-3.5zM53.1 150h1.9v1h-1.9zM55.0 150h5.8v1h-5.8zM74.9 150h4.7v1h-4.7zM82.8 150h3.2v1h-3.2zM86.0 150h5.8v1h-5.8zM118.2 150h1.7v1h-1.7zM123.5 150h2.8v1h-2.8zM135.1 150h2.2v1h-2.2zM184.9 150h2.8v1h-2.8zM194.3 150h3.8v1h-3.8zM65.8 151h3.8v1h-3.8zM134.1 151h2.4v1h-2.4zM136.5 151h2.2v1h-2.2zM151.9 151h3.8v1h-3.8zM161.2 151h4.8v1h-4.8zM169.0 151h1.9v1h-1.9zM170.9 151h5.9v1h-5.9zM45.4 152h3.8v1h-3.8zM62.5 152h2.7v1h-2.7zM69.5 152h3.9v1h-3.9zM73.5 152h1.8v1h-1.8zM120.4 152h4.4v1h-4.4zM124.8 152h4.1v1h-4.1zM128.9 152h3.3v1h-3.3zM74.5 153h3.7v1h-3.7zM86.7 153h5.9v1h-5.9z" fill="rgb(168,168,168)"/>
<path d="M282.0 138h2.8v1h-2.8zM205.0 145h4.0v1h-4.0zM203.3 146h6.0v1h-6.0zM185.6 149h6.3v1h-6.3zM197.0 149h1.5v1h-1.5zM32.6 150h4.8v1h-4.8zM37.4 150h6.4v1h-6.4zM46.6 150h6.5v1h-6.5zM60.7 150h2.7v1h-2.7zM63.4 150h4.8v1h-4.8zM68.3 150h6.6v1h-6.6zM101.7 150h6.8v1h-6.8zM137.3 150h2.6v1h-2.6zM144.8 150h5.5v1h-5.5zM150.4 150h2.8v1h-2.8zM153.1 150h1.7v1h-1.7zM178.4 150h6.6v1h-6.6zM187.7 150h6.6v1h-6.6zM30.7 151h3.1v1h-3.1zM36.9 151h6.9v1h-6.9zM55.5 151h4.1v1h-4.1zM88.7 151h5.8v1h-5.8zM94.6 151h6.3v1h-6.3zM107.8 151h6.8v1h-6.8zM114.6 151h6.2v1h-6.2zM142.6 151h5.9v1h-5.9zM148.5 151h3.4v1h-3.4zM85.4 152h2.2v1h-2.2zM118.8 152h1.6v1h-1.6zM154.5 152h1.6v1h-1.6z" fill="rgb(176,176,176)"/>
<path d="M194.4 149h2.5v1h-2.5zM27.8 150h1.3v1h-1.3zM43.8 150h2.8v1h-2.8zM139.9 150h4.9v1h-4.9zM127.3 151h6.8v1h-6.8zM138.6 151h4.0v1h-4.0zM155.7 151h3.4v1h-3.4zM159.1 151h2.1v1h-2.1zM165.9 151h3.1v1h-3.1z" fill="rgb(184,184,184)"/>
<path d="M27.8 151h0.7v1h-0.7zM43.8 151h2.7v1h-2.7zM46.5 151h2.2v1h-2.2zM48.7 151h3.7v1h-3.7zM59.6 151h6.2v1h-6.2zM71.4 151h3.8v1h-3.8zM82.1 151h6.6v1h-6.6zM120.7 151h2.3v1h-2.3z" fill="rgb(192,192,192)"/>
<path d="M28.5 151h2.2v1h-2.2zM33.8 151h3.0v1h-3.0zM52.4 151h3.1v1h-3.1zM69.6 151h1.9v1h-1.9zM123.0 151h4.2v1h-4.2z" fill="rgb(200,200,200)"/>
<path d="M75.2 151h6.9v1h-6.9zM100.9 151h6.9v1h-6.9z" fill="rgb(208,208,208)"/>
</g>
<rect x="66.7" y="97.6" width="35.2" height="85.70000000000002" fill="#c6dfb2" opacity="0.5"/>
<rect x="66.7" y="97.6" width="0.7" height="85.70000000000002" fill="#d8ecc8" opacity="0.35"/>
<rect x="101.2" y="97.6" width="0.7" height="85.70000000000002" fill="#d8ecc8" opacity="0.35"/>
<rect x="143.2" y="97.6" width="35.5" height="85.70000000000002" fill="#c6dfb2" opacity="0.5"/>
<rect x="143.2" y="97.6" width="0.7" height="85.70000000000002" fill="#d8ecc8" opacity="0.35"/>
<rect x="178.0" y="97.6" width="0.7" height="85.70000000000002" fill="#d8ecc8" opacity="0.35"/>
<rect x="213.9" y="97.6" width="35.400000000000006" height="85.70000000000002" fill="#c6dfb2" opacity="0.5"/>
<rect x="213.9" y="97.6" width="0.7" height="85.70000000000002" fill="#d8ecc8" opacity="0.35"/>
<rect x="248.60000000000002" y="97.6" width="0.7" height="85.70000000000002" fill="#d8ecc8" opacity="0.35"/>
<rect x="290.7" y="97.6" width="34.30000000000001" height="85.70000000000002" fill="#c6dfb2" opacity="0.5"/>
<rect x="290.7" y="97.6" width="0.7" height="85.70000000000002" fill="#d8ecc8" opacity="0.35"/>
<rect x="324.3" y="97.6" width="0.7" height="85.70000000000002" fill="#d8ecc8" opacity="0.35"/>
<rect x="357.4" y="97.5" width="7.9" height="86.3" fill="url(#cbar)" stroke="#777" stroke-width="0.4"/>
<text x="367.2" y="100.2" font-size="4.5" fill="#333">0</text>
<text x="367.2" y="114.5" font-size="4.5" fill="#333">-10</text>
<text x="367.2" y="128.8" font-size="4.5" fill="#333">-20</text>
<text x="367.2" y="143.1" font-size="4.5" fill="#333">-30</text>
<text x="367.2" y="157.4" font-size="4.5" fill="#333">-40</text>
<text x="367.2" y="171.7" font-size="4.5" fill="#333">-50</text>
<text x="367.2" y="186.0" font-size="4.5" fill="#333">-60</text>
<text x="25.5" y="111.7" font-size="4.8" text-anchor="end" fill="#333">10</text>
<text x="25.5" y="123.9" font-size="4.8" text-anchor="end" fill="#333">20</text>
<text x="25.5" y="136.1" font-size="4.8" text-anchor="end" fill="#333">30</text>
<text x="25.5" y="148.3" font-size="4.8" text-anchor="end" fill="#333">20</text>
<text x="25.5" y="160.5" font-size="4.8" text-anchor="end" fill="#333">25</text>
<text x="25.5" y="172.7" font-size="4.8" text-anchor="end" fill="#333">30</text>
<text x="25.5" y="184.9" font-size="4.8" text-anchor="end" fill="#333">35</text>
<text transform="translate(18.3,140.5) rotate(-90)" font-size="5.2" text-anchor="middle" fill="#222">Depth (mm)</text>
<polygon points="66.7,183.3 101.9,183.3 108.0,197.6 27.3,197.6" fill="#d5e8c8"/>
<polygon points="143.2,183.3 178.7,183.3 193.5,197.6 118.5,197.6" fill="#d5e8c8"/>
<polygon points="213.9,183.3 249.3,183.3 275.0,197.6 201.5,197.6" fill="#d5e8c8"/>
<polygon points="290.7,183.3 325.0,183.3 362.0,197.6 283.5,197.6" fill="#d5e8c8"/>
<text x="85.4" y="191.2" font-size="4.8" text-anchor="middle" fill="#333">100</text>
<text x="143.2" y="191.2" font-size="4.8" text-anchor="middle" fill="#333">200</text>
<text x="201.0" y="191.2" font-size="4.8" text-anchor="middle" fill="#333">300</text>
<text x="258.8" y="191.2" font-size="4.8" text-anchor="middle" fill="#333">400</text>
<text x="316.6" y="191.2" font-size="4.8" text-anchor="middle" fill="#333">500</text>
<text x="191" y="197.3" font-size="5.2" text-anchor="middle" fill="#333">Time (ms)</text>
<text x="1.2" y="194.2" font-size="10" font-weight="bold" textLength="12.8" lengthAdjust="spacingAndGlyphs" fill="#1a1a1a">(C)</text>
<rect x="22.8" y="199.4" width="348.0" height="169.49999999999997" fill="#000"/>
<defs>
<filter id="speck" x="0" y="0" width="100%" height="100%">
<feTurbulence type="fractalNoise" baseFrequency="1.1" numOctaves="1" seed="9" result="n"/>
<feColorMatrix in="n" type="matrix" values="0 0 0 0 1  0 0 0 0 1  0 0 0 0 1  0 0 0 2.2 -0.75" result="w"/>
<feComposite in="w" in2="SourceGraphic" operator="in"/>
</filter>
<filter id="speck2" x="0" y="0" width="100%" height="100%" color-interpolation-filters="sRGB">
<feTurbulence type="fractalNoise" baseFrequency="0.7" numOctaves="2" seed="11" result="n"/>
<feColorMatrix in="n" type="matrix" values="0 0 0 0 1  0 0 0 0 1  0 0 0 0 1  0 0 0 2.6 -0.95" result="w"/>
<feComposite in="w" in2="SourceGraphic" operator="arithmetic" k1="1" result="m"/>
<feColorMatrix in="m" type="matrix" values="1.5 0 0 0 0  0 1.5 0 0 0  0 0 1.5 0 0  0 0 0 1 0"/>
<feGaussianBlur stdDeviation="0.4"/>
</filter>
<radialGradient id="cg" cx="0.5" cy="0.5" r="0.5"><stop offset="0" stop-color="#8a8a8a"/><stop offset="0.6" stop-color="#5a5a5a"/><stop offset="1" stop-color="#000" stop-opacity="0"/></radialGradient>
</defs>
<defs>
<linearGradient id="vig" x1="0" y1="0" x2="1" y2="0"><stop offset="0" stop-color="#000" stop-opacity="0.55"/><stop offset="0.3" stop-color="#000" stop-opacity="0.1"/><stop offset="0.55" stop-color="#000" stop-opacity="0"/><stop offset="0.8" stop-color="#000" stop-opacity="0.15"/><stop offset="1" stop-color="#000" stop-opacity="0.55"/></linearGradient>
<linearGradient id="cga" x1="0" y1="0" x2="0" y2="1"><stop offset="0" stop-color="#777" stop-opacity="0"/><stop offset="0.06" stop-color="#888" stop-opacity="0.9"/><stop offset="0.3" stop-color="#666"/><stop offset="0.7" stop-color="#3c3c3c"/><stop offset="1" stop-color="#222"/></linearGradient>
<linearGradient id="cgb" x1="0" y1="0" x2="0" y2="1"><stop offset="0" stop-color="#4a4a4a" stop-opacity="0"/><stop offset="0.08" stop-color="#4a4a4a" stop-opacity="0.9"/><stop offset="0.3" stop-color="#383838"/><stop offset="1" stop-color="#1a1a1a"/></linearGradient>
<linearGradient id="cgc" x1="0" y1="0" x2="0" y2="1"><stop offset="0" stop-color="#888" stop-opacity="0"/><stop offset="0.05" stop-color="#8c8c8c" stop-opacity="0.95"/><stop offset="0.14" stop-color="#666"/><stop offset="0.4" stop-color="#363636"/><stop offset="1" stop-color="#1a1a1a"/></linearGradient>
<linearGradient id="cgd" x1="0" y1="0" x2="0" y2="1"><stop offset="0" stop-color="#999" stop-opacity="0"/><stop offset="0.05" stop-color="#959595" stop-opacity="0.95"/><stop offset="0.16" stop-color="#6a6a6a"/><stop offset="0.45" stop-color="#3a3a3a"/><stop offset="1" stop-color="#1c1c1c"/></linearGradient>
</defs>
<polygon points="43.4,266.0 55.6,259.0 91.3,261.0 90.2,336.4 56.5,346.1 44.7,335.5" fill="url(#cga)" filter="url(#b2)"/>
<polygon points="43.4,266.0 55.6,259.0 91.3,261.0 90.2,336.4 56.5,346.1 44.7,335.5" fill="url(#cga)" opacity="0.5" filter="url(#speck2)"/>
<polygon points="43.4,266.0 55.6,259.0 91.3,261.0 90.2,336.4 56.5,346.1 44.7,335.5" fill="url(#vig)"/>
<polygon points="125.6,268.0 137.8,263.0 173.5,265.0 172.4,336.4 138.7,346.1 126.9,335.5" fill="url(#cgb)" filter="url(#b2)"/>
<polygon points="125.6,268.0 137.8,263.0 173.5,265.0 172.4,336.4 138.7,346.1 126.9,335.5" fill="url(#cgb)" opacity="0.5" filter="url(#speck2)"/>
<polygon points="125.6,268.0 137.8,263.0 173.5,265.0 172.4,336.4 138.7,346.1 126.9,335.5" fill="url(#vig)"/>
<polygon points="215.9,256.0 228.1,250.0 263.8,252.0 262.7,336.4 229.0,346.1 217.2,335.5" fill="url(#cgc)" filter="url(#b2)"/>
<polygon points="215.9,256.0 228.1,250.0 263.8,252.0 262.7,336.4 229.0,346.1 217.2,335.5" fill="url(#cgc)" opacity="0.5" filter="url(#speck2)"/>
<polygon points="215.9,256.0 228.1,250.0 263.8,252.0 262.7,336.4 229.0,346.1 217.2,335.5" fill="url(#vig)"/>
<polygon points="306.4,256.0 318.6,249.0 354.3,252.0 353.2,336.4 319.5,346.1 307.7,335.5" fill="url(#cgd)" filter="url(#b2)"/>
<polygon points="306.4,256.0 318.6,249.0 354.3,252.0 353.2,336.4 319.5,346.1 307.7,335.5" fill="url(#cgd)" opacity="0.5" filter="url(#speck2)"/>
<polygon points="306.4,256.0 318.6,249.0 354.3,252.0 353.2,336.4 319.5,346.1 307.7,335.5" fill="url(#vig)"/>
<defs><filter id="rough" x="-10%" y="-10%" width="120%" height="120%">
<feTurbulence type="fractalNoise" baseFrequency="0.3" numOctaves="2" seed="5" result="t"/>
<feDisplacementMap in="SourceGraphic" in2="t" scale="1.2" xChannelSelector="R" yChannelSelector="G"/>
</filter>
<filter id="mottle" x="-30%" y="-30%" width="160%" height="160%" color-interpolation-filters="sRGB">
<feGaussianBlur in="SourceGraphic" stdDeviation="2" result="bl"/>
<feTurbulence type="fractalNoise" baseFrequency="0.4" numOctaves="2" seed="21" result="n"/>
<feColorMatrix in="n" type="matrix" values="0 0 0 0 1  0 0 0 0 1  0 0 0 0 1  0 0 0 2.4 -0.3" result="w"/>
<feComposite in="bl" in2="w" operator="in"/>
</filter></defs>
<ellipse cx="141.1" cy="242.8" rx="1.6" ry="3.4" transform="rotate(15 141.1 242.8)" fill="#ff6418" opacity="1" filter="url(#b05)"/>
<ellipse cx="143.4" cy="251.6" rx="1.6" ry="3.6" transform="rotate(-12 143.4 251.6)" fill="#ff6418" opacity="1" filter="url(#b05)"/>
<ellipse cx="149.5" cy="259.6" rx="1.6" ry="3.7" transform="rotate(-5 149.5 259.6)" fill="#ff6418" opacity="1" filter="url(#b05)"/>
<ellipse cx="141.1" cy="242.8" rx="0.7" ry="2" transform="rotate(15 141.1 242.8)" fill="#ff9a38" opacity="1" filter="url(#b05)"/>
<ellipse cx="143.4" cy="251.6" rx="0.7" ry="2" transform="rotate(-12 143.4 251.6)" fill="#ff9a38" opacity="1" filter="url(#b05)"/>
<ellipse cx="149.5" cy="259.6" rx="0.7" ry="2" transform="rotate(-5 149.5 259.6)" fill="#ff9a38" opacity="1" filter="url(#b05)"/>
<ellipse cx="165.6" cy="236.5" rx="1" ry="2.5" transform="rotate(25 165.6 236.5)" fill="#c82a0a" opacity="0.8" filter="url(#b05)"/>
<path d="M313,220.6 L318,229.5" fill="none" stroke="#b02010" stroke-width="1.6" stroke-linecap="round" stroke-linejoin="round" opacity="0.55" filter="url(#b05)"/>
<path d="M310.5,230 L315.5,237.5" fill="none" stroke="#b02010" stroke-width="1.8" stroke-linecap="round" stroke-linejoin="round" opacity="0.5" filter="url(#b05)"/>
<path d="M327,223 L331,228" fill="none" stroke="#a01c0c" stroke-width="1.4" stroke-linecap="round" stroke-linejoin="round" opacity="0.45" filter="url(#b05)"/>
<path d="M337,247 L340,252" fill="none" stroke="#b02010" stroke-width="1.2" stroke-linecap="round" stroke-linejoin="round" opacity="0.5" filter="url(#b05)"/>
<path d="M319,244 L323,249" fill="none" stroke="#a01c0c" stroke-width="1.2" stroke-linecap="round" stroke-linejoin="round" opacity="0.4" filter="url(#b05)"/>
<ellipse cx="335.4" cy="257.1" rx="7" ry="2.8" transform="rotate(0 335.4 257.1)" fill="#ff7020" opacity="0.7" filter="url(#b1)"/>
<ellipse cx="335.4" cy="257.1" rx="3.6" ry="1.5" transform="rotate(0 335.4 257.1)" fill="#ffe880" opacity="1" filter="url(#b05)"/>
<ellipse cx="222" cy="289" rx="2.2" ry="2" transform="rotate(0 222 289)" fill="#ff7020" opacity="1" filter="url(#b05)"/>
<ellipse cx="233.7" cy="288" rx="1.8" ry="1.6" transform="rotate(0 233.7 288)" fill="#ff8030" opacity="0.9" filter="url(#b05)"/>
<ellipse cx="233.7" cy="292.7" rx="2" ry="1.8" transform="rotate(0 233.7 292.7)" fill="#ffc050" opacity="1" filter="url(#b05)"/>
<g filter="url(#rough)">
<path d="M50,286 C57,282 66,278 83,273" fill="none" stroke="#c82a0a" stroke-width="9" stroke-linecap="round" stroke-linejoin="round" opacity="0.5" filter="url(#b1)"/>
<path d="M52,284.5 C60,281.5 68,278 82,273.5" fill="none" stroke="#ff6418" stroke-width="6.5" stroke-linecap="round" stroke-linejoin="round" opacity="0.9" filter="url(#b08)"/>
<path d="M61,280.5 C67,278.5 73,276.5 80,274.3" fill="none" stroke="#ff9a38" stroke-width="4.2" stroke-linecap="round" stroke-linejoin="round" opacity="0.95" filter="url(#b08)"/>
<path d="M66,279 C70,277.6 74,276.4 78.5,275.2" fill="none" stroke="#ffcc66" stroke-width="2" stroke-linecap="round" stroke-linejoin="round" opacity="0.85" filter="url(#b05)"/>
<ellipse cx="51.5" cy="288" rx="3.5" ry="5.5" transform="rotate(10 51.5 288)" fill="#ff6418" opacity="0.85" filter="url(#b08)"/>
<ellipse cx="54.5" cy="292" rx="2" ry="3" transform="rotate(0 54.5 292)" fill="#ff6418" opacity="0.7" filter="url(#b05)"/>
<ellipse cx="55" cy="277.5" rx="2.5" ry="1.6" transform="rotate(20 55 277.5)" fill="#ff6418" opacity="0.8" filter="url(#b05)"/>
<ellipse cx="61" cy="291" rx="5" ry="2.5" transform="rotate(0 61 291)" fill="#c82a0a" opacity="0.45" filter="url(#b1)"/>
<ellipse cx="72" cy="292" rx="2.5" ry="1.6" transform="rotate(0 72 292)" fill="#c82a0a" opacity="0.5" filter="url(#b05)"/>
<path d="M70.5,288 C71,298 70,310 69,331" fill="none" stroke="#c82a0a" stroke-width="4" stroke-linecap="round" stroke-linejoin="round" opacity="0.65" filter="url(#b08)"/>
<path d="M70.5,292 C70.5,300 70,312 69,327" fill="none" stroke="#ff6418" stroke-width="2.2" stroke-linecap="round" stroke-linejoin="round" opacity="0.8" filter="url(#b05)"/>
<ellipse cx="68.8" cy="316" rx="1.8" ry="2.2" transform="rotate(0 68.8 316)" fill="#ff9a38" opacity="0.9" filter="url(#b05)"/>
<ellipse cx="67.8" cy="326" rx="1.8" ry="2" transform="rotate(0 67.8 326)" fill="#ff9a38" opacity="0.8" filter="url(#b05)"/>
<ellipse cx="70.3" cy="300" rx="1.4" ry="1.8" transform="rotate(0 70.3 300)" fill="#ff9a38" opacity="0.7" filter="url(#b05)"/>
<ellipse cx="80" cy="303" rx="1.5" ry="2.5" transform="rotate(0 80 303)" fill="#c82a0a" opacity="0.7" filter="url(#b05)"/>
<ellipse cx="84" cy="287" rx="1.2" ry="3" transform="rotate(0 84 287)" fill="#c82a0a" opacity="0.6" filter="url(#b05)"/>
<polygon points="50,343 56,335 62,331 70,328 77,332 81,338 75,344 60,346" fill="#c82a0a" opacity="0.65" filter="url(#b1)"/>
<ellipse cx="64" cy="338" rx="8" ry="3.5" transform="rotate(0 64 338)" fill="#c82a0a" opacity="0.55" filter="url(#b1)"/>
<ellipse cx="67" cy="333" rx="4.5" ry="2.8" transform="rotate(0 67 333)" fill="#ff6418" opacity="0.75" filter="url(#b08)"/>
<ellipse cx="68" cy="330" rx="2.2" ry="2" transform="rotate(0 68 330)" fill="#ff9a38" opacity="0.8" filter="url(#b05)"/>
<ellipse cx="129.5" cy="271.8" rx="4" ry="3.2" transform="rotate(0 129.5 271.8)" fill="#ff6418" opacity="1" filter="url(#b08)"/>
<ellipse cx="129.5" cy="271.8" rx="2" ry="1.6" transform="rotate(0 129.5 271.8)" fill="#ff9a38" opacity="1" filter="url(#b05)"/>
<path d="M129.5,271.8 C137,273.7 150,275.6 161,278.3 L169,281 L173,284" fill="none" stroke="#c82a0a" stroke-width="7.5" stroke-linecap="round" stroke-linejoin="round" opacity="0.7" filter="url(#b1)"/>
<path d="M129.5,271.8 C137,273.7 150,275.6 161,278.3 L169,281 L172.5,284" fill="none" stroke="#ff6418" stroke-width="4.4" stroke-linecap="round" stroke-linejoin="round" opacity="1" filter="url(#b08)"/>
<path d="M136,273.3 C146,274.8 155,276.6 165,279.6" fill="none" stroke="#ff9a38" stroke-width="2" stroke-linecap="round" stroke-linejoin="round" opacity="0.9" filter="url(#b05)"/>
<ellipse cx="147.6" cy="282" rx="2.8" ry="1.8" transform="rotate(0 147.6 282)" fill="#c82a0a" opacity="0.8" filter="url(#b05)"/>
<polygon points="174,280 178,286 174,293 166,298 158,302 151,306 142,308 135,305 134,296 137,287 142,284 147,289 153,290 161,286 168,282" fill="#c82a0a" opacity="0.75" filter="url(#b2)"/>
<polygon points="173,282 176,287 172,292 164,297 156,301 150,304 142,305 137,301 137,293 140,288 143,287 148,291 155,291 162,287 168,284" fill="#ff6418" opacity="0.95" filter="url(#b1)"/>
<path d="M171,286 C165,290 156,294 146,298" fill="none" stroke="#ff9a38" stroke-width="7" stroke-linecap="round" stroke-linejoin="round" opacity="0.95" filter="url(#b1)"/>
<path d="M168,287.5 C162,291 156,293.5 149,297" fill="none" stroke="#ffcc66" stroke-width="3.4" stroke-linecap="round" stroke-linejoin="round" opacity="0.95" filter="url(#b08)"/>
<ellipse cx="142" cy="295" rx="4" ry="6" transform="rotate(0 142 295)" fill="#ff9a38" opacity="0.85" filter="url(#b1)"/>
<ellipse cx="143" cy="294" rx="2" ry="3" transform="rotate(0 143 294)" fill="#ffcc66" opacity="0.7" filter="url(#b08)"/>
<path d="M150.4,298.5 C151.5,305 152.5,311 153.1,318" fill="none" stroke="#ff6418" stroke-width="4.5" stroke-linecap="round" stroke-linejoin="round" opacity="0.8" filter="url(#b1)"/>
<path d="M150.6,299 C151.5,305 152.3,310 152.8,314" fill="none" stroke="#ff9a38" stroke-width="2.2" stroke-linecap="round" stroke-linejoin="round" opacity="0.9" filter="url(#b05)"/>
<path d="M157.2,295.8 C158.5,304 159.5,313 159.9,321.4" fill="none" stroke="#ff6418" stroke-width="4.5" stroke-linecap="round" stroke-linejoin="round" opacity="0.8" filter="url(#b1)"/>
<path d="M157.4,296.5 C158.5,303 159.2,309 159.6,314" fill="none" stroke="#ff9a38" stroke-width="2.2" stroke-linecap="round" stroke-linejoin="round" opacity="0.9" filter="url(#b05)"/>
<path d="M163.9,290.4 C163.5,298 162.5,305 161.2,312" fill="none" stroke="#ff6418" stroke-width="4" stroke-linecap="round" stroke-linejoin="round" opacity="0.8" filter="url(#b1)"/>
<path d="M146.4,301.2 C146.8,306 147,310 147.2,314.7" fill="none" stroke="#c82a0a" stroke-width="3.5" stroke-linecap="round" stroke-linejoin="round" opacity="0.8" filter="url(#b1)"/>
<path d="M153,318 C153,322 152.5,327 152,331" fill="none" stroke="#c82a0a" stroke-width="2.2" stroke-linecap="round" stroke-linejoin="round" opacity="0.6" filter="url(#b1)"/>
<ellipse cx="150.4" cy="336.3" rx="1.2" ry="2.5" transform="rotate(0 150.4 336.3)" fill="#c82a0a" opacity="0.6" filter="url(#b08)"/>
<ellipse cx="241" cy="274" rx="23" ry="14" transform="rotate(-12 241 274)" fill="#c83030" opacity="0.75" filter="url(#b3)"/>
<ellipse cx="241" cy="273.5" rx="21.5" ry="13" transform="rotate(-12 241 273.5)" fill="#f86458" opacity="0.95" filter="url(#mottle)"/>
<ellipse cx="243" cy="271" rx="15" ry="8" transform="rotate(-12 243 271)" fill="#ffa49a" opacity="0.6" filter="url(#mottle)"/>
<ellipse cx="228" cy="258" rx="10" ry="4" transform="rotate(-10 228 258)" fill="#9a9a9a" opacity="0.35" filter="url(#b2)"/>
<ellipse cx="226" cy="291" rx="7" ry="3.5" transform="rotate(0 226 291)" fill="#c82a0a" opacity="0.6" filter="url(#b2)"/>
<ellipse cx="238" cy="288" rx="4" ry="2" transform="rotate(0 238 288)" fill="#c82a0a" opacity="0.6" filter="url(#b1)"/>
<ellipse cx="246" cy="326" rx="1.5" ry="2" transform="rotate(0 246 326)" fill="#c82a0a" opacity="0.7" filter="url(#b05)"/>
<ellipse cx="250" cy="329" rx="2.5" ry="1.5" transform="rotate(0 250 329)" fill="#c82a0a" opacity="0.6" filter="url(#b05)"/>
<ellipse cx="254" cy="336" rx="1" ry="1" transform="rotate(0 254 336)" fill="#c82a0a" opacity="0.6" filter="url(#b05)"/>
<ellipse cx="245" cy="306" rx="1" ry="1.5" transform="rotate(0 245 306)" fill="#c82a0a" opacity="0.5" filter="url(#b05)"/>
<ellipse cx="331" cy="261" rx="18" ry="3" transform="rotate(0 331 261)" fill="#c8b0a8" opacity="0.5" filter="url(#b2)"/>
<ellipse cx="312" cy="275" rx="6" ry="14" transform="rotate(0 312 275)" fill="#909090" opacity="0.3" filter="url(#b3)"/>
<polygon points="310,286 309,272 314,264 330,262 349,263 352,267 351,279 346,283 330,282 318,283 316,288" fill="#c82a0a" opacity="0.75" filter="url(#b2)"/>
<polygon points="311,283 311,270 317,265 332,264 348,265 350,272 347,278 330,279 318,280" fill="#ff6418" opacity="0.9" filter="url(#b1)"/>
<path d="M315,272 C327,269.5 338,269 347,270" fill="none" stroke="#ff9a38" stroke-width="8" stroke-linecap="round" stroke-linejoin="round" opacity="0.95" filter="url(#b1)"/>
<path d="M318,270.5 C328,269 338,268.5 346,269.5" fill="none" stroke="#ffb458" stroke-width="5.5" stroke-linecap="round" stroke-linejoin="round" opacity="0.95" filter="url(#b1)"/>
<path d="M321,270 C330,269 337,268.5 344,269.5" fill="none" stroke="#ffd088" stroke-width="3" stroke-linecap="round" stroke-linejoin="round" opacity="0.85" filter="url(#b08)"/>
<path d="M313,274 L312.5,281" fill="none" stroke="#ff9040" stroke-width="3" stroke-linecap="round" stroke-linejoin="round" opacity="0.8" filter="url(#b1)"/>
<path d="M346,272 C346,282 346,292 346,302" fill="none" stroke="#ff6418" stroke-width="5" stroke-linecap="round" stroke-linejoin="round" opacity="0.85" filter="url(#b1)"/>
<path d="M346,273 C346,280 346,287 346,294" fill="none" stroke="#ff9a38" stroke-width="2.6" stroke-linecap="round" stroke-linejoin="round" opacity="0.9" filter="url(#b08)"/>
<path d="M346.5,300 C347,310 347,318 347,330" fill="none" stroke="#c82a0a" stroke-width="4.5" stroke-linecap="round" stroke-linejoin="round" opacity="0.65" filter="url(#b1)"/>
<path d="M334.5,276 C334.5,286 334,294 333.5,302" fill="none" stroke="#ff6418" stroke-width="4.5" stroke-linecap="round" stroke-linejoin="round" opacity="0.85" filter="url(#b1)"/>
<path d="M334.5,277 C334.5,283 334.3,288 334,293" fill="none" stroke="#ff9a38" stroke-width="2.4" stroke-linecap="round" stroke-linejoin="round" opacity="0.85" filter="url(#b08)"/>
<path d="M333.5,300 C333,306 332.5,311 332,316" fill="none" stroke="#c82a0a" stroke-width="3.8" stroke-linecap="round" stroke-linejoin="round" opacity="0.65" filter="url(#b1)"/>
<ellipse cx="330" cy="337" rx="5" ry="5" transform="rotate(0 330 337)" fill="#c82a0a" opacity="0.55" filter="url(#b1)"/>
<ellipse cx="341" cy="332" rx="5" ry="3.5" transform="rotate(0 341 332)" fill="#c82a0a" opacity="0.55" filter="url(#b1)"/>
<ellipse cx="336" cy="320" rx="2.5" ry="3.5" transform="rotate(0 336 320)" fill="#c82a0a" opacity="0.45" filter="url(#b1)"/>
<ellipse cx="326" cy="326" rx="2" ry="2.5" transform="rotate(0 326 326)" fill="#c82a0a" opacity="0.4" filter="url(#b1)"/>
</g>
<path d="M41.9 218.0L55.6 209.3M55.6 209.3L92.8 217.2M92.8 217.2L76.8 223.6M76.8 223.6L41.9 218.0M43.7 336.5L56.5 348.1M56.5 348.1L91.2 337.4M91.2 337.4L77.1 328.6M77.1 328.6L43.7 336.5M41.9 218.0L43.7 336.5M55.6 209.3L56.5 348.1M92.8 217.2L91.2 337.4M76.8 223.6L77.1 328.6" stroke="#7e4424" stroke-width="0.5" opacity="0.75" fill="none"/>
<path d="M124.1 218.0L137.8 209.3M137.8 209.3L175.0 217.2M175.0 217.2L159.0 223.6M159.0 223.6L124.1 218.0M125.9 336.5L138.7 348.1M138.7 348.1L173.4 337.4M173.4 337.4L159.3 328.6M159.3 328.6L125.9 336.5M124.1 218.0L125.9 336.5M137.8 209.3L138.7 348.1M175.0 217.2L173.4 337.4M159.0 223.6L159.3 328.6" stroke="#7e4424" stroke-width="0.5" opacity="0.75" fill="none"/>
<path d="M214.4 218.0L228.1 209.3M228.1 209.3L265.3 217.2M265.3 217.2L249.3 223.6M249.3 223.6L214.4 218.0M216.2 336.5L229.0 348.1M229.0 348.1L263.7 337.4M263.7 337.4L249.6 328.6M249.6 328.6L216.2 336.5M214.4 218.0L216.2 336.5M228.1 209.3L229.0 348.1M265.3 217.2L263.7 337.4M249.3 223.6L249.6 328.6" stroke="#7e4424" stroke-width="0.5" opacity="0.75" fill="none"/>
<path d="M304.9 218.0L318.6 209.3M318.6 209.3L355.8 217.2M355.8 217.2L339.8 223.6M339.8 223.6L304.9 218.0M306.7 336.5L319.5 348.1M319.5 348.1L354.2 337.4M354.2 337.4L340.1 328.6M340.1 328.6L306.7 336.5M304.9 218.0L306.7 336.5M318.6 209.3L319.5 348.1M355.8 217.2L354.2 337.4M339.8 223.6L340.1 328.6" stroke="#7e4424" stroke-width="0.5" opacity="0.75" fill="none"/>
<text x="33.3" y="360.8" font-size="9" font-weight="bold" fill="#f4f4f4">a.</text>
<text x="123.2" y="360.8" font-size="9" font-weight="bold" fill="#f4f4f4">b.</text>
<text x="211" y="360.8" font-size="9" font-weight="bold" fill="#f4f4f4">c.</text>
<text x="303.8" y="360.8" font-size="9" font-weight="bold" fill="#f4f4f4">d.</text>
</svg></body></html>
